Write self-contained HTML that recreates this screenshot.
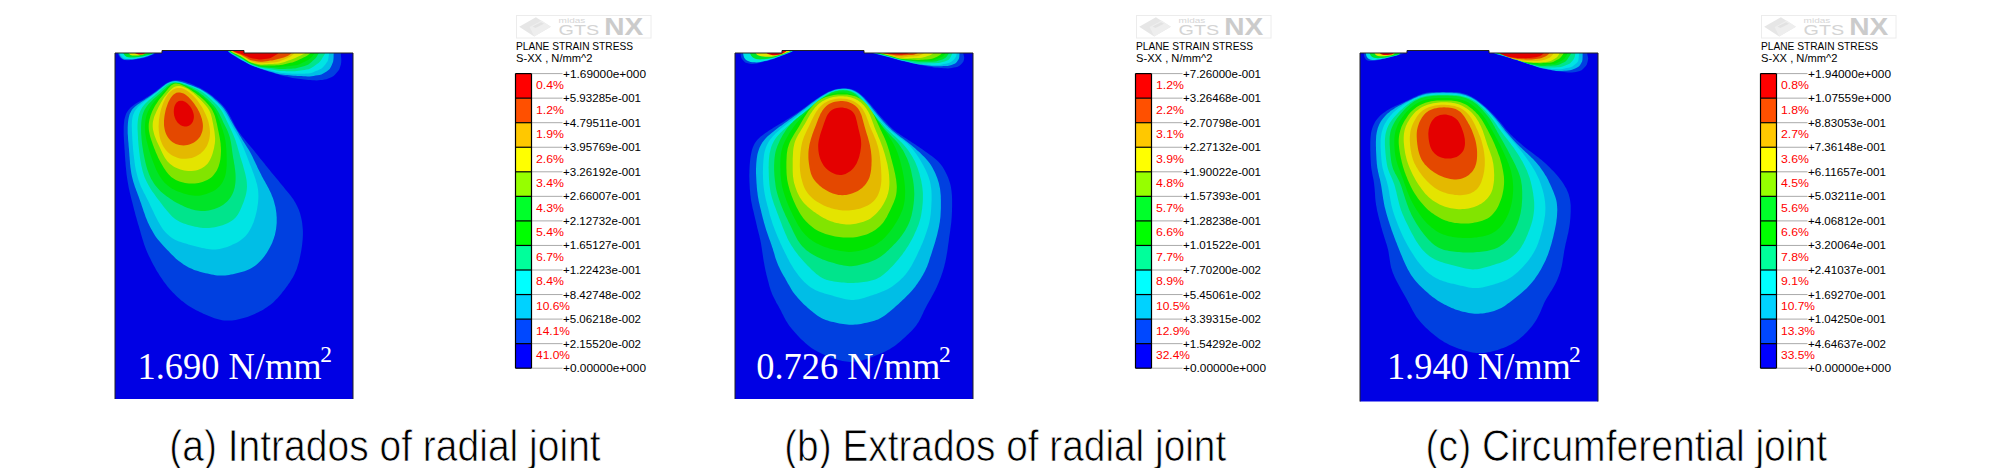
<!DOCTYPE html>
<html><head><meta charset="utf-8"><style>
html,body{margin:0;padding:0;background:#fff;width:2008px;height:468px;overflow:hidden;}
svg{display:block;}
</style></head><body>
<svg width="2008" height="468" viewBox="0 0 2008 468">
<clipPath id="clip0"><path d="M115,399 L115,53 L162,53 L162,50.5 L244,50.5 L244,53 L353,53 L353,399Z"/></clipPath>
<path d="M115,399 L115,53 L162,53 L162,50.5 L244,50.5 L244,53 L353,53 L353,399Z" fill="#0000e4"/>
<g clip-path="url(#clip0)"><g>
<path d="M175.1,80.3 L177.0,80.2 L178.9,80.4 L180.8,80.6 L182.7,81.1 L184.6,81.6 L186.4,82.2 L188.3,82.9 L190.2,83.6 L192.0,84.3 L193.8,85.1 L195.7,85.9 L197.5,86.7 L199.3,87.6 L201.1,88.5 L202.8,89.4 L204.5,90.4 L206.2,91.4 L207.9,92.5 L209.5,93.7 L211.1,94.9 L212.6,96.1 L214.2,97.4 L215.7,98.7 L217.2,100.0 L218.7,101.3 L220.1,102.7 L221.5,104.1 L222.8,105.6 L224.1,107.0 L225.4,108.6 L226.5,110.2 L227.6,111.8 L228.6,113.5 L229.6,115.2 L230.5,116.9 L231.4,118.7 L232.3,120.5 L233.2,122.3 L234.1,124.0 L235.0,125.8 L236.0,127.5 L237.0,129.2 L238.1,130.9 L239.2,132.5 L240.4,134.1 L241.6,135.7 L242.8,137.3 L244.1,138.8 L245.4,140.4 L246.7,141.9 L247.9,143.4 L249.2,145.0 L250.5,146.5 L251.8,148.1 L253.1,149.6 L254.3,151.1 L255.6,152.7 L256.9,154.2 L258.1,155.8 L259.4,157.4 L260.6,158.9 L261.9,160.5 L263.1,162.0 L264.4,163.6 L265.6,165.2 L266.9,166.7 L268.1,168.3 L269.4,169.8 L270.7,171.4 L271.9,172.9 L273.2,174.5 L274.5,176.0 L275.7,177.6 L277.0,179.1 L278.3,180.6 L279.6,182.2 L280.8,183.7 L282.1,185.3 L283.4,186.8 L284.7,188.4 L285.9,189.9 L287.2,191.4 L288.5,193.0 L289.7,194.5 L290.9,196.1 L292.1,197.7 L293.3,199.3 L294.3,201.0 L295.4,202.7 L296.3,204.4 L297.2,206.2 L298.0,208.0 L298.8,209.8 L299.5,211.7 L300.1,213.6 L300.6,215.5 L301.1,217.4 L301.5,219.3 L301.9,221.3 L302.2,223.2 L302.4,225.2 L302.6,227.2 L302.8,229.2 L302.9,231.2 L302.9,233.2 L302.9,235.1 L302.8,237.1 L302.7,239.1 L302.5,241.1 L302.3,243.1 L302.1,245.1 L301.8,247.0 L301.5,249.0 L301.2,251.0 L300.8,253.0 L300.4,254.9 L300.0,256.9 L299.6,258.8 L299.2,260.8 L298.7,262.7 L298.1,264.6 L297.5,266.5 L296.9,268.4 L296.2,270.3 L295.4,272.1 L294.6,273.9 L293.7,275.7 L292.8,277.4 L291.8,279.1 L290.7,280.8 L289.7,282.5 L288.5,284.1 L287.4,285.7 L286.2,287.3 L285.0,288.9 L283.8,290.5 L282.5,292.1 L281.3,293.7 L280.0,295.2 L278.7,296.7 L277.4,298.2 L276.0,299.6 L274.6,301.0 L273.2,302.4 L271.7,303.7 L270.1,304.9 L268.5,306.1 L266.9,307.2 L265.2,308.3 L263.5,309.4 L261.8,310.4 L260.1,311.3 L258.3,312.2 L256.5,313.1 L254.7,314.0 L252.9,314.8 L251.0,315.5 L249.2,316.2 L247.3,316.9 L245.4,317.5 L243.5,318.1 L241.6,318.6 L239.7,319.1 L237.7,319.6 L235.8,319.9 L233.8,320.2 L231.9,320.5 L229.9,320.6 L228.0,320.6 L226.0,320.6 L224.1,320.4 L222.1,320.2 L220.2,319.8 L218.3,319.3 L216.4,318.8 L214.5,318.2 L212.6,317.5 L210.8,316.8 L208.9,316.1 L207.1,315.3 L205.3,314.5 L203.4,313.7 L201.6,312.8 L199.8,312.0 L198.0,311.1 L196.2,310.2 L194.5,309.3 L192.7,308.3 L191.0,307.3 L189.3,306.3 L187.7,305.2 L186.0,304.0 L184.4,302.8 L182.9,301.6 L181.3,300.4 L179.8,299.1 L178.3,297.7 L176.9,296.4 L175.4,295.0 L174.0,293.6 L172.6,292.2 L171.3,290.7 L169.9,289.2 L168.6,287.7 L167.3,286.2 L166.1,284.6 L164.9,283.0 L163.7,281.4 L162.6,279.8 L161.4,278.1 L160.3,276.5 L159.2,274.8 L158.2,273.1 L157.1,271.4 L156.1,269.7 L155.2,267.9 L154.2,266.2 L153.2,264.4 L152.3,262.7 L151.4,260.9 L150.5,259.1 L149.6,257.3 L148.7,255.5 L147.9,253.7 L147.1,251.9 L146.3,250.0 L145.6,248.2 L144.9,246.3 L144.2,244.4 L143.6,242.5 L143.0,240.6 L142.4,238.7 L141.8,236.8 L141.3,234.9 L140.7,233.0 L140.2,231.1 L139.6,229.1 L139.1,227.2 L138.5,225.3 L137.9,223.4 L137.4,221.5 L136.8,219.5 L136.3,217.6 L135.7,215.7 L135.2,213.7 L134.7,211.8 L134.2,209.9 L133.7,207.9 L133.2,206.0 L132.7,204.1 L132.2,202.1 L131.7,200.2 L131.2,198.3 L130.7,196.3 L130.3,194.4 L129.8,192.4 L129.4,190.5 L128.9,188.5 L128.5,186.6 L128.2,184.6 L127.8,182.6 L127.5,180.7 L127.2,178.7 L126.9,176.7 L126.6,174.7 L126.4,172.7 L126.2,170.8 L126.0,168.8 L125.8,166.8 L125.6,164.8 L125.5,162.8 L125.3,160.8 L125.2,158.8 L125.0,156.8 L124.9,154.8 L124.8,152.8 L124.7,150.8 L124.5,148.8 L124.4,146.8 L124.3,144.8 L124.1,142.8 L124.0,140.8 L123.9,138.8 L123.8,136.8 L123.7,134.8 L123.7,132.9 L123.7,130.9 L123.7,128.9 L123.7,126.9 L123.8,124.9 L124.0,122.9 L124.2,121.0 L124.5,119.1 L125.0,117.2 L125.5,115.4 L126.2,113.6 L127.1,112.0 L128.1,110.4 L129.3,109.0 L130.6,107.6 L132.0,106.4 L133.6,105.2 L135.2,104.1 L136.8,103.1 L138.6,102.1 L140.3,101.1 L142.0,100.2 L143.7,99.2 L145.5,98.1 L147.2,97.1 L148.8,96.0 L150.5,94.9 L152.2,93.8 L153.8,92.7 L155.4,91.5 L157.0,90.3 L158.6,89.1 L160.1,87.8 L161.7,86.6 L163.2,85.4 L164.8,84.3 L166.4,83.2 L168.1,82.3 L169.8,81.5 L171.5,80.9 L173.3,80.5Z" fill="#0040e0"/>
<path d="M175.5,81.1 L177.4,81.3 L179.2,81.5 L181.1,82.0 L183.0,82.5 L184.9,83.1 L186.8,83.7 L188.6,84.4 L190.5,85.1 L192.4,85.8 L194.3,86.5 L196.1,87.2 L197.9,88.0 L199.7,88.8 L201.5,89.7 L203.2,90.7 L204.9,91.7 L206.6,92.7 L208.2,93.9 L209.8,95.1 L211.4,96.3 L212.9,97.6 L214.4,98.9 L215.9,100.2 L217.4,101.5 L218.8,102.9 L220.2,104.3 L221.6,105.8 L222.9,107.2 L224.1,108.8 L225.2,110.4 L226.3,112.0 L227.3,113.7 L228.3,115.4 L229.2,117.1 L230.1,118.9 L231.1,120.6 L232.0,122.3 L233.0,124.1 L234.0,125.8 L235.0,127.5 L236.1,129.2 L237.1,130.9 L238.1,132.6 L239.1,134.4 L240.1,136.1 L241.2,137.8 L242.2,139.5 L243.3,141.2 L244.3,142.8 L245.4,144.5 L246.5,146.2 L247.6,147.9 L248.6,149.6 L249.6,151.3 L250.6,153.0 L251.5,154.8 L252.4,156.6 L253.3,158.4 L254.1,160.2 L255.0,162.0 L255.8,163.8 L256.7,165.6 L257.5,167.4 L258.4,169.2 L259.3,171.0 L260.2,172.8 L261.1,174.6 L262.0,176.4 L262.9,178.1 L263.9,179.9 L264.9,181.6 L265.9,183.4 L266.8,185.1 L267.8,186.9 L268.7,188.6 L269.6,190.4 L270.5,192.2 L271.3,194.0 L272.0,195.9 L272.8,197.7 L273.4,199.6 L274.0,201.5 L274.5,203.4 L275.0,205.4 L275.5,207.3 L275.8,209.3 L276.1,211.2 L276.4,213.2 L276.5,215.2 L276.7,217.2 L276.7,219.1 L276.7,221.1 L276.7,223.1 L276.5,225.1 L276.3,227.1 L276.1,229.1 L275.7,231.0 L275.3,233.0 L274.9,234.9 L274.3,236.8 L273.7,238.7 L273.0,240.5 L272.3,242.4 L271.5,244.2 L270.6,246.0 L269.7,247.7 L268.7,249.5 L267.7,251.2 L266.7,252.9 L265.6,254.5 L264.4,256.2 L263.2,257.7 L262.0,259.3 L260.6,260.7 L259.3,262.1 L257.8,263.5 L256.4,264.8 L254.8,266.0 L253.2,267.1 L251.6,268.1 L249.8,269.0 L248.1,269.8 L246.3,270.6 L244.4,271.2 L242.5,271.8 L240.6,272.3 L238.7,272.8 L236.7,273.3 L234.8,273.7 L232.9,274.2 L230.9,274.6 L229.0,274.9 L227.0,275.2 L225.1,275.5 L223.1,275.6 L221.2,275.6 L219.2,275.6 L217.3,275.4 L215.3,275.2 L213.4,274.8 L211.4,274.5 L209.5,274.1 L207.5,273.6 L205.6,273.2 L203.6,272.7 L201.7,272.2 L199.8,271.7 L197.9,271.1 L196.0,270.5 L194.1,269.9 L192.3,269.1 L190.5,268.3 L188.7,267.4 L187.0,266.5 L185.3,265.5 L183.6,264.4 L182.0,263.3 L180.3,262.1 L178.8,260.9 L177.2,259.7 L175.7,258.4 L174.3,257.0 L172.8,255.6 L171.4,254.2 L170.0,252.8 L168.7,251.3 L167.3,249.9 L165.9,248.5 L164.5,247.0 L163.1,245.6 L161.8,244.1 L160.5,242.6 L159.2,241.1 L157.9,239.6 L156.7,238.0 L155.6,236.4 L154.5,234.7 L153.5,233.0 L152.5,231.3 L151.5,229.5 L150.5,227.8 L149.6,226.0 L148.8,224.2 L147.9,222.4 L147.1,220.6 L146.4,218.7 L145.6,216.9 L145.0,215.0 L144.3,213.1 L143.6,211.2 L143.0,209.3 L142.4,207.4 L141.7,205.5 L141.1,203.6 L140.4,201.7 L139.7,199.8 L139.1,198.0 L138.4,196.1 L137.7,194.2 L137.0,192.3 L136.3,190.5 L135.6,188.6 L134.9,186.7 L134.3,184.8 L133.7,182.9 L133.1,181.0 L132.6,179.1 L132.1,177.1 L131.7,175.2 L131.3,173.2 L131.0,171.3 L130.7,169.3 L130.4,167.3 L130.2,165.3 L130.0,163.3 L129.9,161.3 L129.7,159.3 L129.6,157.4 L129.4,155.4 L129.3,153.4 L129.1,151.4 L129.0,149.4 L128.8,147.4 L128.6,145.4 L128.5,143.4 L128.3,141.4 L128.1,139.4 L128.0,137.4 L127.9,135.4 L127.7,133.4 L127.7,131.4 L127.7,129.4 L127.7,127.4 L127.8,125.4 L127.9,123.5 L128.1,121.5 L128.4,119.6 L128.7,117.7 L129.2,115.8 L129.7,114.1 L130.5,112.4 L131.4,110.8 L132.4,109.3 L133.6,107.9 L134.9,106.7 L136.4,105.4 L138.0,104.3 L139.6,103.2 L141.2,102.1 L142.9,101.0 L144.6,99.9 L146.2,98.8 L147.9,97.7 L149.6,96.6 L151.2,95.5 L152.8,94.3 L154.4,93.1 L156.0,91.9 L157.6,90.7 L159.1,89.4 L160.7,88.2 L162.2,86.9 L163.8,85.7 L165.3,84.6 L166.9,83.6 L168.5,82.7 L170.2,82.0 L171.9,81.5 L173.7,81.2Z" fill="#00bee6"/>
<path d="M176.1,81.6 L177.9,81.8 L179.8,82.1 L181.6,82.6 L183.5,83.1 L185.4,83.7 L187.3,84.4 L189.2,85.0 L191.1,85.7 L192.9,86.4 L194.8,87.2 L196.6,87.9 L198.4,88.8 L200.2,89.6 L202.0,90.6 L203.6,91.6 L205.3,92.7 L206.9,93.8 L208.5,95.0 L210.0,96.3 L211.5,97.6 L213.0,98.9 L214.5,100.3 L215.9,101.7 L217.4,103.1 L218.7,104.5 L220.1,106.0 L221.3,107.5 L222.6,109.0 L223.7,110.6 L224.8,112.3 L225.8,114.0 L226.7,115.7 L227.7,117.5 L228.6,119.2 L229.5,121.0 L230.5,122.8 L231.4,124.5 L232.4,126.2 L233.4,128.0 L234.4,129.7 L235.4,131.5 L236.4,133.2 L237.3,135.0 L238.3,136.7 L239.2,138.5 L240.1,140.3 L241.0,142.1 L241.8,144.0 L242.6,145.8 L243.4,147.6 L244.2,149.5 L244.9,151.3 L245.7,153.2 L246.4,155.1 L247.2,156.9 L247.9,158.8 L248.6,160.7 L249.3,162.5 L250.0,164.4 L250.8,166.3 L251.5,168.2 L252.2,170.0 L252.9,171.9 L253.6,173.8 L254.3,175.7 L254.9,177.6 L255.6,179.5 L256.1,181.4 L256.7,183.3 L257.2,185.2 L257.6,187.2 L257.9,189.1 L258.2,191.1 L258.3,193.0 L258.4,195.0 L258.4,197.0 L258.3,199.0 L258.2,201.0 L258.0,203.0 L257.7,205.0 L257.4,206.9 L257.1,208.9 L256.7,210.9 L256.3,212.8 L255.8,214.8 L255.3,216.7 L254.7,218.6 L254.1,220.5 L253.5,222.4 L252.7,224.2 L251.9,226.1 L251.1,227.8 L250.1,229.6 L249.1,231.3 L248.0,232.9 L246.8,234.4 L245.6,235.9 L244.2,237.3 L242.8,238.6 L241.2,239.8 L239.6,240.9 L238.0,241.9 L236.3,242.9 L234.5,243.8 L232.7,244.6 L230.9,245.4 L229.0,246.2 L227.2,246.9 L225.3,247.5 L223.4,248.1 L221.5,248.6 L219.6,249.0 L217.6,249.3 L215.7,249.5 L213.8,249.6 L211.8,249.5 L209.9,249.3 L208.0,249.1 L206.0,248.7 L204.1,248.3 L202.1,247.9 L200.2,247.4 L198.2,246.9 L196.3,246.4 L194.3,245.9 L192.4,245.4 L190.5,244.9 L188.5,244.4 L186.6,243.8 L184.7,243.3 L182.8,242.7 L180.9,242.1 L179.0,241.4 L177.2,240.7 L175.4,239.9 L173.7,239.0 L172.0,238.0 L170.4,236.8 L168.9,235.6 L167.5,234.3 L166.1,232.9 L164.8,231.5 L163.5,229.9 L162.4,228.4 L161.3,226.7 L160.2,225.0 L159.2,223.3 L158.2,221.6 L157.3,219.8 L156.4,218.0 L155.5,216.2 L154.6,214.4 L153.7,212.6 L152.9,210.8 L152.0,209.0 L151.2,207.2 L150.3,205.4 L149.5,203.6 L148.6,201.8 L147.7,200.0 L146.8,198.2 L145.9,196.4 L145.0,194.6 L144.0,192.9 L143.1,191.1 L142.3,189.3 L141.4,187.5 L140.6,185.7 L139.9,183.8 L139.2,181.9 L138.5,180.1 L137.9,178.1 L137.4,176.2 L136.9,174.3 L136.4,172.3 L136.0,170.4 L135.6,168.4 L135.2,166.5 L134.9,164.5 L134.6,162.5 L134.4,160.5 L134.1,158.5 L133.9,156.5 L133.6,154.5 L133.4,152.5 L133.2,150.5 L133.0,148.5 L132.9,146.5 L132.7,144.5 L132.6,142.5 L132.4,140.5 L132.3,138.5 L132.2,136.5 L132.1,134.5 L132.0,132.5 L131.9,130.5 L131.9,128.5 L131.8,126.5 L131.8,124.5 L131.9,122.6 L132.0,120.6 L132.3,118.7 L132.6,116.8 L133.1,115.0 L133.8,113.2 L134.6,111.5 L135.5,109.9 L136.7,108.4 L137.9,106.9 L139.3,105.6 L140.8,104.3 L142.3,103.0 L143.8,101.8 L145.4,100.6 L147.1,99.4 L148.7,98.2 L150.3,97.0 L151.9,95.8 L153.5,94.6 L155.1,93.4 L156.7,92.2 L158.2,90.9 L159.8,89.7 L161.3,88.4 L162.8,87.1 L164.4,85.9 L165.9,84.8 L167.5,83.8 L169.1,82.9 L170.7,82.3 L172.5,81.8 L174.2,81.6Z" fill="#00e4e4"/>
<path d="M176.6,82.2 L178.4,82.4 L180.3,82.8 L182.2,83.3 L184.0,83.9 L185.9,84.5 L187.8,85.2 L189.7,85.9 L191.5,86.6 L193.4,87.4 L195.2,88.2 L197.0,89.0 L198.8,89.9 L200.5,90.9 L202.1,92.0 L203.7,93.1 L205.3,94.3 L206.9,95.6 L208.4,96.9 L209.9,98.2 L211.4,99.5 L212.8,100.9 L214.3,102.3 L215.7,103.7 L217.1,105.1 L218.4,106.6 L219.7,108.1 L220.8,109.6 L221.9,111.3 L222.9,112.9 L223.8,114.7 L224.7,116.4 L225.6,118.2 L226.4,120.0 L227.2,121.8 L228.1,123.6 L229.0,125.5 L229.8,127.3 L230.7,129.1 L231.6,130.9 L232.4,132.7 L233.2,134.5 L234.0,136.4 L234.7,138.2 L235.4,140.1 L236.0,142.0 L236.6,143.9 L237.2,145.8 L237.7,147.8 L238.3,149.7 L238.8,151.6 L239.4,153.5 L239.9,155.5 L240.5,157.4 L241.1,159.3 L241.7,161.2 L242.3,163.1 L242.9,165.1 L243.4,167.0 L244.0,168.9 L244.5,170.9 L245.0,172.8 L245.5,174.7 L245.9,176.7 L246.3,178.7 L246.6,180.6 L246.8,182.6 L246.9,184.6 L247.0,186.5 L246.9,188.5 L246.7,190.4 L246.4,192.3 L246.0,194.3 L245.5,196.2 L244.9,198.1 L244.3,200.0 L243.6,201.9 L242.9,203.7 L242.2,205.6 L241.4,207.4 L240.6,209.3 L239.8,211.0 L238.9,212.8 L237.9,214.4 L236.8,216.0 L235.6,217.5 L234.3,218.8 L232.9,220.0 L231.4,221.1 L229.7,222.1 L228.0,223.0 L226.3,223.8 L224.4,224.5 L222.6,225.2 L220.7,225.8 L218.7,226.3 L216.8,226.8 L214.9,227.2 L212.9,227.6 L211.0,227.8 L209.0,228.0 L207.0,228.0 L205.0,228.0 L203.1,227.9 L201.1,227.7 L199.1,227.4 L197.2,227.1 L195.2,226.7 L193.3,226.3 L191.3,225.8 L189.4,225.3 L187.5,224.7 L185.6,224.1 L183.7,223.4 L181.9,222.7 L180.1,221.9 L178.4,221.0 L176.7,220.0 L175.1,218.9 L173.6,217.7 L172.1,216.4 L170.7,215.1 L169.4,213.6 L168.1,212.1 L166.8,210.6 L165.6,209.0 L164.3,207.4 L163.1,205.9 L161.9,204.3 L160.7,202.7 L159.5,201.1 L158.2,199.5 L157.0,197.9 L155.8,196.3 L154.6,194.6 L153.5,193.0 L152.3,191.4 L151.2,189.7 L150.1,188.0 L149.1,186.3 L148.1,184.6 L147.2,182.8 L146.3,181.0 L145.5,179.2 L144.7,177.4 L144.0,175.5 L143.4,173.6 L142.8,171.7 L142.3,169.8 L141.9,167.8 L141.4,165.9 L141.0,163.9 L140.7,161.9 L140.3,159.9 L140.0,158.0 L139.7,156.0 L139.5,154.0 L139.2,152.0 L139.0,150.0 L138.8,148.0 L138.6,146.0 L138.4,144.0 L138.3,142.0 L138.1,140.0 L138.0,138.0 L137.9,136.0 L137.8,134.0 L137.7,132.0 L137.6,130.0 L137.5,128.0 L137.5,126.0 L137.6,124.1 L137.7,122.1 L137.9,120.2 L138.2,118.3 L138.5,116.4 L139.0,114.6 L139.6,112.8 L140.3,111.1 L141.1,109.4 L142.0,107.8 L143.1,106.2 L144.3,104.8 L145.6,103.3 L147.0,102.0 L148.5,100.6 L150.0,99.3 L151.5,98.0 L153.0,96.7 L154.5,95.4 L156.1,94.0 L157.6,92.7 L159.1,91.4 L160.6,90.1 L162.1,88.8 L163.6,87.5 L165.1,86.3 L166.6,85.1 L168.1,84.1 L169.7,83.3 L171.4,82.7 L173.1,82.3 L174.8,82.1Z" fill="#00e48c"/>
<path d="M177.2,82.9 L179.0,83.2 L180.8,83.6 L182.6,84.2 L184.4,84.9 L186.2,85.6 L188.1,86.4 L189.9,87.2 L191.7,88.1 L193.4,89.0 L195.1,89.9 L196.8,90.9 L198.5,92.0 L200.1,93.2 L201.7,94.4 L203.3,95.6 L204.8,96.9 L206.3,98.2 L207.8,99.5 L209.2,100.9 L210.7,102.3 L212.0,103.7 L213.4,105.1 L214.6,106.6 L215.8,108.1 L216.9,109.7 L218.0,111.4 L218.9,113.1 L219.8,114.8 L220.6,116.6 L221.5,118.3 L222.3,120.1 L223.1,121.9 L224.0,123.7 L224.9,125.4 L225.8,127.2 L226.7,129.0 L227.5,130.8 L228.2,132.6 L228.9,134.5 L229.5,136.3 L230.1,138.2 L230.5,140.2 L230.9,142.1 L231.2,144.1 L231.5,146.0 L231.8,148.0 L232.0,150.0 L232.3,151.9 L232.6,153.9 L232.9,155.9 L233.2,157.9 L233.6,159.8 L233.9,161.8 L234.2,163.8 L234.6,165.8 L234.8,167.7 L235.1,169.7 L235.3,171.7 L235.5,173.7 L235.6,175.7 L235.6,177.6 L235.6,179.6 L235.5,181.6 L235.3,183.6 L235.0,185.5 L234.7,187.4 L234.2,189.3 L233.6,191.2 L232.9,193.0 L232.1,194.7 L231.1,196.4 L230.1,198.0 L228.9,199.6 L227.7,201.0 L226.3,202.3 L224.8,203.6 L223.3,204.7 L221.6,205.8 L219.9,206.7 L218.2,207.6 L216.4,208.3 L214.5,209.0 L212.6,209.5 L210.7,210.0 L208.8,210.4 L206.9,210.7 L205.0,210.9 L203.0,211.0 L201.1,211.0 L199.2,210.8 L197.2,210.5 L195.3,210.2 L193.4,209.7 L191.5,209.2 L189.6,208.6 L187.7,208.0 L185.9,207.2 L184.1,206.5 L182.3,205.6 L180.5,204.8 L178.7,203.8 L177.0,202.9 L175.2,201.9 L173.5,200.9 L171.8,199.8 L170.2,198.7 L168.5,197.6 L166.9,196.4 L165.3,195.2 L163.7,194.0 L162.2,192.7 L160.7,191.4 L159.3,190.0 L158.0,188.6 L156.7,187.1 L155.4,185.6 L154.3,184.0 L153.2,182.3 L152.2,180.6 L151.2,178.9 L150.3,177.1 L149.5,175.3 L148.8,173.5 L148.1,171.6 L147.4,169.8 L146.9,167.9 L146.3,165.9 L145.8,164.0 L145.3,162.1 L144.9,160.1 L144.5,158.2 L144.1,156.2 L143.7,154.2 L143.3,152.3 L143.0,150.3 L142.7,148.3 L142.4,146.4 L142.1,144.4 L141.9,142.4 L141.7,140.4 L141.5,138.4 L141.4,136.4 L141.2,134.4 L141.1,132.4 L141.1,130.4 L141.1,128.4 L141.1,126.5 L141.2,124.5 L141.3,122.5 L141.5,120.5 L141.8,118.6 L142.1,116.7 L142.6,114.8 L143.2,113.0 L143.9,111.2 L144.7,109.5 L145.7,107.9 L146.8,106.3 L148.0,104.8 L149.3,103.3 L150.7,101.9 L152.1,100.5 L153.5,99.1 L155.0,97.8 L156.5,96.4 L158.0,95.1 L159.5,93.8 L161.0,92.5 L162.4,91.1 L163.8,89.8 L165.2,88.4 L166.6,87.1 L168.0,85.9 L169.4,84.9 L170.9,84.0 L172.4,83.3 L173.9,82.9 L175.6,82.8Z" fill="#00e428"/>
<path d="M177.6,83.3 L179.3,83.6 L181.1,84.2 L182.8,84.8 L184.6,85.6 L186.4,86.4 L188.2,87.3 L190.0,88.2 L191.7,89.2 L193.4,90.2 L195.1,91.3 L196.8,92.4 L198.4,93.5 L200.0,94.8 L201.5,96.0 L203.1,97.3 L204.6,98.6 L206.0,100.0 L207.5,101.3 L208.9,102.8 L210.2,104.2 L211.5,105.7 L212.7,107.2 L213.9,108.8 L214.9,110.5 L215.8,112.2 L216.7,114.0 L217.5,115.8 L218.2,117.6 L218.9,119.5 L219.6,121.3 L220.3,123.2 L221.0,125.1 L221.6,127.0 L222.3,128.9 L222.9,130.8 L223.5,132.7 L224.1,134.6 L224.6,136.6 L225.0,138.5 L225.4,140.5 L225.7,142.4 L225.9,144.4 L226.1,146.4 L226.3,148.4 L226.4,150.4 L226.5,152.4 L226.6,154.4 L226.6,156.4 L226.7,158.4 L226.7,160.4 L226.7,162.4 L226.7,164.4 L226.6,166.4 L226.4,168.4 L226.2,170.4 L226.0,172.3 L225.6,174.3 L225.1,176.2 L224.5,178.0 L223.7,179.8 L222.9,181.5 L221.9,183.2 L220.8,184.7 L219.6,186.2 L218.2,187.5 L216.8,188.8 L215.2,189.9 L213.6,190.9 L211.9,191.8 L210.1,192.6 L208.2,193.3 L206.4,193.9 L204.5,194.5 L202.6,195.0 L200.7,195.4 L198.8,195.7 L196.9,195.8 L195.0,195.7 L193.1,195.6 L191.2,195.3 L189.2,194.9 L187.3,194.5 L185.4,193.9 L183.5,193.4 L181.6,192.8 L179.7,192.1 L177.9,191.4 L176.0,190.7 L174.3,189.8 L172.5,188.9 L170.9,187.9 L169.3,186.7 L167.7,185.5 L166.3,184.2 L164.8,182.9 L163.5,181.4 L162.3,179.9 L161.1,178.3 L160.0,176.7 L159.0,175.0 L158.0,173.3 L157.1,171.5 L156.2,169.7 L155.4,167.8 L154.7,166.0 L153.9,164.1 L153.2,162.3 L152.5,160.4 L151.8,158.5 L151.1,156.6 L150.5,154.7 L149.9,152.8 L149.3,150.9 L148.7,148.9 L148.2,147.0 L147.7,145.1 L147.2,143.1 L146.7,141.2 L146.3,139.2 L145.9,137.2 L145.6,135.3 L145.3,133.3 L145.1,131.3 L145.0,129.3 L144.9,127.4 L145.0,125.4 L145.1,123.4 L145.3,121.4 L145.6,119.5 L146.0,117.6 L146.5,115.6 L147.1,113.8 L147.8,111.9 L148.6,110.2 L149.5,108.4 L150.5,106.7 L151.6,105.1 L152.8,103.5 L154.0,102.0 L155.3,100.5 L156.7,99.0 L158.1,97.5 L159.5,96.1 L160.9,94.7 L162.3,93.3 L163.6,91.8 L165.0,90.4 L166.3,89.0 L167.6,87.6 L168.9,86.4 L170.2,85.2 L171.5,84.3 L173.0,83.7 L174.4,83.3 L176.0,83.2Z" fill="#00e400"/>
<path d="M177.9,83.7 L179.5,84.1 L181.2,84.7 L182.9,85.5 L184.6,86.3 L186.3,87.3 L188.1,88.2 L189.8,89.2 L191.5,90.3 L193.1,91.4 L194.8,92.5 L196.4,93.7 L198.0,94.9 L199.5,96.1 L201.1,97.4 L202.6,98.7 L204.0,100.1 L205.5,101.5 L206.8,102.9 L208.2,104.4 L209.4,105.9 L210.6,107.4 L211.6,109.1 L212.6,110.8 L213.4,112.5 L214.2,114.3 L214.9,116.1 L215.4,118.0 L216.0,119.9 L216.4,121.9 L216.9,123.8 L217.3,125.8 L217.7,127.7 L218.1,129.7 L218.5,131.6 L218.9,133.6 L219.3,135.5 L219.7,137.5 L220.0,139.5 L220.3,141.5 L220.6,143.4 L220.7,145.4 L220.9,147.4 L221.0,149.4 L221.0,151.4 L220.9,153.4 L220.8,155.3 L220.6,157.3 L220.4,159.3 L220.0,161.2 L219.6,163.1 L219.0,165.0 L218.4,166.9 L217.6,168.7 L216.8,170.4 L215.8,172.1 L214.7,173.6 L213.6,175.1 L212.3,176.5 L210.9,177.7 L209.3,178.8 L207.7,179.8 L206.0,180.6 L204.2,181.3 L202.4,181.9 L200.5,182.5 L198.6,182.9 L196.7,183.2 L194.8,183.5 L192.8,183.6 L190.9,183.6 L189.0,183.5 L187.0,183.3 L185.1,183.0 L183.2,182.6 L181.3,182.1 L179.5,181.5 L177.6,180.8 L175.9,180.0 L174.3,179.1 L172.7,178.1 L171.2,176.9 L169.8,175.6 L168.5,174.2 L167.3,172.7 L166.1,171.2 L165.0,169.5 L163.9,167.9 L162.9,166.2 L161.9,164.5 L160.9,162.7 L159.9,161.0 L159.0,159.2 L158.1,157.4 L157.3,155.6 L156.5,153.8 L155.7,151.9 L155.0,150.1 L154.2,148.2 L153.5,146.3 L152.8,144.4 L152.2,142.6 L151.5,140.7 L150.9,138.8 L150.3,136.9 L149.8,135.0 L149.4,133.1 L149.0,131.1 L148.8,129.2 L148.7,127.3 L148.7,125.3 L148.8,123.4 L149.1,121.5 L149.5,119.6 L150.0,117.7 L150.5,115.8 L151.2,113.9 L151.9,112.1 L152.7,110.3 L153.6,108.5 L154.5,106.7 L155.5,105.0 L156.6,103.4 L157.7,101.7 L158.8,100.1 L160.0,98.5 L161.3,97.0 L162.6,95.5 L163.8,94.0 L165.1,92.5 L166.3,91.0 L167.5,89.5 L168.7,88.1 L169.9,86.8 L171.1,85.6 L172.3,84.7 L173.6,84.0 L174.9,83.6 L176.4,83.5Z" fill="#82e400"/>
<path d="M178.1,86.0 L179.9,86.1 L181.6,86.4 L183.4,87.0 L185.2,87.8 L186.9,88.6 L188.6,89.6 L190.3,90.7 L191.9,91.9 L193.5,93.1 L195.0,94.4 L196.4,95.8 L197.9,97.2 L199.3,98.6 L200.8,100.0 L202.2,101.4 L203.6,102.9 L204.9,104.4 L206.2,105.9 L207.4,107.4 L208.4,109.1 L209.4,110.7 L210.2,112.5 L210.9,114.3 L211.4,116.2 L211.9,118.1 L212.3,120.1 L212.7,122.1 L213.1,124.0 L213.5,126.0 L213.8,128.0 L214.2,130.0 L214.5,132.0 L214.7,133.9 L214.9,135.9 L215.1,137.9 L215.1,139.9 L215.0,141.8 L214.8,143.8 L214.4,145.8 L214.1,147.7 L213.6,149.7 L213.1,151.6 L212.6,153.5 L211.9,155.4 L211.2,157.3 L210.4,159.1 L209.5,160.8 L208.4,162.4 L207.3,163.9 L205.9,165.3 L204.5,166.5 L202.9,167.6 L201.3,168.5 L199.5,169.3 L197.7,169.9 L195.8,170.4 L193.9,170.8 L191.9,171.0 L190.0,171.0 L188.1,170.9 L186.1,170.7 L184.2,170.4 L182.3,169.9 L180.4,169.4 L178.5,168.8 L176.7,168.0 L174.9,167.2 L173.2,166.2 L171.6,165.1 L170.1,163.9 L168.6,162.6 L167.3,161.2 L166.1,159.6 L165.0,158.0 L164.0,156.3 L163.1,154.6 L162.2,152.8 L161.4,151.0 L160.6,149.2 L159.7,147.3 L158.8,145.5 L158.0,143.7 L157.1,141.9 L156.3,140.0 L155.6,138.2 L154.8,136.3 L154.2,134.4 L153.7,132.5 L153.2,130.6 L152.9,128.7 L152.7,126.7 L152.7,124.8 L152.8,122.8 L153.1,120.9 L153.6,119.0 L154.1,117.1 L154.8,115.3 L155.6,113.4 L156.4,111.6 L157.3,109.8 L158.1,108.0 L159.0,106.2 L160.0,104.4 L160.9,102.7 L162.0,100.9 L163.0,99.3 L164.1,97.6 L165.3,96.0 L166.6,94.4 L167.8,92.9 L169.1,91.4 L170.4,90.0 L171.8,88.7 L173.3,87.6 L174.8,86.8 L176.4,86.2Z" fill="#e4e400"/>
<path d="M207.4,118.7 L208.0,120.6 L208.6,122.6 L209.0,124.5 L209.4,126.5 L209.7,128.5 L209.9,130.5 L210.0,132.5 L209.9,134.5 L209.7,136.4 L209.4,138.4 L209.0,140.3 L208.4,142.2 L207.7,144.1 L206.9,145.9 L205.9,147.6 L204.7,149.2 L203.5,150.7 L202.1,152.1 L200.6,153.4 L199.0,154.6 L197.3,155.6 L195.5,156.5 L193.7,157.3 L191.8,157.9 L189.9,158.3 L187.9,158.6 L186.0,158.8 L184.0,158.8 L182.0,158.7 L180.0,158.4 L178.1,157.9 L176.2,157.3 L174.4,156.6 L172.7,155.7 L171.0,154.7 L169.4,153.5 L167.9,152.2 L166.5,150.8 L165.3,149.2 L164.1,147.6 L163.1,145.9 L162.2,144.2 L161.4,142.3 L160.7,140.5 L160.1,138.5 L159.6,136.6 L159.3,134.6 L159.0,132.6 L158.8,130.7 L158.7,128.6 L158.6,126.6 L158.7,124.6 L158.8,122.6 L158.9,120.6 L159.2,118.6 L159.5,116.6 L159.8,114.6 L160.2,112.7 L160.7,110.7 L161.2,108.8 L161.8,106.9 L162.5,105.0 L163.2,103.1 L164.0,101.2 L164.8,99.4 L165.8,97.6 L166.8,95.9 L167.9,94.3 L169.2,92.8 L170.5,91.4 L172.0,90.2 L173.6,89.2 L175.4,88.5 L177.2,88.1 L179.0,88.0 L180.9,88.1 L182.7,88.6 L184.5,89.3 L186.3,90.2 L187.9,91.3 L189.5,92.4 L191.0,93.7 L192.5,95.1 L193.9,96.5 L195.3,98.0 L196.6,99.6 L197.8,101.1 L199.0,102.8 L200.1,104.4 L201.2,106.1 L202.3,107.8 L203.3,109.6 L204.2,111.4 L205.1,113.2 L205.9,115.0 L206.7,116.9Z" fill="#e4b900"/>
<path d="M200.6,115.3 L201.3,117.2 L201.9,119.1 L202.3,121.1 L202.7,123.0 L202.9,125.0 L202.9,127.0 L202.7,129.0 L202.4,130.9 L201.8,132.8 L201.1,134.6 L200.2,136.4 L199.0,138.0 L197.7,139.5 L196.3,140.8 L194.7,142.0 L193.0,143.0 L191.2,143.8 L189.3,144.5 L187.4,145.0 L185.5,145.3 L183.5,145.4 L181.5,145.3 L179.5,145.0 L177.6,144.5 L175.8,143.9 L174.0,143.0 L172.3,141.9 L170.8,140.7 L169.4,139.3 L168.2,137.8 L167.1,136.1 L166.2,134.3 L165.5,132.5 L164.9,130.6 L164.5,128.6 L164.2,126.7 L164.0,124.7 L164.0,122.7 L164.0,120.7 L164.2,118.7 L164.4,116.7 L164.7,114.7 L165.1,112.7 L165.5,110.7 L166.0,108.8 L166.6,106.9 L167.3,105.0 L168.0,103.1 L168.8,101.3 L169.8,99.5 L170.8,97.8 L172.0,96.2 L173.3,94.8 L174.8,93.7 L176.4,92.8 L178.2,92.4 L180.0,92.4 L181.9,92.9 L183.6,93.6 L185.3,94.6 L186.9,95.8 L188.4,97.1 L189.8,98.5 L191.2,100.0 L192.5,101.5 L193.7,103.1 L194.9,104.7 L196.0,106.4 L197.1,108.1 L198.1,109.9 L199.0,111.6 L199.9,113.4Z" fill="#e44800"/>
<path d="M192.4,110.3 L193.1,112.2 L193.6,114.1 L193.9,116.1 L193.8,118.1 L193.4,120.1 L192.7,122.0 L191.6,123.6 L190.1,125.0 L188.4,126.0 L186.5,126.5 L184.5,126.5 L182.5,126.1 L180.7,125.3 L179.1,124.1 L177.7,122.7 L176.5,121.1 L175.5,119.3 L174.8,117.4 L174.2,115.4 L173.9,113.4 L173.8,111.4 L173.9,109.4 L174.2,107.4 L174.8,105.4 L175.7,103.7 L177.0,102.2 L178.7,101.1 L180.5,100.7 L182.5,100.8 L184.4,101.5 L186.1,102.5 L187.7,103.7 L189.1,105.2 L190.4,106.7 L191.5,108.4Z" fill="#e40000"/>
<path d="M226.7,46.5 L226.7,47.9 L227.3,49.8 L228.1,51.5 L229.5,52.9 L231.2,54.0 L232.8,55.1 L234.5,56.1 L236.2,57.2 L238.0,58.2 L239.7,59.2 L241.5,60.2 L243.2,61.2 L245.0,62.2 L246.7,63.2 L248.5,64.1 L250.3,65.0 L252.1,65.8 L254.0,66.5 L255.9,67.2 L257.8,67.9 L259.6,68.6 L261.5,69.3 L263.5,69.9 L265.4,70.5 L267.3,71.1 L269.2,71.7 L271.1,72.3 L273.1,72.8 L275.0,73.4 L276.9,74.0 L278.8,74.6 L280.8,75.2 L282.7,75.7 L284.6,76.2 L286.6,76.6 L288.5,77.1 L290.5,77.6 L292.5,78.0 L294.4,78.3 L296.4,78.5 L298.4,78.8 L300.4,79.0 L302.4,79.3 L304.4,79.5 L306.4,79.7 L308.4,79.9 L310.4,80.0 L312.4,80.2 L314.4,80.3 L316.4,80.4 L318.4,80.3 L320.4,80.1 L322.4,79.9 L324.4,79.6 L326.4,79.2 L328.2,78.5 L330.1,77.7 L331.9,76.9 L333.6,76.0 L335.1,74.6 L336.4,73.1 L337.7,71.6 L338.9,70.0 L339.7,68.2 L340.3,66.3 L340.9,64.4 L341.2,62.4 L341.3,60.5 L341.2,58.5 L341.0,56.5 L340.9,54.5 L341.0,52.5 L341.2,50.5 L341.5,48.5 L341.5,46.9 L340.3,46.2 L338.5,46.0 L336.5,46.0 L334.5,46.0 L332.5,46.0 L330.5,46.0 L328.5,46.0 L326.5,46.0 L324.4,46.0 L322.4,46.0 L320.4,46.0 L318.4,46.0 L316.4,46.0 L314.4,46.0 L312.4,46.0 L310.4,46.0 L308.4,46.0 L306.4,46.0 L304.4,46.0 L302.3,46.0 L300.3,46.0 L298.3,46.0 L296.3,46.0 L294.3,46.0 L292.3,46.0 L290.3,46.0 L288.3,46.0 L286.3,46.0 L284.3,46.0 L282.3,46.0 L280.2,46.0 L278.2,46.0 L276.2,46.0 L274.2,46.0 L272.2,46.0 L270.2,46.0 L268.2,46.0 L266.2,46.0 L264.2,46.0 L262.2,46.0 L260.2,46.0 L258.1,46.0 L256.1,46.0 L254.1,46.0 L252.1,46.0 L250.1,46.0 L248.1,46.0 L246.1,46.0 L244.1,46.0 L242.1,46.0 L240.1,46.0 L238.1,46.0 L236.0,46.0 L234.0,46.0 L232.0,46.0 L230.0,46.0 L228.0,46.0Z" fill="#0040e0"/>
<path d="M226.7,46.5 L226.8,47.9 L227.6,49.7 L228.5,51.4 L229.9,52.8 L231.5,53.9 L233.2,55.0 L234.9,56.1 L236.6,57.1 L238.4,58.2 L240.1,59.2 L241.9,60.2 L243.6,61.1 L245.4,62.1 L247.1,63.1 L248.9,64.1 L250.7,64.9 L252.6,65.7 L254.5,66.4 L256.4,67.1 L258.2,67.8 L260.1,68.5 L262.1,69.1 L264.0,69.7 L265.9,70.3 L267.9,70.9 L269.8,71.4 L271.7,72.0 L273.6,72.6 L275.6,73.2 L277.5,73.7 L279.4,74.3 L281.4,74.6 L283.4,74.8 L285.4,75.0 L287.4,75.1 L289.5,75.3 L291.5,75.5 L293.5,75.7 L295.5,75.8 L297.5,75.9 L299.5,76.0 L301.5,76.1 L303.5,76.2 L305.5,76.3 L307.6,76.4 L309.6,76.4 L311.6,76.2 L313.5,75.9 L315.5,75.6 L317.5,75.2 L319.5,74.9 L321.4,74.4 L323.2,73.6 L324.9,72.5 L326.6,71.4 L328.2,70.2 L329.7,68.9 L330.7,67.3 L331.6,65.4 L332.4,63.6 L333.1,61.7 L333.4,59.8 L333.6,57.8 L333.6,55.8 L333.7,53.8 L334.0,51.8 L334.3,49.8 L334.6,47.9 L334.3,46.4 L332.8,46.0 L330.8,46.0 L328.8,46.0 L326.8,46.0 L324.7,46.0 L322.7,46.0 L320.7,46.0 L318.7,46.0 L316.7,46.0 L314.7,46.0 L312.6,46.0 L310.6,46.0 L308.6,46.0 L306.6,46.0 L304.6,46.0 L302.6,46.0 L300.6,46.0 L298.5,46.0 L296.5,46.0 L294.5,46.0 L292.5,46.0 L290.5,46.0 L288.5,46.0 L286.5,46.0 L284.4,46.0 L282.4,46.0 L280.4,46.0 L278.4,46.0 L276.4,46.0 L274.4,46.0 L272.3,46.0 L270.3,46.0 L268.3,46.0 L266.3,46.0 L264.3,46.0 L262.3,46.0 L260.3,46.0 L258.2,46.0 L256.2,46.0 L254.2,46.0 L252.2,46.0 L250.2,46.0 L248.2,46.0 L246.2,46.0 L244.1,46.0 L242.1,46.0 L240.1,46.0 L238.1,46.0 L236.1,46.0 L234.1,46.0 L232.0,46.0 L230.0,46.0 L228.1,46.0Z" fill="#00bee6"/>
<path d="M226.7,46.4 L226.9,47.8 L227.8,49.6 L228.8,51.3 L230.2,52.6 L231.9,53.7 L233.6,54.8 L235.3,55.8 L237.0,56.8 L238.8,57.9 L240.5,58.9 L242.2,59.9 L244.0,60.9 L245.7,61.9 L247.5,62.9 L249.2,63.9 L251.0,64.7 L252.9,65.5 L254.8,66.2 L256.6,66.9 L258.5,67.6 L260.4,68.2 L262.4,68.7 L264.3,69.2 L266.3,69.7 L268.3,70.1 L270.2,70.6 L272.2,71.0 L274.1,71.5 L276.1,71.9 L278.1,72.3 L280.0,72.7 L282.0,72.9 L284.0,73.1 L286.0,73.2 L288.0,73.4 L290.1,73.5 L292.1,73.7 L294.1,73.8 L296.1,73.8 L298.1,73.8 L300.1,73.8 L302.1,73.7 L304.1,73.7 L306.1,73.6 L308.1,73.5 L310.1,73.3 L312.0,72.7 L313.8,71.9 L315.7,71.1 L317.6,70.4 L319.4,69.6 L321.2,68.7 L322.7,67.5 L324.0,66.0 L325.3,64.4 L326.5,62.8 L327.6,61.2 L328.2,59.3 L328.5,57.4 L328.8,55.4 L329.2,53.4 L329.6,51.4 L330.1,49.5 L330.4,47.7 L330.1,46.4 L328.5,46.0 L326.5,46.0 L324.5,46.0 L322.5,46.0 L320.5,46.0 L318.5,46.0 L316.5,46.0 L314.5,46.0 L312.5,46.0 L310.5,46.0 L308.4,46.0 L306.4,46.0 L304.4,46.0 L302.4,46.0 L300.4,46.0 L298.4,46.0 L296.4,46.0 L294.4,46.0 L292.4,46.0 L290.4,46.0 L288.3,46.0 L286.3,46.0 L284.3,46.0 L282.3,46.0 L280.3,46.0 L278.3,46.0 L276.3,46.0 L274.3,46.0 L272.3,46.0 L270.2,46.0 L268.2,46.0 L266.2,46.0 L264.2,46.0 L262.2,46.0 L260.2,46.0 L258.2,46.0 L256.2,46.0 L254.2,46.0 L252.1,46.0 L250.1,46.0 L248.1,46.0 L246.1,46.0 L244.1,46.0 L242.1,46.0 L240.1,46.0 L238.1,46.0 L236.1,46.0 L234.0,46.0 L232.0,46.0 L230.0,46.0 L228.1,46.0Z" fill="#00e4e4"/>
<path d="M226.7,46.4 L227.1,47.8 L228.0,49.5 L229.1,51.1 L230.5,52.4 L232.2,53.5 L233.9,54.5 L235.7,55.5 L237.4,56.5 L239.2,57.5 L240.9,58.5 L242.6,59.6 L244.3,60.6 L246.0,61.6 L247.8,62.7 L249.5,63.6 L251.3,64.4 L253.2,65.2 L255.1,65.8 L257.0,66.5 L258.9,67.2 L260.8,67.7 L262.8,68.1 L264.7,68.4 L266.7,68.7 L268.7,69.1 L270.7,69.4 L272.7,69.8 L274.6,70.1 L276.6,70.4 L278.6,70.7 L280.6,71.0 L282.6,71.1 L284.6,71.1 L286.6,71.2 L288.6,71.2 L290.6,71.3 L292.6,71.3 L294.6,71.3 L296.6,71.1 L298.6,70.8 L300.6,70.5 L302.5,70.2 L304.5,69.9 L306.5,69.6 L308.5,69.2 L310.3,68.6 L312.0,67.6 L313.7,66.4 L315.3,65.3 L317.0,64.1 L318.6,62.9 L320.0,61.6 L321.2,60.0 L322.2,58.3 L323.3,56.6 L324.3,54.9 L325.2,53.1 L325.8,51.2 L326.2,49.3 L326.5,47.5 L325.9,46.3 L324.3,46.0 L322.3,46.0 L320.3,46.0 L318.3,46.0 L316.3,46.0 L314.3,46.0 L312.3,46.0 L310.3,46.0 L308.3,46.0 L306.3,46.0 L304.2,46.0 L302.2,46.0 L300.2,46.0 L298.2,46.0 L296.2,46.0 L294.2,46.0 L292.2,46.0 L290.2,46.0 L288.2,46.0 L286.2,46.0 L284.2,46.0 L282.2,46.0 L280.2,46.0 L278.2,46.0 L276.2,46.0 L274.2,46.0 L272.1,46.0 L270.1,46.0 L268.1,46.0 L266.1,46.0 L264.1,46.0 L262.1,46.0 L260.1,46.0 L258.1,46.0 L256.1,46.0 L254.1,46.0 L252.1,46.0 L250.1,46.0 L248.1,46.0 L246.1,46.0 L244.1,46.0 L242.1,46.0 L240.0,46.0 L238.0,46.0 L236.0,46.0 L234.0,46.0 L232.0,46.0 L230.0,46.0 L228.1,46.0Z" fill="#00e48c"/>
<path d="M226.8,46.4 L227.2,47.7 L228.2,49.3 L229.4,50.9 L230.8,52.3 L232.5,53.3 L234.2,54.2 L236.0,55.2 L237.8,56.1 L239.5,57.1 L241.3,58.1 L243.0,59.1 L244.7,60.2 L246.4,61.3 L248.1,62.3 L249.8,63.3 L251.7,64.1 L253.5,64.7 L255.4,65.4 L257.3,66.1 L259.2,66.7 L261.2,67.1 L263.1,67.3 L265.1,67.5 L267.1,67.7 L269.1,67.9 L271.1,68.1 L273.1,68.3 L275.1,68.5 L277.1,68.7 L279.1,68.9 L281.1,68.9 L283.1,68.9 L285.1,68.9 L287.1,68.8 L289.1,68.8 L291.1,68.7 L293.1,68.6 L295.1,68.5 L297.0,68.0 L298.9,67.5 L300.9,67.0 L302.8,66.4 L304.7,65.9 L306.6,65.3 L308.4,64.5 L310.0,63.3 L311.5,62.0 L313.0,60.6 L314.5,59.3 L315.9,57.9 L317.0,56.3 L318.0,54.6 L318.9,52.8 L319.6,50.9 L320.1,49.0 L320.4,47.3 L319.7,46.3 L318.1,46.0 L316.1,46.0 L314.1,46.0 L312.1,46.0 L310.1,46.0 L308.1,46.0 L306.1,46.0 L304.1,46.0 L302.1,46.0 L300.1,46.0 L298.1,46.0 L296.1,46.0 L294.1,46.0 L292.1,46.0 L290.1,46.0 L288.1,46.0 L286.1,46.0 L284.1,46.0 L282.1,46.0 L280.1,46.0 L278.1,46.0 L276.1,46.0 L274.1,46.0 L272.0,46.0 L270.0,46.0 L268.0,46.0 L266.0,46.0 L264.0,46.0 L262.0,46.0 L260.0,46.0 L258.0,46.0 L256.0,46.0 L254.0,46.0 L252.0,46.0 L250.0,46.0 L248.0,46.0 L246.0,46.0 L244.0,46.0 L242.0,46.0 L240.0,46.0 L238.0,46.0 L236.0,46.0 L234.0,46.0 L232.0,46.0 L230.0,46.0 L228.1,46.0Z" fill="#00e428"/>
<path d="M226.8,46.4 L227.3,47.6 L228.4,49.2 L229.6,50.7 L231.1,52.1 L232.8,53.1 L234.5,54.0 L236.3,54.9 L238.1,55.8 L239.9,56.7 L241.6,57.7 L243.3,58.8 L245.0,59.9 L246.7,60.9 L248.4,62.0 L250.1,62.9 L252.0,63.6 L253.9,64.3 L255.8,64.9 L257.7,65.5 L259.6,66.1 L261.6,66.3 L263.6,66.4 L265.6,66.5 L267.6,66.6 L269.6,66.6 L271.6,66.7 L273.6,66.8 L275.6,66.8 L277.6,66.9 L279.6,66.9 L281.6,66.8 L283.5,66.6 L285.5,66.4 L287.5,66.2 L289.5,65.9 L291.5,65.7 L293.5,65.5 L295.5,65.3 L297.4,64.9 L299.3,64.3 L301.1,63.4 L302.9,62.6 L304.7,61.7 L306.5,60.8 L308.2,59.9 L309.9,58.8 L311.3,57.4 L312.6,55.9 L313.8,54.3 L314.9,52.7 L315.6,50.8 L316.1,48.9 L316.4,47.2 L315.7,46.3 L314.0,46.0 L312.0,46.0 L310.0,46.0 L308.0,46.0 L306.0,46.0 L304.0,46.0 L302.0,46.0 L300.0,46.0 L298.0,46.0 L296.0,46.0 L294.0,46.0 L292.0,46.0 L290.0,46.0 L288.0,46.0 L286.0,46.0 L284.0,46.0 L282.0,46.0 L280.0,46.0 L278.0,46.0 L276.0,46.0 L274.0,46.0 L272.0,46.0 L270.0,46.0 L268.0,46.0 L266.0,46.0 L264.0,46.0 L262.0,46.0 L260.0,46.0 L258.0,46.0 L256.0,46.0 L254.0,46.0 L252.0,46.0 L250.0,46.0 L248.0,46.0 L246.0,46.0 L244.0,46.0 L242.0,46.0 L240.0,46.0 L238.0,46.0 L236.0,46.0 L234.0,46.0 L232.0,46.0 L230.0,46.0 L228.1,46.0Z" fill="#00e400"/>
<path d="M226.8,46.4 L227.3,47.6 L228.6,49.1 L229.9,50.6 L231.4,52.0 L233.1,52.9 L234.9,53.8 L236.8,54.6 L238.6,55.5 L240.4,56.3 L242.2,57.4 L243.8,58.5 L245.5,59.6 L247.2,60.7 L249.0,61.7 L250.7,62.6 L252.6,63.3 L254.6,63.9 L256.5,64.5 L258.5,65.0 L260.4,65.4 L262.4,65.5 L264.4,65.5 L266.5,65.4 L268.5,65.4 L270.5,65.4 L272.5,65.4 L274.6,65.4 L276.6,65.3 L278.6,65.3 L280.6,65.1 L282.6,64.7 L284.5,64.2 L286.5,63.8 L288.5,63.3 L290.4,62.8 L292.4,62.4 L294.3,61.8 L296.2,61.0 L298.0,60.2 L299.9,59.3 L301.7,58.5 L303.5,57.6 L305.3,56.7 L307.1,55.7 L308.7,54.6 L310.2,53.3 L311.2,51.7 L311.9,49.8 L312.4,47.9 L312.3,46.5 L310.9,46.0 L308.9,46.0 L306.9,46.0 L304.8,46.0 L302.8,46.0 L300.8,46.0 L298.8,46.0 L296.7,46.0 L294.7,46.0 L292.7,46.0 L290.7,46.0 L288.7,46.0 L286.6,46.0 L284.6,46.0 L282.6,46.0 L280.6,46.0 L278.6,46.0 L276.5,46.0 L274.5,46.0 L272.5,46.0 L270.5,46.0 L268.4,46.0 L266.4,46.0 L264.4,46.0 L262.4,46.0 L260.4,46.0 L258.3,46.0 L256.3,46.0 L254.3,46.0 L252.3,46.0 L250.3,46.0 L248.2,46.0 L246.2,46.0 L244.2,46.0 L242.2,46.0 L240.1,46.0 L238.1,46.0 L236.1,46.0 L234.1,46.0 L232.1,46.0 L230.0,46.0 L228.1,46.0Z" fill="#82e400"/>
<path d="M226.9,46.4 L227.5,47.4 L228.8,48.8 L230.3,50.3 L231.8,51.6 L233.5,52.6 L235.3,53.4 L237.1,54.3 L238.9,55.1 L240.7,56.0 L242.5,57.0 L244.1,58.1 L245.8,59.2 L247.5,60.3 L249.2,61.4 L251.0,62.2 L252.9,62.7 L254.9,63.2 L256.8,63.7 L258.8,64.1 L260.7,64.4 L262.7,64.4 L264.7,64.3 L266.7,64.2 L268.8,64.1 L270.8,64.0 L272.8,63.9 L274.8,63.8 L276.8,63.7 L278.8,63.5 L280.7,63.1 L282.6,62.6 L284.5,61.9 L286.4,61.2 L288.3,60.5 L290.2,59.9 L292.1,59.2 L294.0,58.5 L295.8,57.7 L297.7,56.8 L299.5,56.0 L301.3,55.2 L303.1,54.3 L304.8,53.4 L306.0,52.0 L306.8,50.2 L307.3,48.3 L307.4,46.8 L306.2,46.1 L304.4,46.0 L302.4,46.0 L300.3,46.0 L298.3,46.0 L296.3,46.0 L294.3,46.0 L292.3,46.0 L290.3,46.0 L288.3,46.0 L286.3,46.0 L284.3,46.0 L282.3,46.0 L280.3,46.0 L278.2,46.0 L276.2,46.0 L274.2,46.0 L272.2,46.0 L270.2,46.0 L268.2,46.0 L266.2,46.0 L264.2,46.0 L262.2,46.0 L260.2,46.0 L258.2,46.0 L256.1,46.0 L254.1,46.0 L252.1,46.0 L250.1,46.0 L248.1,46.0 L246.1,46.0 L244.1,46.0 L242.1,46.0 L240.1,46.0 L238.1,46.0 L236.0,46.0 L234.0,46.0 L232.0,46.0 L230.0,46.0 L228.1,46.0Z" fill="#e4e400"/>
<path d="M226.9,46.3 L227.6,47.3 L229.0,48.6 L230.6,49.9 L232.1,51.2 L233.8,52.2 L235.6,53.1 L237.4,53.9 L239.3,54.7 L241.1,55.5 L242.9,56.5 L244.6,57.5 L246.3,58.6 L248.0,59.7 L249.7,60.7 L251.6,61.3 L253.5,61.9 L255.4,62.4 L257.4,62.8 L259.3,63.2 L261.3,63.3 L263.3,63.2 L265.3,63.1 L267.3,62.9 L269.3,62.7 L271.3,62.6 L273.3,62.4 L275.3,62.2 L277.3,62.0 L279.2,61.4 L281.1,60.7 L282.9,59.9 L284.8,59.2 L286.6,58.4 L288.5,57.6 L290.2,56.7 L291.9,55.5 L293.4,54.3 L294.7,52.8 L295.5,51.1 L296.1,49.2 L296.4,47.4 L295.8,46.3 L294.2,46.0 L292.2,46.0 L290.2,46.0 L288.2,46.0 L286.2,46.0 L284.2,46.0 L282.2,46.0 L280.2,46.0 L278.2,46.0 L276.2,46.0 L274.2,46.0 L272.2,46.0 L270.2,46.0 L268.2,46.0 L266.1,46.0 L264.1,46.0 L262.1,46.0 L260.1,46.0 L258.1,46.0 L256.1,46.0 L254.1,46.0 L252.1,46.0 L250.1,46.0 L248.1,46.0 L246.1,46.0 L244.1,46.0 L242.1,46.0 L240.1,46.0 L238.0,46.0 L236.0,46.0 L234.0,46.0 L232.0,46.0 L230.0,46.0 L228.1,46.0Z" fill="#e4b900"/>
<path d="M226.9,46.3 L227.7,47.2 L229.2,48.4 L230.8,49.6 L232.5,50.8 L234.1,51.9 L235.9,52.8 L237.8,53.5 L239.7,54.3 L241.5,55.1 L243.3,56.0 L245.1,57.0 L246.8,58.1 L248.5,59.1 L250.3,59.9 L252.3,60.4 L254.2,60.8 L256.2,61.2 L258.2,61.6 L260.2,61.8 L262.2,61.7 L264.2,61.4 L266.2,61.2 L268.1,60.9 L270.1,60.6 L272.1,60.4 L274.1,60.1 L276.1,59.6 L278.0,59.1 L280.0,58.5 L281.9,58.0 L283.8,57.4 L285.8,56.8 L287.6,56.0 L289.3,54.9 L290.8,53.7 L292.0,52.2 L292.7,50.4 L293.3,48.5 L293.4,46.9 L292.3,46.1 L290.5,46.0 L288.5,46.0 L286.5,46.0 L284.5,46.0 L282.4,46.0 L280.4,46.0 L278.4,46.0 L276.4,46.0 L274.4,46.0 L272.4,46.0 L270.3,46.0 L268.3,46.0 L266.3,46.0 L264.3,46.0 L262.3,46.0 L260.3,46.0 L258.3,46.0 L256.2,46.0 L254.2,46.0 L252.2,46.0 L250.2,46.0 L248.2,46.0 L246.2,46.0 L244.1,46.0 L242.1,46.0 L240.1,46.0 L238.1,46.0 L236.1,46.0 L234.1,46.0 L232.0,46.0 L230.0,46.0 L228.1,46.0Z" fill="#e44800"/>
<path d="M226.9,46.3 L227.7,47.1 L229.3,48.2 L231.0,49.3 L232.7,50.4 L234.4,51.5 L236.2,52.3 L238.0,52.9 L240.0,53.5 L241.8,54.2 L243.7,54.9 L245.5,55.8 L247.3,56.6 L249.1,57.5 L251.0,58.1 L252.9,58.5 L254.9,58.8 L256.9,59.1 L258.9,59.4 L260.9,59.4 L262.8,59.3 L264.8,59.1 L266.8,58.8 L268.8,58.5 L270.6,58.0 L272.4,57.0 L274.1,56.0 L275.8,54.9 L277.5,53.9 L278.8,52.6 L279.6,50.8 L280.2,48.9 L280.4,47.2 L279.7,46.3 L278.0,46.0 L276.0,46.0 L274.0,46.0 L272.0,46.0 L270.0,46.0 L268.0,46.0 L266.0,46.0 L264.0,46.0 L262.0,46.0 L260.0,46.0 L258.0,46.0 L256.0,46.0 L254.0,46.0 L252.0,46.0 L250.0,46.0 L248.0,46.0 L246.0,46.0 L244.0,46.0 L242.0,46.0 L240.0,46.0 L238.0,46.0 L236.0,46.0 L234.0,46.0 L232.0,46.0 L230.0,46.0 L228.1,46.0Z" fill="#e40000"/>
<path d="M116.6,46.5 L116.5,48.0 L116.8,49.9 L117.3,51.9 L117.9,53.8 L118.7,55.6 L119.8,57.2 L121.2,58.6 L122.9,59.6 L124.7,60.1 L126.7,60.2 L128.7,60.2 L130.7,60.1 L132.7,59.9 L134.6,59.6 L136.6,59.3 L138.6,59.0 L140.6,58.6 L142.5,58.2 L144.5,57.7 L146.4,57.2 L148.3,56.5 L150.2,55.8 L152.0,55.1 L153.9,54.3 L155.4,53.3 L156.4,51.8 L157.0,49.9 L157.4,48.0 L157.4,46.5 L156.0,46.0 L154.0,46.0 L152.0,46.0 L150.0,46.0 L148.0,46.0 L146.0,46.0 L144.0,46.0 L142.0,46.0 L140.0,46.0 L138.0,46.0 L136.0,46.0 L134.0,46.0 L132.0,46.0 L130.0,46.0 L128.0,46.0 L126.0,46.0 L124.0,46.0 L122.0,46.0 L120.0,46.0 L118.0,46.0Z" fill="#0040e0"/>
<path d="M117.6,46.5 L117.5,48.0 L117.8,49.9 L118.3,51.9 L118.9,53.8 L119.7,55.6 L120.8,57.2 L122.2,58.6 L124.0,59.4 L125.9,59.6 L127.9,59.6 L129.9,59.6 L131.9,59.4 L133.9,59.2 L135.9,58.9 L137.8,58.6 L139.8,58.2 L141.8,57.8 L143.7,57.4 L145.7,56.8 L147.6,56.2 L149.4,55.5 L151.3,54.7 L153.1,53.9 L154.4,52.8 L155.1,51.1 L155.4,49.1 L155.5,47.3 L154.8,46.3 L153.1,46.0 L151.1,46.0 L149.1,46.0 L147.1,46.0 L145.1,46.0 L143.1,46.0 L141.1,46.0 L139.1,46.0 L137.1,46.0 L135.1,46.0 L133.1,46.0 L131.0,46.0 L129.0,46.0 L127.0,46.0 L125.0,46.0 L123.0,46.0 L121.0,46.0 L119.0,46.0Z" fill="#00bee6"/>
<path d="M118.6,46.5 L118.5,48.0 L118.9,50.0 L119.3,52.0 L120.0,53.9 L121.0,55.6 L122.3,57.1 L124.0,58.2 L125.8,58.9 L127.8,59.1 L129.9,59.1 L131.9,58.9 L133.9,58.7 L136.0,58.4 L138.0,58.1 L140.0,57.7 L142.0,57.3 L144.0,56.8 L145.9,56.2 L147.8,55.5 L149.7,54.7 L151.5,53.9 L152.8,52.6 L153.3,50.8 L153.6,48.8 L153.5,47.1 L152.5,46.2 L150.7,46.0 L148.6,46.0 L146.6,46.0 L144.5,46.0 L142.5,46.0 L140.5,46.0 L138.4,46.0 L136.4,46.0 L134.3,46.0 L132.3,46.0 L130.3,46.0 L128.2,46.0 L126.2,46.0 L124.1,46.0 L122.1,46.0 L120.1,46.0Z" fill="#00e4e4"/>
<path d="M122.6,46.5 L122.3,48.0 L122.6,50.0 L123.0,52.0 L123.7,53.9 L124.8,55.5 L126.3,56.7 L128.2,57.3 L130.2,57.5 L132.2,57.6 L134.2,57.5 L136.2,57.3 L138.3,57.1 L140.3,56.8 L142.3,56.4 L144.3,56.0 L146.3,55.6 L148.3,55.1 L150.2,54.6 L151.9,53.8 L153.0,52.5 L153.4,50.6 L153.6,48.6 L153.5,46.9 L152.4,46.2 L150.5,46.0 L148.5,46.0 L146.4,46.0 L144.4,46.0 L142.4,46.0 L140.3,46.0 L138.3,46.0 L136.3,46.0 L134.2,46.0 L132.2,46.0 L130.1,46.0 L128.1,46.0 L126.1,46.0 L124.1,46.0Z" fill="#00e428"/>
<path d="M127.6,46.5 L127.3,48.0 L127.6,50.0 L128.0,52.0 L128.9,53.6 L130.4,54.9 L132.3,55.4 L134.3,55.6 L136.3,55.5 L138.3,55.4 L140.4,55.1 L142.3,54.7 L144.2,54.0 L145.8,53.0 L146.6,51.3 L147.1,49.3 L147.4,47.5 L146.9,46.3 L145.3,46.0 L143.3,46.0 L141.3,46.0 L139.2,46.0 L137.2,46.0 L135.2,46.0 L133.1,46.0 L131.1,46.0 L129.1,46.0Z" fill="#e4e400"/>
<path d="M133.6,46.5 L133.3,48.1 L133.6,50.1 L134.1,52.0 L135.3,53.3 L137.0,54.1 L139.0,54.4 L141.1,54.4 L143.1,54.3 L145.0,53.6 L146.2,52.4 L146.7,50.6 L146.8,48.5 L146.6,46.8 L145.3,46.1 L143.3,46.0 L141.3,46.0 L139.2,46.0 L137.1,46.0 L135.1,46.0Z" fill="#e40000"/>
</g></g>
<path d="M115,399 L115,53 L162,53 L162,50.5 L244,50.5 L244,53 L353,53 L353,399" fill="none" stroke="#222" stroke-width="1"/>
<text x="137.5" y="379.2" font-family="Liberation Serif, serif" font-size="38" fill="#fff" textLength="184" lengthAdjust="spacingAndGlyphs">1.690 N/mm</text><text x="320.2" y="362.4" font-family="Liberation Serif, serif" font-size="23.5" fill="#fff">2</text>
<rect x="516.5" y="15.5" width="134.5" height="22.5" fill="#fff" stroke="#ececec" stroke-width="1"/>
<path d="M519.2,26.8 L535.9,17.3 L550.9,26.8 L534.2,36.6Z" fill="#e6e6e6"/>
<path d="M529.6,27.1 L541.7,20.5 L550.9,26.8 L534.2,36.6Z" fill="#eeeeee"/>
<path d="M532.5,26.6 L541.1,22.2 L544.0,23.7 L535.3,28.1Z" fill="#e2e2e2"/>
<text x="558.6" y="22.6" font-family="Liberation Sans, sans-serif" font-size="7" fill="#d6d6d6" textLength="26.7" lengthAdjust="spacingAndGlyphs">midas</text>
<text x="558.6" y="35.1" font-family="Liberation Sans, sans-serif" font-size="15.4" fill="#d4d4d4" textLength="40.6" lengthAdjust="spacingAndGlyphs">GTS</text>
<text x="604.2" y="35.1" font-family="Liberation Sans, sans-serif" font-weight="bold" font-size="23" fill="#cbcbcb" textLength="39" lengthAdjust="spacingAndGlyphs">NX</text>
<text x="516" y="49.8" font-family="Liberation Sans, sans-serif" font-size="11" fill="#000" textLength="117" lengthAdjust="spacingAndGlyphs">PLANE STRAIN STRESS</text>
<text x="516" y="61.6" font-family="Liberation Sans, sans-serif" font-size="11" fill="#000" textLength="76.5" lengthAdjust="spacingAndGlyphs">S-XX , N/mm^2</text>
<rect x="515.5" y="73.60" width="16" height="24.55" fill="#ff0000"/>
<rect x="515.5" y="98.15" width="16" height="24.55" fill="#ff5000"/>
<rect x="515.5" y="122.70" width="16" height="24.55" fill="#ffc800"/>
<rect x="515.5" y="147.25" width="16" height="24.55" fill="#ffff00"/>
<rect x="515.5" y="171.80" width="16" height="24.55" fill="#96ff00"/>
<rect x="515.5" y="196.35" width="16" height="24.55" fill="#00ff2a"/>
<rect x="515.5" y="220.90" width="16" height="24.55" fill="#00ff00"/>
<rect x="515.5" y="245.45" width="16" height="24.55" fill="#00ff9b"/>
<rect x="515.5" y="270.00" width="16" height="24.55" fill="#00ffff"/>
<rect x="515.5" y="294.55" width="16" height="24.55" fill="#00d2ff"/>
<rect x="515.5" y="319.10" width="16" height="24.55" fill="#0048ff"/>
<rect x="515.5" y="343.65" width="16" height="24.55" fill="#0000ff"/>
<line x1="515.5" y1="73.60" x2="531.5" y2="73.60" stroke="#000" stroke-width="1.2"/>
<line x1="531.5" y1="73.60" x2="562.5" y2="73.60" stroke="#aaa" stroke-width="1"/>
<text x="563.0" y="77.60" font-family="Liberation Sans, sans-serif" font-size="11.3" fill="#000" textLength="83" lengthAdjust="spacingAndGlyphs">+1.69000e+000</text>
<line x1="515.5" y1="98.15" x2="531.5" y2="98.15" stroke="#000" stroke-width="1.2"/>
<line x1="531.5" y1="98.15" x2="562.5" y2="98.15" stroke="#aaa" stroke-width="1"/>
<text x="563.0" y="102.15" font-family="Liberation Sans, sans-serif" font-size="11.3" fill="#000" textLength="78" lengthAdjust="spacingAndGlyphs">+5.93285e-001</text>
<line x1="515.5" y1="122.70" x2="531.5" y2="122.70" stroke="#000" stroke-width="1.2"/>
<line x1="531.5" y1="122.70" x2="562.5" y2="122.70" stroke="#aaa" stroke-width="1"/>
<text x="563.0" y="126.70" font-family="Liberation Sans, sans-serif" font-size="11.3" fill="#000" textLength="78" lengthAdjust="spacingAndGlyphs">+4.79511e-001</text>
<line x1="515.5" y1="147.25" x2="531.5" y2="147.25" stroke="#000" stroke-width="1.2"/>
<line x1="531.5" y1="147.25" x2="562.5" y2="147.25" stroke="#aaa" stroke-width="1"/>
<text x="563.0" y="151.25" font-family="Liberation Sans, sans-serif" font-size="11.3" fill="#000" textLength="78" lengthAdjust="spacingAndGlyphs">+3.95769e-001</text>
<line x1="515.5" y1="171.80" x2="531.5" y2="171.80" stroke="#000" stroke-width="1.2"/>
<line x1="531.5" y1="171.80" x2="562.5" y2="171.80" stroke="#aaa" stroke-width="1"/>
<text x="563.0" y="175.80" font-family="Liberation Sans, sans-serif" font-size="11.3" fill="#000" textLength="78" lengthAdjust="spacingAndGlyphs">+3.26192e-001</text>
<line x1="515.5" y1="196.35" x2="531.5" y2="196.35" stroke="#000" stroke-width="1.2"/>
<line x1="531.5" y1="196.35" x2="562.5" y2="196.35" stroke="#aaa" stroke-width="1"/>
<text x="563.0" y="200.35" font-family="Liberation Sans, sans-serif" font-size="11.3" fill="#000" textLength="78" lengthAdjust="spacingAndGlyphs">+2.66007e-001</text>
<line x1="515.5" y1="220.90" x2="531.5" y2="220.90" stroke="#000" stroke-width="1.2"/>
<line x1="531.5" y1="220.90" x2="562.5" y2="220.90" stroke="#aaa" stroke-width="1"/>
<text x="563.0" y="224.90" font-family="Liberation Sans, sans-serif" font-size="11.3" fill="#000" textLength="78" lengthAdjust="spacingAndGlyphs">+2.12732e-001</text>
<line x1="515.5" y1="245.45" x2="531.5" y2="245.45" stroke="#000" stroke-width="1.2"/>
<line x1="531.5" y1="245.45" x2="562.5" y2="245.45" stroke="#aaa" stroke-width="1"/>
<text x="563.0" y="249.45" font-family="Liberation Sans, sans-serif" font-size="11.3" fill="#000" textLength="78" lengthAdjust="spacingAndGlyphs">+1.65127e-001</text>
<line x1="515.5" y1="270.00" x2="531.5" y2="270.00" stroke="#000" stroke-width="1.2"/>
<line x1="531.5" y1="270.00" x2="562.5" y2="270.00" stroke="#aaa" stroke-width="1"/>
<text x="563.0" y="274.00" font-family="Liberation Sans, sans-serif" font-size="11.3" fill="#000" textLength="78" lengthAdjust="spacingAndGlyphs">+1.22423e-001</text>
<line x1="515.5" y1="294.55" x2="531.5" y2="294.55" stroke="#000" stroke-width="1.2"/>
<line x1="531.5" y1="294.55" x2="562.5" y2="294.55" stroke="#aaa" stroke-width="1"/>
<text x="563.0" y="298.55" font-family="Liberation Sans, sans-serif" font-size="11.3" fill="#000" textLength="78" lengthAdjust="spacingAndGlyphs">+8.42748e-002</text>
<line x1="515.5" y1="319.10" x2="531.5" y2="319.10" stroke="#000" stroke-width="1.2"/>
<line x1="531.5" y1="319.10" x2="562.5" y2="319.10" stroke="#aaa" stroke-width="1"/>
<text x="563.0" y="323.10" font-family="Liberation Sans, sans-serif" font-size="11.3" fill="#000" textLength="78" lengthAdjust="spacingAndGlyphs">+5.06218e-002</text>
<line x1="515.5" y1="343.65" x2="531.5" y2="343.65" stroke="#000" stroke-width="1.2"/>
<line x1="531.5" y1="343.65" x2="562.5" y2="343.65" stroke="#aaa" stroke-width="1"/>
<text x="563.0" y="347.65" font-family="Liberation Sans, sans-serif" font-size="11.3" fill="#000" textLength="78" lengthAdjust="spacingAndGlyphs">+2.15520e-002</text>
<line x1="515.5" y1="368.20" x2="531.5" y2="368.20" stroke="#000" stroke-width="1.2"/>
<line x1="531.5" y1="368.20" x2="562.5" y2="368.20" stroke="#aaa" stroke-width="1"/>
<text x="563.0" y="372.20" font-family="Liberation Sans, sans-serif" font-size="11.3" fill="#000" textLength="83" lengthAdjust="spacingAndGlyphs">+0.00000e+000</text>
<line x1="515.5" y1="73.6" x2="515.5" y2="368.20" stroke="#000" stroke-width="1.2"/>
<line x1="531.5" y1="73.6" x2="531.5" y2="368.20" stroke="#000" stroke-width="1.2"/>
<text x="536.0" y="89.08" font-family="Liberation Sans, sans-serif" font-size="11.3" fill="#ff0000" textLength="28" lengthAdjust="spacingAndGlyphs">0.4%</text>
<text x="536.0" y="113.62" font-family="Liberation Sans, sans-serif" font-size="11.3" fill="#ff0000" textLength="28" lengthAdjust="spacingAndGlyphs">1.2%</text>
<text x="536.0" y="138.17" font-family="Liberation Sans, sans-serif" font-size="11.3" fill="#ff0000" textLength="28" lengthAdjust="spacingAndGlyphs">1.9%</text>
<text x="536.0" y="162.72" font-family="Liberation Sans, sans-serif" font-size="11.3" fill="#ff0000" textLength="28" lengthAdjust="spacingAndGlyphs">2.6%</text>
<text x="536.0" y="187.28" font-family="Liberation Sans, sans-serif" font-size="11.3" fill="#ff0000" textLength="28" lengthAdjust="spacingAndGlyphs">3.4%</text>
<text x="536.0" y="211.82" font-family="Liberation Sans, sans-serif" font-size="11.3" fill="#ff0000" textLength="28" lengthAdjust="spacingAndGlyphs">4.3%</text>
<text x="536.0" y="236.38" font-family="Liberation Sans, sans-serif" font-size="11.3" fill="#ff0000" textLength="28" lengthAdjust="spacingAndGlyphs">5.4%</text>
<text x="536.0" y="260.92" font-family="Liberation Sans, sans-serif" font-size="11.3" fill="#ff0000" textLength="28" lengthAdjust="spacingAndGlyphs">6.7%</text>
<text x="536.0" y="285.47" font-family="Liberation Sans, sans-serif" font-size="11.3" fill="#ff0000" textLength="28" lengthAdjust="spacingAndGlyphs">8.4%</text>
<text x="536.0" y="310.02" font-family="Liberation Sans, sans-serif" font-size="11.3" fill="#ff0000" textLength="34" lengthAdjust="spacingAndGlyphs">10.6%</text>
<text x="536.0" y="334.57" font-family="Liberation Sans, sans-serif" font-size="11.3" fill="#ff0000" textLength="34" lengthAdjust="spacingAndGlyphs">14.1%</text>
<text x="536.0" y="359.12" font-family="Liberation Sans, sans-serif" font-size="11.3" fill="#ff0000" textLength="34" lengthAdjust="spacingAndGlyphs">41.0%</text>
<clipPath id="clip620"><path d="M735,399 L735,53 L782,53 L782,50.5 L864,50.5 L864,53 L973,53 L973,399Z"/></clipPath>
<path d="M735,399 L735,53 L782,53 L782,50.5 L864,50.5 L864,53 L973,53 L973,399Z" fill="#0000e4"/>
<g clip-path="url(#clip620)"><g>
<path d="M845.9,88.2 L847.8,88.4 L849.7,88.7 L851.5,89.2 L853.3,89.8 L855.1,90.6 L856.8,91.5 L858.4,92.5 L860.0,93.7 L861.5,94.9 L862.9,96.2 L864.4,97.6 L865.7,99.0 L867.1,100.5 L868.4,102.0 L869.7,103.5 L871.0,105.0 L872.3,106.5 L873.5,108.1 L874.8,109.6 L876.1,111.1 L877.4,112.7 L878.7,114.2 L880.0,115.7 L881.3,117.2 L882.7,118.7 L884.0,120.2 L885.4,121.6 L886.7,123.1 L888.1,124.5 L889.5,126.0 L890.9,127.3 L892.4,128.7 L893.9,130.0 L895.5,131.2 L897.0,132.4 L898.7,133.6 L900.3,134.7 L901.9,135.8 L903.6,136.9 L905.3,138.0 L907.0,139.1 L908.6,140.2 L910.3,141.3 L912.0,142.4 L913.7,143.5 L915.3,144.6 L917.0,145.7 L918.6,146.8 L920.3,148.0 L921.9,149.1 L923.6,150.2 L925.2,151.4 L926.8,152.5 L928.5,153.7 L930.1,154.9 L931.7,156.1 L933.3,157.3 L934.8,158.5 L936.3,159.8 L937.7,161.1 L939.1,162.5 L940.4,164.0 L941.6,165.5 L942.7,167.1 L943.7,168.7 L944.7,170.5 L945.6,172.2 L946.5,174.0 L947.3,175.8 L948.1,177.6 L948.8,179.5 L949.4,181.3 L950.0,183.2 L950.5,185.1 L950.9,187.1 L951.2,189.0 L951.5,191.0 L951.7,193.0 L951.9,195.0 L952.0,196.9 L952.1,198.9 L952.1,200.9 L952.1,202.9 L952.1,204.9 L952.1,206.9 L952.0,208.9 L952.0,210.9 L951.9,212.9 L951.8,214.9 L951.7,216.9 L951.5,218.9 L951.4,220.9 L951.2,222.9 L950.9,224.9 L950.7,226.8 L950.4,228.8 L950.2,230.8 L949.9,232.8 L949.6,234.8 L949.3,236.7 L949.0,238.7 L948.8,240.7 L948.5,242.7 L948.2,244.7 L947.9,246.7 L947.7,248.6 L947.4,250.6 L947.1,252.6 L946.7,254.6 L946.4,256.5 L946.0,258.5 L945.6,260.4 L945.2,262.4 L944.7,264.3 L944.3,266.3 L943.7,268.2 L943.2,270.1 L942.6,272.0 L941.9,273.9 L941.3,275.8 L940.6,277.7 L939.9,279.5 L939.1,281.4 L938.4,283.2 L937.6,285.1 L936.8,286.9 L935.9,288.7 L935.1,290.5 L934.1,292.3 L933.2,294.0 L932.2,295.8 L931.3,297.5 L930.3,299.2 L929.3,301.0 L928.3,302.7 L927.3,304.5 L926.4,306.2 L925.5,308.0 L924.6,309.8 L923.7,311.6 L922.9,313.4 L922.0,315.2 L921.2,317.0 L920.3,318.7 L919.4,320.5 L918.4,322.2 L917.3,323.8 L916.2,325.4 L915.0,327.0 L913.7,328.5 L912.4,329.9 L911.0,331.4 L909.6,332.8 L908.1,334.2 L906.7,335.5 L905.2,336.9 L903.8,338.3 L902.3,339.6 L900.8,340.9 L899.3,342.2 L897.7,343.5 L896.2,344.7 L894.6,345.9 L893.0,347.0 L891.3,348.1 L889.6,349.2 L887.9,350.1 L886.1,351.0 L884.3,351.9 L882.5,352.8 L880.7,353.6 L878.8,354.3 L877.0,355.1 L875.1,355.8 L873.3,356.6 L871.4,357.3 L869.5,358.0 L867.7,358.6 L865.8,359.3 L863.9,359.8 L862.0,360.4 L860.0,360.8 L858.1,361.2 L856.2,361.5 L854.2,361.7 L852.3,361.9 L850.3,361.9 L848.3,361.8 L846.4,361.6 L844.4,361.3 L842.5,361.0 L840.6,360.5 L838.6,360.1 L836.7,359.5 L834.8,358.9 L833.0,358.3 L831.1,357.6 L829.2,356.9 L827.4,356.1 L825.5,355.3 L823.7,354.5 L821.9,353.7 L820.1,352.8 L818.3,351.9 L816.6,351.0 L814.8,350.0 L813.1,349.0 L811.5,347.9 L809.9,346.7 L808.3,345.5 L806.8,344.3 L805.3,343.0 L803.8,341.6 L802.4,340.3 L800.9,338.9 L799.5,337.5 L798.1,336.0 L796.8,334.6 L795.4,333.1 L794.1,331.6 L792.8,330.1 L791.5,328.6 L790.3,327.0 L789.1,325.4 L788.0,323.8 L786.9,322.1 L785.9,320.4 L785.0,318.7 L784.0,316.9 L783.1,315.1 L782.2,313.4 L781.3,311.6 L780.4,309.8 L779.4,308.1 L778.5,306.3 L777.5,304.6 L776.5,302.9 L775.6,301.1 L774.7,299.3 L773.8,297.6 L772.9,295.8 L772.1,293.9 L771.4,292.1 L770.7,290.2 L770.1,288.3 L769.5,286.4 L769.0,284.5 L768.5,282.6 L768.0,280.7 L767.5,278.7 L767.0,276.8 L766.5,274.9 L766.1,272.9 L765.6,271.0 L765.2,269.0 L764.8,267.1 L764.4,265.1 L764.1,263.1 L763.7,261.2 L763.4,259.2 L763.1,257.2 L762.8,255.2 L762.5,253.3 L762.2,251.3 L761.9,249.3 L761.6,247.3 L761.3,245.4 L761.0,243.4 L760.6,241.4 L760.2,239.5 L759.7,237.5 L759.3,235.6 L758.8,233.7 L758.3,231.7 L757.8,229.8 L757.3,227.9 L756.9,225.9 L756.4,224.0 L756.0,222.0 L755.5,220.1 L755.0,218.1 L754.6,216.2 L754.1,214.2 L753.7,212.3 L753.2,210.3 L752.7,208.4 L752.3,206.5 L751.9,204.5 L751.5,202.6 L751.1,200.6 L750.8,198.6 L750.6,196.6 L750.3,194.7 L750.2,192.7 L750.0,190.7 L749.8,188.7 L749.7,186.7 L749.6,184.7 L749.5,182.7 L749.4,180.7 L749.4,178.7 L749.3,176.7 L749.3,174.7 L749.4,172.7 L749.4,170.7 L749.5,168.7 L749.6,166.7 L749.7,164.7 L749.9,162.7 L750.1,160.8 L750.3,158.8 L750.6,156.8 L750.9,154.9 L751.3,152.9 L751.7,151.0 L752.3,149.1 L752.9,147.3 L753.7,145.5 L754.5,143.8 L755.5,142.2 L756.6,140.7 L757.9,139.2 L759.2,137.9 L760.7,136.6 L762.2,135.4 L763.8,134.2 L765.4,133.1 L767.1,131.9 L768.7,130.8 L770.4,129.8 L772.1,128.7 L773.8,127.6 L775.5,126.6 L777.2,125.5 L778.9,124.5 L780.6,123.4 L782.3,122.4 L784.0,121.4 L785.7,120.3 L787.4,119.2 L789.1,118.2 L790.8,117.1 L792.5,116.0 L794.1,114.9 L795.8,113.8 L797.5,112.7 L799.1,111.6 L800.8,110.4 L802.4,109.3 L804.0,108.1 L805.6,106.9 L807.2,105.7 L808.8,104.5 L810.4,103.3 L812.0,102.1 L813.7,101.0 L815.3,99.8 L816.9,98.7 L818.6,97.6 L820.2,96.5 L821.9,95.4 L823.6,94.4 L825.3,93.4 L827.1,92.5 L828.9,91.6 L830.7,90.9 L832.5,90.2 L834.4,89.6 L836.3,89.1 L838.2,88.7 L840.1,88.4 L842.1,88.2 L844.0,88.1Z" fill="#0040e0"/>
<path d="M845.9,88.7 L847.8,88.9 L849.7,89.3 L851.5,89.8 L853.3,90.4 L855.0,91.3 L856.7,92.2 L858.3,93.3 L859.8,94.5 L861.3,95.7 L862.7,97.1 L864.1,98.5 L865.4,100.0 L866.7,101.5 L868.0,103.0 L869.3,104.5 L870.6,106.1 L871.8,107.7 L873.1,109.2 L874.3,110.8 L875.6,112.3 L876.9,113.9 L878.2,115.4 L879.5,116.9 L880.8,118.4 L882.1,120.0 L883.4,121.4 L884.8,122.9 L886.1,124.4 L887.5,125.8 L888.9,127.2 L890.4,128.6 L891.8,130.0 L893.3,131.3 L894.9,132.5 L896.4,133.8 L898.0,135.0 L899.6,136.2 L901.2,137.4 L902.8,138.6 L904.4,139.8 L906.0,141.0 L907.6,142.2 L909.2,143.4 L910.8,144.7 L912.3,146.0 L913.8,147.3 L915.3,148.6 L916.8,149.9 L918.3,151.3 L919.8,152.6 L921.2,154.0 L922.7,155.4 L924.1,156.8 L925.5,158.2 L926.8,159.7 L928.1,161.2 L929.3,162.7 L930.4,164.3 L931.5,166.0 L932.5,167.7 L933.4,169.4 L934.3,171.2 L935.2,173.0 L935.9,174.8 L936.7,176.7 L937.4,178.6 L938.0,180.4 L938.6,182.3 L939.1,184.3 L939.5,186.2 L939.9,188.1 L940.2,190.1 L940.4,192.1 L940.6,194.1 L940.8,196.1 L940.8,198.0 L940.9,200.0 L940.9,202.0 L940.9,204.0 L940.9,206.0 L940.9,208.0 L940.8,210.0 L940.7,212.0 L940.6,214.0 L940.5,216.0 L940.3,218.0 L940.0,220.0 L939.8,222.0 L939.4,223.9 L939.1,225.9 L938.7,227.9 L938.3,229.8 L937.8,231.8 L937.4,233.7 L936.9,235.7 L936.4,237.6 L935.8,239.5 L935.3,241.5 L934.7,243.4 L934.1,245.3 L933.5,247.2 L932.9,249.1 L932.3,251.0 L931.7,252.9 L931.1,254.8 L930.4,256.7 L929.8,258.6 L929.2,260.5 L928.6,262.4 L927.9,264.3 L927.2,266.2 L926.4,268.0 L925.6,269.8 L924.8,271.6 L923.8,273.3 L922.9,275.1 L921.8,276.8 L920.8,278.5 L919.7,280.2 L918.6,281.8 L917.5,283.5 L916.3,285.1 L915.2,286.7 L913.9,288.3 L912.7,289.8 L911.4,291.3 L910.0,292.8 L908.6,294.2 L907.2,295.6 L905.8,297.0 L904.4,298.4 L902.9,299.8 L901.4,301.2 L900.0,302.5 L898.5,303.9 L897.0,305.2 L895.5,306.6 L894.0,307.9 L892.5,309.2 L891.0,310.5 L889.5,311.8 L887.9,313.1 L886.4,314.3 L884.8,315.5 L883.2,316.6 L881.5,317.6 L879.8,318.6 L878.1,319.4 L876.2,320.1 L874.4,320.8 L872.5,321.3 L870.6,321.8 L868.7,322.3 L866.7,322.7 L864.8,323.1 L862.8,323.5 L860.9,323.9 L858.9,324.2 L856.9,324.5 L855.0,324.6 L853.0,324.8 L851.0,324.8 L849.1,324.7 L847.1,324.6 L845.1,324.3 L843.2,324.0 L841.2,323.7 L839.3,323.4 L837.3,323.0 L835.3,322.6 L833.4,322.1 L831.5,321.7 L829.5,321.2 L827.7,320.6 L825.8,320.0 L824.0,319.3 L822.2,318.5 L820.5,317.6 L818.8,316.5 L817.2,315.5 L815.6,314.3 L814.0,313.1 L812.5,311.8 L810.9,310.6 L809.4,309.3 L807.9,308.0 L806.4,306.6 L804.9,305.3 L803.5,303.9 L802.1,302.5 L800.7,301.1 L799.3,299.6 L797.9,298.1 L796.7,296.6 L795.4,295.1 L794.2,293.5 L793.0,291.9 L791.9,290.2 L790.9,288.5 L789.9,286.8 L788.9,285.1 L787.9,283.4 L786.9,281.6 L786.0,279.9 L785.0,278.1 L784.0,276.4 L783.0,274.7 L782.0,272.9 L781.1,271.2 L780.2,269.4 L779.3,267.6 L778.4,265.8 L777.7,264.0 L776.9,262.1 L776.3,260.2 L775.6,258.4 L775.0,256.5 L774.5,254.6 L773.9,252.6 L773.3,250.7 L772.8,248.8 L772.1,246.9 L771.5,245.0 L770.8,243.1 L770.2,241.3 L769.5,239.4 L768.8,237.5 L768.1,235.6 L767.5,233.7 L766.8,231.8 L766.2,229.9 L765.6,228.0 L765.0,226.1 L764.5,224.2 L763.9,222.2 L763.4,220.3 L762.9,218.4 L762.4,216.4 L761.9,214.5 L761.4,212.5 L761.0,210.6 L760.5,208.7 L760.0,206.7 L759.6,204.8 L759.1,202.8 L758.7,200.9 L758.4,198.9 L758.0,196.9 L757.7,194.9 L757.5,193.0 L757.2,191.0 L757.0,189.0 L756.8,187.0 L756.7,185.0 L756.5,183.0 L756.4,181.0 L756.3,179.0 L756.2,177.0 L756.1,175.0 L756.0,173.0 L756.0,171.0 L756.0,169.0 L756.1,167.0 L756.2,165.0 L756.3,163.0 L756.5,161.0 L756.7,159.1 L757.0,157.1 L757.3,155.1 L757.7,153.2 L758.3,151.3 L758.9,149.5 L759.6,147.6 L760.4,145.9 L761.3,144.2 L762.3,142.5 L763.5,141.0 L764.7,139.4 L766.0,138.0 L767.4,136.6 L768.9,135.3 L770.4,134.0 L771.9,132.7 L773.5,131.4 L775.0,130.2 L776.6,129.0 L778.2,127.8 L779.8,126.6 L781.5,125.4 L783.1,124.2 L784.7,123.1 L786.3,121.9 L788.0,120.7 L789.6,119.6 L791.2,118.4 L792.9,117.2 L794.5,116.1 L796.1,114.9 L797.7,113.7 L799.3,112.5 L801.0,111.3 L802.6,110.1 L804.2,108.9 L805.7,107.7 L807.3,106.5 L808.9,105.3 L810.5,104.1 L812.1,102.8 L813.7,101.7 L815.3,100.5 L817.0,99.3 L818.6,98.2 L820.3,97.1 L821.9,96.0 L823.6,94.9 L825.4,93.9 L827.1,93.0 L828.9,92.1 L830.7,91.4 L832.5,90.7 L834.4,90.1 L836.2,89.6 L838.2,89.2 L840.1,88.9 L842.0,88.7 L844.0,88.7Z" fill="#00bee6"/>
<path d="M846.4,89.3 L848.3,89.6 L850.1,90.0 L851.9,90.5 L853.7,91.2 L855.3,92.1 L856.9,93.1 L858.5,94.3 L860.0,95.5 L861.4,96.9 L862.8,98.3 L864.1,99.7 L865.4,101.2 L866.7,102.8 L867.9,104.4 L869.1,105.9 L870.3,107.5 L871.5,109.1 L872.7,110.7 L874.0,112.3 L875.2,113.9 L876.5,115.4 L877.7,117.0 L879.0,118.5 L880.3,120.1 L881.6,121.6 L882.9,123.1 L884.3,124.5 L885.7,126.0 L887.1,127.4 L888.5,128.7 L890.0,130.1 L891.5,131.3 L893.1,132.6 L894.6,133.8 L896.2,135.0 L897.8,136.2 L899.4,137.4 L901.1,138.6 L902.7,139.8 L904.2,141.0 L905.8,142.3 L907.3,143.6 L908.7,144.9 L910.1,146.3 L911.4,147.8 L912.7,149.3 L913.9,150.8 L915.1,152.4 L916.3,154.0 L917.4,155.7 L918.5,157.3 L919.6,159.0 L920.6,160.7 L921.6,162.4 L922.6,164.2 L923.6,165.9 L924.5,167.7 L925.4,169.5 L926.2,171.3 L927.0,173.1 L927.8,175.0 L928.5,176.8 L929.1,178.7 L929.7,180.6 L930.2,182.5 L930.6,184.4 L930.9,186.4 L931.2,188.4 L931.4,190.3 L931.5,192.3 L931.6,194.3 L931.6,196.3 L931.6,198.3 L931.6,200.3 L931.5,202.3 L931.4,204.3 L931.3,206.3 L931.2,208.3 L931.0,210.3 L930.9,212.3 L930.7,214.2 L930.4,216.2 L930.1,218.2 L929.8,220.1 L929.4,222.1 L928.9,224.0 L928.4,225.9 L927.8,227.9 L927.2,229.8 L926.6,231.7 L926.0,233.6 L925.3,235.5 L924.7,237.3 L924.0,239.2 L923.2,241.1 L922.5,242.9 L921.7,244.8 L920.9,246.6 L920.1,248.4 L919.2,250.2 L918.4,252.1 L917.5,253.9 L916.7,255.7 L915.8,257.5 L914.9,259.3 L914.0,261.1 L913.1,262.8 L912.2,264.6 L911.2,266.3 L910.1,268.0 L909.0,269.7 L907.9,271.3 L906.7,272.9 L905.5,274.4 L904.2,275.9 L902.8,277.4 L901.4,278.8 L900.0,280.2 L898.5,281.5 L897.0,282.8 L895.4,284.0 L893.8,285.2 L892.2,286.4 L890.6,287.4 L888.9,288.4 L887.1,289.4 L885.4,290.3 L883.6,291.1 L881.7,291.8 L879.9,292.6 L878.0,293.2 L876.1,293.9 L874.2,294.5 L872.3,295.2 L870.4,295.8 L868.5,296.4 L866.6,297.1 L864.7,297.7 L862.8,298.2 L860.9,298.7 L859.0,299.2 L857.1,299.6 L855.2,299.8 L853.3,300.0 L851.4,299.9 L849.5,299.8 L847.5,299.6 L845.6,299.2 L843.7,298.8 L841.8,298.3 L839.9,297.8 L837.9,297.3 L836.0,296.7 L834.1,296.2 L832.2,295.6 L830.2,295.1 L828.3,294.5 L826.4,294.0 L824.5,293.4 L822.6,292.8 L820.7,292.2 L818.8,291.5 L817.0,290.8 L815.2,290.0 L813.5,289.1 L811.8,288.1 L810.2,287.0 L808.6,285.8 L807.1,284.5 L805.7,283.2 L804.2,281.9 L802.9,280.4 L801.5,279.0 L800.2,277.5 L798.9,275.9 L797.7,274.3 L796.5,272.8 L795.3,271.1 L794.2,269.5 L793.1,267.8 L792.1,266.1 L791.1,264.4 L790.1,262.7 L789.1,260.9 L788.2,259.1 L787.3,257.4 L786.4,255.6 L785.5,253.8 L784.6,252.0 L783.8,250.2 L782.9,248.4 L782.0,246.6 L781.2,244.7 L780.3,242.9 L779.5,241.1 L778.7,239.3 L777.9,237.4 L777.1,235.6 L776.4,233.7 L775.7,231.9 L774.9,230.0 L774.2,228.1 L773.5,226.3 L772.8,224.4 L772.2,222.5 L771.6,220.6 L771.0,218.7 L770.4,216.8 L769.8,214.9 L769.3,212.9 L768.8,211.0 L768.3,209.1 L767.8,207.1 L767.3,205.2 L766.8,203.2 L766.3,201.3 L765.8,199.4 L765.4,197.4 L765.0,195.4 L764.6,193.5 L764.3,191.5 L764.0,189.6 L763.7,187.6 L763.5,185.6 L763.3,183.6 L763.2,181.6 L763.1,179.6 L763.0,177.6 L763.0,175.6 L762.9,173.6 L762.9,171.6 L763.0,169.6 L763.0,167.6 L763.1,165.6 L763.2,163.6 L763.3,161.6 L763.5,159.6 L763.7,157.7 L763.9,155.7 L764.2,153.7 L764.6,151.8 L765.1,149.9 L765.7,148.1 L766.4,146.2 L767.2,144.5 L768.1,142.8 L769.1,141.1 L770.2,139.5 L771.5,138.0 L772.7,136.5 L774.1,135.0 L775.5,133.6 L776.9,132.3 L778.4,130.9 L779.9,129.6 L781.4,128.3 L783.0,127.1 L784.6,125.8 L786.1,124.6 L787.7,123.3 L789.3,122.1 L790.9,120.9 L792.5,119.7 L794.0,118.4 L795.6,117.2 L797.2,116.0 L798.8,114.8 L800.4,113.5 L801.9,112.3 L803.5,111.0 L805.1,109.8 L806.6,108.5 L808.2,107.3 L809.8,106.0 L811.3,104.8 L812.9,103.5 L814.5,102.3 L816.1,101.1 L817.7,99.9 L819.3,98.7 L820.9,97.6 L822.6,96.5 L824.2,95.4 L825.9,94.4 L827.6,93.4 L829.4,92.5 L831.2,91.7 L833.0,91.0 L834.8,90.4 L836.7,90.0 L838.6,89.6 L840.6,89.4 L842.5,89.2 L844.5,89.2Z" fill="#00e4e4"/>
<path d="M846.8,89.9 L848.7,90.3 L850.5,90.7 L852.3,91.4 L853.9,92.2 L855.5,93.1 L857.1,94.2 L858.6,95.5 L860.0,96.8 L861.3,98.2 L862.7,99.7 L863.9,101.2 L865.2,102.8 L866.4,104.3 L867.6,105.9 L868.8,107.5 L870.1,109.1 L871.3,110.7 L872.5,112.3 L873.7,113.9 L875.0,115.5 L876.2,117.0 L877.5,118.6 L878.8,120.1 L880.1,121.6 L881.5,123.1 L882.8,124.6 L884.2,126.1 L885.5,127.5 L887.0,128.9 L888.4,130.3 L889.8,131.7 L891.3,133.1 L892.8,134.4 L894.3,135.8 L895.8,137.1 L897.3,138.4 L898.7,139.8 L900.2,141.2 L901.6,142.5 L903.0,144.0 L904.3,145.5 L905.6,147.0 L906.8,148.5 L908.0,150.1 L909.2,151.8 L910.3,153.4 L911.3,155.1 L912.4,156.8 L913.3,158.6 L914.3,160.3 L915.2,162.1 L916.0,163.9 L916.7,165.7 L917.4,167.6 L918.1,169.5 L918.7,171.4 L919.3,173.3 L919.8,175.2 L920.3,177.2 L920.8,179.1 L921.3,181.1 L921.6,183.0 L922.0,185.0 L922.3,187.0 L922.5,188.9 L922.7,190.9 L922.9,192.9 L922.9,194.9 L922.9,196.9 L922.9,198.9 L922.8,200.9 L922.7,202.9 L922.5,204.9 L922.3,206.9 L922.1,208.9 L921.8,210.8 L921.5,212.8 L921.2,214.8 L920.8,216.7 L920.3,218.7 L919.8,220.6 L919.2,222.5 L918.6,224.4 L917.9,226.2 L917.1,228.1 L916.4,229.9 L915.5,231.7 L914.7,233.6 L913.9,235.4 L913.0,237.2 L912.1,239.0 L911.1,240.7 L910.1,242.5 L909.1,244.2 L908.1,245.9 L907.0,247.6 L905.9,249.3 L904.8,250.9 L903.6,252.6 L902.5,254.2 L901.3,255.8 L900.0,257.3 L898.7,258.9 L897.4,260.4 L896.1,261.9 L894.8,263.4 L893.5,264.9 L892.1,266.4 L890.7,267.8 L889.3,269.2 L887.9,270.7 L886.4,272.0 L885.0,273.3 L883.5,274.6 L881.9,275.8 L880.3,276.9 L878.6,277.8 L876.9,278.7 L875.1,279.4 L873.3,280.0 L871.4,280.5 L869.5,281.0 L867.6,281.4 L865.6,281.7 L863.6,282.0 L861.7,282.2 L859.7,282.5 L857.7,282.7 L855.7,282.8 L853.7,282.9 L851.7,283.0 L849.7,283.0 L847.7,282.9 L845.8,282.8 L843.8,282.6 L841.8,282.4 L839.8,282.2 L837.8,281.9 L835.8,281.7 L833.8,281.4 L831.9,281.0 L830.0,280.7 L828.1,280.2 L826.2,279.7 L824.4,279.0 L822.7,278.2 L821.0,277.3 L819.4,276.3 L817.9,275.1 L816.3,273.9 L814.8,272.6 L813.4,271.2 L811.9,269.9 L810.5,268.5 L809.1,267.1 L807.7,265.7 L806.3,264.2 L804.9,262.8 L803.5,261.3 L802.2,259.8 L800.9,258.3 L799.6,256.8 L798.3,255.2 L797.1,253.6 L795.9,252.0 L794.7,250.4 L793.6,248.8 L792.5,247.1 L791.4,245.4 L790.4,243.7 L789.4,242.0 L788.4,240.2 L787.5,238.4 L786.7,236.6 L785.9,234.8 L785.1,233.0 L784.3,231.1 L783.6,229.2 L782.8,227.4 L782.1,225.5 L781.4,223.6 L780.7,221.8 L780.0,219.9 L779.2,218.0 L778.5,216.1 L777.8,214.3 L777.1,212.4 L776.4,210.5 L775.7,208.6 L775.0,206.8 L774.3,204.9 L773.6,203.0 L773.0,201.1 L772.4,199.2 L771.8,197.3 L771.3,195.3 L770.8,193.4 L770.4,191.4 L770.1,189.5 L769.8,187.5 L769.5,185.5 L769.3,183.5 L769.2,181.6 L769.0,179.6 L768.9,177.6 L768.8,175.6 L768.8,173.5 L768.7,171.5 L768.7,169.5 L768.6,167.5 L768.7,165.5 L768.7,163.5 L768.8,161.5 L768.9,159.5 L769.1,157.6 L769.3,155.6 L769.6,153.6 L770.0,151.7 L770.5,149.7 L771.0,147.8 L771.6,146.0 L772.3,144.2 L773.2,142.4 L774.1,140.7 L775.2,139.1 L776.3,137.5 L777.5,136.0 L778.9,134.5 L780.2,133.1 L781.6,131.7 L783.1,130.3 L784.6,128.9 L786.1,127.6 L787.6,126.3 L789.1,125.0 L790.6,123.7 L792.2,122.4 L793.7,121.1 L795.2,119.8 L796.8,118.5 L798.3,117.2 L799.9,115.9 L801.4,114.7 L802.9,113.4 L804.5,112.1 L806.0,110.8 L807.5,109.5 L809.1,108.2 L810.6,106.9 L812.1,105.6 L813.7,104.3 L815.2,103.0 L816.8,101.8 L818.3,100.5 L819.9,99.3 L821.5,98.1 L823.2,97.0 L824.8,95.9 L826.5,94.8 L828.2,93.8 L829.9,92.9 L831.7,92.1 L833.5,91.4 L835.3,90.8 L837.2,90.4 L839.1,90.0 L841.0,89.8 L843.0,89.8 L844.9,89.8Z" fill="#00e48c"/>
<path d="M846.7,90.6 L848.6,90.9 L850.4,91.5 L852.1,92.2 L853.7,93.0 L855.2,94.1 L856.7,95.2 L858.2,96.5 L859.5,97.9 L860.9,99.4 L862.1,100.9 L863.4,102.4 L864.6,104.0 L865.9,105.6 L867.1,107.1 L868.3,108.7 L869.5,110.3 L870.8,111.9 L872.0,113.5 L873.3,115.0 L874.5,116.6 L875.8,118.2 L877.0,119.7 L878.3,121.3 L879.6,122.8 L880.8,124.4 L882.1,125.9 L883.4,127.4 L884.7,129.0 L886.0,130.5 L887.4,131.9 L888.8,133.4 L890.1,134.8 L891.5,136.3 L892.9,137.7 L894.3,139.1 L895.7,140.6 L897.0,142.1 L898.3,143.6 L899.5,145.2 L900.6,146.8 L901.7,148.4 L902.8,150.1 L903.8,151.8 L904.7,153.6 L905.6,155.4 L906.5,157.2 L907.3,159.0 L908.0,160.8 L908.7,162.7 L909.4,164.6 L909.9,166.5 L910.5,168.4 L911.0,170.3 L911.4,172.3 L911.8,174.2 L912.2,176.2 L912.6,178.1 L913.0,180.1 L913.3,182.1 L913.6,184.1 L913.8,186.0 L914.0,188.0 L914.1,190.0 L914.2,192.0 L914.3,194.0 L914.2,196.0 L914.1,198.0 L914.0,200.0 L913.8,202.0 L913.6,204.0 L913.3,205.9 L913.0,207.9 L912.7,209.9 L912.3,211.8 L911.9,213.8 L911.5,215.7 L910.9,217.6 L910.3,219.5 L909.6,221.4 L908.9,223.2 L908.1,225.0 L907.2,226.8 L906.2,228.5 L905.3,230.2 L904.2,231.9 L903.1,233.6 L902.0,235.2 L900.8,236.8 L899.5,238.4 L898.2,239.9 L896.9,241.4 L895.6,242.9 L894.2,244.3 L892.8,245.8 L891.4,247.2 L890.0,248.6 L888.6,250.0 L887.1,251.3 L885.6,252.7 L884.1,254.0 L882.5,255.2 L880.9,256.4 L879.3,257.5 L877.6,258.5 L875.9,259.4 L874.2,260.3 L872.3,261.0 L870.5,261.7 L868.6,262.4 L866.7,263.0 L864.8,263.5 L862.9,264.1 L861.0,264.6 L859.0,265.1 L857.1,265.5 L855.2,265.8 L853.3,266.1 L851.3,266.2 L849.4,266.2 L847.5,266.1 L845.5,265.8 L843.6,265.5 L841.7,265.1 L839.7,264.7 L837.8,264.2 L835.9,263.7 L833.9,263.1 L832.0,262.6 L830.1,262.0 L828.2,261.4 L826.3,260.8 L824.4,260.1 L822.6,259.4 L820.7,258.6 L818.9,257.8 L817.2,256.9 L815.4,256.0 L813.6,255.0 L811.9,254.0 L810.2,253.0 L808.6,251.8 L807.0,250.7 L805.5,249.4 L804.1,248.1 L802.7,246.7 L801.4,245.3 L800.2,243.7 L799.0,242.1 L797.9,240.5 L796.9,238.8 L796.0,237.1 L795.1,235.3 L794.2,233.5 L793.3,231.7 L792.5,229.9 L791.6,228.1 L790.8,226.3 L789.9,224.5 L789.0,222.7 L788.1,220.9 L787.3,219.1 L786.4,217.3 L785.5,215.5 L784.7,213.6 L783.9,211.8 L783.1,210.0 L782.3,208.1 L781.6,206.3 L780.9,204.4 L780.2,202.5 L779.5,200.6 L778.9,198.7 L778.3,196.9 L777.7,195.0 L777.1,193.0 L776.6,191.1 L776.2,189.2 L775.8,187.2 L775.5,185.3 L775.3,183.3 L775.0,181.3 L774.8,179.3 L774.6,177.4 L774.4,175.4 L774.3,173.4 L774.2,171.4 L774.1,169.4 L774.1,167.4 L774.1,165.4 L774.2,163.4 L774.3,161.4 L774.4,159.4 L774.6,157.5 L774.9,155.5 L775.2,153.5 L775.6,151.6 L776.1,149.7 L776.7,147.9 L777.4,146.0 L778.2,144.2 L779.0,142.4 L779.8,140.6 L780.7,138.8 L781.7,137.0 L782.6,135.3 L783.7,133.6 L784.7,131.9 L785.8,130.2 L787.0,128.6 L788.2,127.1 L789.5,125.6 L790.8,124.1 L792.2,122.7 L793.6,121.3 L795.1,119.9 L796.6,118.6 L798.1,117.4 L799.7,116.1 L801.3,114.9 L802.9,113.7 L804.5,112.5 L806.1,111.2 L807.7,110.0 L809.2,108.8 L810.8,107.6 L812.4,106.3 L813.9,105.1 L815.5,103.8 L817.1,102.6 L818.6,101.3 L820.2,100.1 L821.8,98.9 L823.4,97.7 L825.1,96.6 L826.7,95.5 L828.4,94.4 L830.1,93.5 L831.8,92.6 L833.6,91.9 L835.4,91.3 L837.3,90.9 L839.1,90.5 L841.0,90.4 L843.0,90.3 L844.9,90.4Z" fill="#00e428"/>
<path d="M844.2,92.6 L846.1,92.8 L848.0,93.2 L849.8,93.7 L851.7,94.3 L853.4,95.1 L855.2,96.0 L856.8,97.0 L858.4,98.1 L860.0,99.3 L861.5,100.6 L863.0,101.9 L864.4,103.3 L865.8,104.7 L867.1,106.2 L868.4,107.7 L869.7,109.2 L870.9,110.8 L872.1,112.4 L873.3,114.0 L874.5,115.6 L875.7,117.2 L876.8,118.9 L877.9,120.5 L879.0,122.2 L880.2,123.8 L881.3,125.5 L882.4,127.1 L883.5,128.8 L884.7,130.4 L885.8,132.1 L887.0,133.7 L888.1,135.3 L889.2,137.0 L890.3,138.6 L891.4,140.3 L892.4,142.0 L893.4,143.8 L894.3,145.5 L895.2,147.3 L896.0,149.1 L896.8,151.0 L897.5,152.8 L898.2,154.7 L898.8,156.6 L899.4,158.5 L900.0,160.4 L900.5,162.3 L901.0,164.3 L901.5,166.2 L902.0,168.2 L902.4,170.1 L902.8,172.1 L903.2,174.0 L903.6,176.0 L903.9,178.0 L904.2,179.9 L904.5,181.9 L904.7,183.9 L904.9,185.9 L905.0,187.9 L905.1,189.9 L905.2,191.8 L905.1,193.8 L905.0,195.8 L904.9,197.8 L904.7,199.8 L904.4,201.7 L904.1,203.7 L903.7,205.6 L903.2,207.5 L902.6,209.4 L901.9,211.2 L901.1,213.1 L900.3,214.9 L899.4,216.7 L898.5,218.4 L897.5,220.2 L896.5,221.9 L895.5,223.6 L894.4,225.3 L893.3,226.9 L892.2,228.6 L891.0,230.2 L889.8,231.8 L888.6,233.3 L887.3,234.8 L886.0,236.3 L884.6,237.7 L883.2,239.1 L881.7,240.4 L880.1,241.6 L878.5,242.8 L876.9,243.9 L875.2,244.9 L873.5,245.9 L871.7,246.7 L869.9,247.5 L868.1,248.2 L866.2,248.9 L864.3,249.5 L862.4,250.0 L860.5,250.5 L858.5,250.9 L856.6,251.3 L854.6,251.5 L852.7,251.7 L850.7,251.9 L848.8,251.9 L846.8,251.8 L844.9,251.6 L842.9,251.3 L840.9,251.0 L839.0,250.7 L837.0,250.3 L835.1,249.9 L833.1,249.4 L831.2,248.9 L829.3,248.4 L827.4,247.8 L825.5,247.2 L823.6,246.5 L821.8,245.7 L820.0,244.9 L818.2,244.1 L816.4,243.2 L814.7,242.2 L813.0,241.2 L811.4,240.1 L809.8,238.9 L808.3,237.7 L806.8,236.3 L805.4,235.0 L804.1,233.5 L802.8,232.0 L801.6,230.4 L800.4,228.8 L799.4,227.1 L798.3,225.4 L797.3,223.7 L796.4,222.0 L795.5,220.2 L794.5,218.4 L793.6,216.6 L792.7,214.9 L791.9,213.1 L791.0,211.3 L790.2,209.4 L789.3,207.6 L788.5,205.8 L787.8,203.9 L787.0,202.1 L786.3,200.2 L785.7,198.3 L785.0,196.5 L784.4,194.6 L783.8,192.7 L783.2,190.8 L782.7,188.8 L782.2,186.9 L781.8,185.0 L781.5,183.0 L781.2,181.1 L781.0,179.1 L780.8,177.1 L780.6,175.1 L780.5,173.1 L780.4,171.1 L780.4,169.1 L780.3,167.1 L780.3,165.1 L780.3,163.1 L780.4,161.1 L780.4,159.2 L780.6,157.2 L780.8,155.2 L781.1,153.2 L781.4,151.3 L781.9,149.4 L782.4,147.5 L783.0,145.6 L783.8,143.8 L784.5,142.0 L785.4,140.2 L786.3,138.4 L787.3,136.7 L788.3,135.0 L789.3,133.3 L790.4,131.6 L791.5,129.9 L792.7,128.3 L793.8,126.7 L795.0,125.1 L796.2,123.5 L797.5,121.9 L798.8,120.4 L800.0,118.8 L801.4,117.3 L802.7,115.9 L804.1,114.4 L805.4,112.9 L806.8,111.5 L808.2,110.1 L809.7,108.7 L811.1,107.3 L812.6,105.9 L814.0,104.6 L815.5,103.3 L817.1,102.1 L818.6,100.8 L820.3,99.7 L821.9,98.6 L823.6,97.6 L825.3,96.6 L827.1,95.8 L828.9,95.0 L830.7,94.3 L832.6,93.7 L834.5,93.2 L836.4,92.9 L838.3,92.6 L840.3,92.5 L842.2,92.5Z" fill="#00e400"/>
<path d="M841.5,94.4 L843.5,94.4 L845.5,94.5 L847.4,94.6 L849.4,94.9 L851.3,95.3 L853.2,95.7 L855.1,96.3 L856.9,97.0 L858.6,97.9 L860.3,98.8 L861.8,99.9 L863.4,101.1 L864.8,102.4 L866.1,103.8 L867.4,105.3 L868.7,106.8 L869.8,108.4 L870.9,110.1 L872.0,111.8 L873.0,113.5 L873.9,115.3 L874.8,117.0 L875.6,118.9 L876.5,120.7 L877.3,122.5 L878.1,124.3 L878.9,126.1 L879.8,128.0 L880.6,129.8 L881.5,131.6 L882.4,133.4 L883.3,135.2 L884.1,137.0 L884.9,138.8 L885.7,140.7 L886.4,142.5 L887.1,144.4 L887.7,146.3 L888.3,148.2 L888.9,150.1 L889.5,152.1 L890.0,154.0 L890.6,155.9 L891.1,157.9 L891.6,159.8 L892.1,161.8 L892.6,163.7 L893.1,165.6 L893.6,167.6 L894.1,169.5 L894.5,171.5 L895.0,173.5 L895.4,175.4 L895.7,177.4 L896.1,179.3 L896.3,181.3 L896.5,183.3 L896.7,185.3 L896.8,187.3 L896.7,189.2 L896.6,191.2 L896.4,193.1 L896.1,195.0 L895.6,196.9 L895.1,198.8 L894.4,200.6 L893.7,202.5 L892.9,204.3 L892.1,206.1 L891.2,207.9 L890.4,209.8 L889.5,211.6 L888.6,213.3 L887.7,215.1 L886.8,216.9 L885.8,218.6 L884.7,220.3 L883.6,221.9 L882.4,223.4 L881.2,224.8 L879.8,226.2 L878.3,227.5 L876.8,228.7 L875.2,229.9 L873.5,230.9 L871.8,231.9 L870.1,232.8 L868.3,233.7 L866.5,234.4 L864.6,235.1 L862.7,235.6 L860.8,236.1 L858.9,236.6 L856.9,236.9 L855.0,237.2 L853.0,237.4 L851.0,237.6 L849.1,237.6 L847.1,237.6 L845.1,237.6 L843.1,237.4 L841.1,237.2 L839.1,237.0 L837.1,236.7 L835.2,236.4 L833.2,236.0 L831.3,235.6 L829.3,235.1 L827.4,234.6 L825.5,233.9 L823.7,233.3 L821.8,232.5 L820.0,231.7 L818.3,230.9 L816.5,229.9 L814.8,228.9 L813.2,227.8 L811.7,226.6 L810.1,225.3 L808.7,224.0 L807.2,222.6 L805.9,221.2 L804.6,219.7 L803.3,218.2 L802.1,216.6 L801.0,214.9 L799.9,213.3 L798.9,211.6 L798.0,209.8 L797.0,208.0 L796.1,206.3 L795.3,204.4 L794.4,202.6 L793.6,200.8 L792.9,198.9 L792.1,197.1 L791.4,195.2 L790.8,193.3 L790.1,191.4 L789.5,189.5 L789.0,187.6 L788.5,185.7 L788.0,183.7 L787.6,181.8 L787.2,179.8 L787.0,177.9 L786.8,175.9 L786.6,173.9 L786.5,171.9 L786.5,169.9 L786.4,167.9 L786.4,165.9 L786.4,163.9 L786.4,161.9 L786.5,159.9 L786.6,157.9 L786.7,155.9 L786.8,153.9 L787.1,152.0 L787.4,150.0 L787.8,148.1 L788.4,146.2 L789.0,144.3 L789.7,142.5 L790.5,140.7 L791.4,138.9 L792.4,137.2 L793.4,135.5 L794.4,133.8 L795.5,132.1 L796.5,130.4 L797.6,128.7 L798.7,127.0 L799.7,125.2 L800.7,123.5 L801.7,121.8 L802.7,120.1 L803.7,118.3 L804.8,116.6 L805.8,114.9 L806.9,113.2 L808.0,111.6 L809.2,110.0 L810.4,108.4 L811.7,106.9 L813.0,105.4 L814.4,104.0 L815.8,102.7 L817.3,101.5 L818.9,100.4 L820.6,99.4 L822.3,98.5 L824.1,97.7 L825.9,97.0 L827.8,96.4 L829.7,95.9 L831.6,95.5 L833.6,95.1 L835.6,94.8 L837.5,94.6 L839.5,94.5Z" fill="#82e400"/>
<path d="M841.0,96.2 L843.0,96.2 L844.9,96.4 L846.9,96.6 L848.8,96.9 L850.7,97.3 L852.5,97.9 L854.3,98.6 L856.1,99.4 L857.7,100.3 L859.3,101.4 L860.9,102.6 L862.3,103.9 L863.7,105.2 L864.9,106.7 L866.1,108.3 L867.2,109.9 L868.2,111.6 L869.1,113.3 L870.0,115.0 L870.7,116.9 L871.4,118.7 L872.1,120.6 L872.8,122.4 L873.5,124.3 L874.1,126.2 L874.8,128.1 L875.6,129.9 L876.3,131.8 L877.1,133.6 L877.9,135.4 L878.6,137.3 L879.4,139.1 L880.2,141.0 L880.9,142.8 L881.6,144.7 L882.3,146.6 L883.0,148.5 L883.6,150.4 L884.2,152.3 L884.8,154.2 L885.3,156.1 L885.8,158.0 L886.3,160.0 L886.8,161.9 L887.3,163.8 L887.7,165.8 L888.0,167.7 L888.4,169.7 L888.7,171.7 L888.9,173.7 L889.1,175.6 L889.2,177.6 L889.3,179.6 L889.4,181.6 L889.4,183.6 L889.3,185.5 L889.1,187.5 L888.9,189.4 L888.5,191.3 L888.1,193.2 L887.5,195.1 L886.9,197.0 L886.1,198.8 L885.3,200.6 L884.4,202.3 L883.5,204.0 L882.4,205.7 L881.3,207.4 L880.2,208.9 L878.9,210.5 L877.7,212.0 L876.3,213.4 L875.0,214.8 L873.5,216.1 L872.0,217.3 L870.5,218.4 L868.8,219.4 L867.1,220.3 L865.3,221.0 L863.5,221.7 L861.6,222.3 L859.7,222.8 L857.8,223.3 L855.9,223.7 L854.0,224.0 L852.0,224.3 L850.1,224.4 L848.1,224.4 L846.2,224.4 L844.2,224.2 L842.2,224.0 L840.3,223.7 L838.4,223.3 L836.4,222.9 L834.5,222.4 L832.6,221.8 L830.8,221.2 L828.9,220.5 L827.1,219.7 L825.4,218.8 L823.6,217.9 L821.9,216.9 L820.2,215.9 L818.5,214.8 L816.8,213.7 L815.2,212.6 L813.5,211.5 L812.0,210.3 L810.4,209.0 L808.9,207.8 L807.4,206.5 L806.0,205.1 L804.6,203.7 L803.3,202.2 L802.1,200.7 L801.0,199.1 L799.9,197.5 L799.0,195.8 L798.1,194.0 L797.3,192.2 L796.6,190.4 L795.9,188.5 L795.2,186.6 L794.7,184.8 L794.1,182.9 L793.7,180.9 L793.4,179.0 L793.1,177.0 L792.9,175.1 L792.8,173.1 L792.7,171.1 L792.7,169.1 L792.7,167.1 L792.7,165.1 L792.7,163.1 L792.7,161.1 L792.7,159.1 L792.8,157.1 L792.9,155.2 L793.0,153.2 L793.1,151.2 L793.3,149.2 L793.6,147.3 L794.0,145.4 L794.4,143.5 L795.0,141.6 L795.7,139.8 L796.5,138.0 L797.4,136.3 L798.3,134.6 L799.3,132.9 L800.4,131.2 L801.4,129.5 L802.5,127.8 L803.5,126.1 L804.5,124.4 L805.5,122.7 L806.5,120.9 L807.4,119.2 L808.4,117.5 L809.4,115.7 L810.4,114.0 L811.5,112.4 L812.6,110.7 L813.8,109.2 L815.0,107.6 L816.4,106.2 L817.7,104.8 L819.2,103.6 L820.7,102.4 L822.3,101.3 L824.0,100.4 L825.8,99.5 L827.6,98.8 L829.4,98.1 L831.3,97.6 L833.2,97.1 L835.1,96.8 L837.1,96.5 L839.0,96.3Z" fill="#e4e400"/>
<path d="M841.0,98.6 L843.0,98.7 L844.9,98.8 L846.8,99.1 L848.7,99.5 L850.6,100.1 L852.4,100.7 L854.1,101.6 L855.8,102.5 L857.3,103.6 L858.8,104.8 L860.2,106.1 L861.4,107.6 L862.6,109.1 L863.6,110.8 L864.6,112.5 L865.4,114.2 L866.2,116.0 L866.9,117.9 L867.6,119.7 L868.3,121.6 L868.9,123.5 L869.6,125.4 L870.3,127.2 L871.1,129.1 L871.9,130.9 L872.7,132.8 L873.5,134.6 L874.3,136.4 L875.0,138.3 L875.8,140.1 L876.5,142.0 L877.1,143.9 L877.7,145.8 L878.2,147.7 L878.7,149.7 L879.1,151.6 L879.4,153.6 L879.7,155.5 L880.0,157.5 L880.2,159.5 L880.4,161.5 L880.6,163.5 L880.8,165.5 L881.0,167.5 L881.1,169.5 L881.2,171.5 L881.3,173.5 L881.4,175.5 L881.4,177.5 L881.4,179.5 L881.3,181.5 L881.1,183.4 L880.8,185.4 L880.5,187.3 L880.0,189.2 L879.5,191.1 L878.8,192.9 L878.1,194.7 L877.2,196.4 L876.2,198.0 L875.1,199.5 L873.8,200.9 L872.4,202.2 L870.9,203.4 L869.3,204.5 L867.7,205.4 L865.9,206.3 L864.2,207.1 L862.3,207.8 L860.4,208.4 L858.5,208.9 L856.6,209.3 L854.7,209.7 L852.7,210.0 L850.7,210.2 L848.8,210.4 L846.8,210.5 L844.8,210.4 L842.9,210.4 L840.9,210.2 L838.9,209.9 L837.0,209.6 L835.0,209.2 L833.1,208.7 L831.2,208.2 L829.3,207.6 L827.4,206.9 L825.6,206.2 L823.8,205.4 L822.0,204.5 L820.2,203.6 L818.5,202.6 L816.8,201.6 L815.2,200.4 L813.6,199.2 L812.1,198.0 L810.7,196.6 L809.4,195.2 L808.1,193.7 L807.0,192.2 L805.9,190.6 L805.0,188.9 L804.1,187.1 L803.4,185.3 L802.8,183.5 L802.2,181.6 L801.7,179.6 L801.2,177.7 L800.8,175.8 L800.5,173.8 L800.2,171.8 L800.0,169.9 L799.9,167.9 L799.8,165.9 L799.8,163.9 L799.9,161.9 L799.9,159.9 L800.0,157.9 L800.2,155.9 L800.3,153.9 L800.5,151.9 L800.8,150.0 L801.0,148.0 L801.4,146.0 L801.8,144.1 L802.2,142.2 L802.8,140.3 L803.4,138.4 L804.1,136.6 L804.9,134.7 L805.7,132.9 L806.6,131.1 L807.4,129.3 L808.3,127.5 L809.2,125.7 L810.0,123.9 L810.9,122.1 L811.7,120.3 L812.6,118.5 L813.5,116.7 L814.4,114.9 L815.4,113.2 L816.4,111.5 L817.6,109.9 L818.7,108.3 L820.0,106.9 L821.4,105.5 L822.8,104.3 L824.4,103.1 L826.0,102.2 L827.7,101.3 L829.5,100.5 L831.3,99.9 L833.2,99.4 L835.1,99.1 L837.1,98.8 L839.0,98.6Z" fill="#e4b900"/>
<path d="M840.6,101.1 L842.6,101.1 L844.5,101.3 L846.4,101.6 L848.3,102.1 L850.1,102.7 L851.8,103.4 L853.5,104.4 L855.0,105.4 L856.4,106.7 L857.6,108.1 L858.7,109.6 L859.7,111.2 L860.5,113.0 L861.3,114.8 L861.9,116.6 L862.4,118.5 L863.0,120.4 L863.5,122.4 L864.0,124.3 L864.5,126.2 L865.1,128.2 L865.6,130.1 L866.2,132.0 L866.8,133.9 L867.4,135.8 L868.0,137.7 L868.5,139.7 L869.0,141.6 L869.5,143.5 L870.0,145.5 L870.3,147.5 L870.7,149.4 L871.0,151.4 L871.2,153.4 L871.4,155.3 L871.5,157.3 L871.6,159.3 L871.6,161.3 L871.5,163.3 L871.5,165.3 L871.3,167.3 L871.2,169.3 L870.9,171.2 L870.6,173.1 L870.1,175.0 L869.6,176.9 L868.9,178.7 L868.0,180.4 L867.1,182.1 L866.0,183.7 L864.8,185.2 L863.5,186.6 L862.1,187.9 L860.6,189.1 L859.0,190.2 L857.3,191.2 L855.6,192.0 L853.8,192.8 L851.9,193.5 L850.1,194.1 L848.2,194.5 L846.2,194.9 L844.3,195.1 L842.4,195.2 L840.4,195.1 L838.5,194.9 L836.6,194.6 L834.7,194.1 L832.9,193.5 L831.1,192.8 L829.3,192.0 L827.5,191.1 L825.8,190.1 L824.1,189.1 L822.5,187.9 L821.0,186.7 L819.4,185.5 L818.0,184.1 L816.6,182.8 L815.3,181.3 L814.1,179.8 L813.1,178.2 L812.2,176.6 L811.4,174.8 L810.8,173.0 L810.3,171.1 L809.9,169.2 L809.5,167.3 L809.2,165.3 L808.9,163.3 L808.7,161.4 L808.5,159.4 L808.4,157.4 L808.4,155.4 L808.4,153.4 L808.5,151.5 L808.7,149.5 L809.0,147.5 L809.3,145.6 L809.7,143.6 L810.2,141.7 L810.7,139.7 L811.3,137.8 L811.9,135.9 L812.5,134.1 L813.2,132.2 L813.9,130.3 L814.6,128.4 L815.4,126.6 L816.1,124.7 L816.8,122.8 L817.5,120.9 L818.2,119.1 L819.0,117.2 L819.8,115.4 L820.6,113.6 L821.6,111.9 L822.6,110.3 L823.8,108.7 L825.1,107.3 L826.4,106.0 L827.9,104.8 L829.5,103.8 L831.2,103.0 L833.0,102.3 L834.9,101.8 L836.7,101.4 L838.7,101.2Z" fill="#e44800"/>
<path d="M840.6,107.6 L842.6,107.6 L844.5,107.9 L846.4,108.3 L848.2,109.0 L850.0,109.8 L851.5,110.8 L852.9,112.0 L854.0,113.4 L854.9,115.1 L855.6,116.8 L856.1,118.7 L856.6,120.6 L857.1,122.6 L857.5,124.5 L858.0,126.5 L858.4,128.5 L858.9,130.4 L859.4,132.4 L859.8,134.3 L860.3,136.3 L860.7,138.2 L861.0,140.2 L861.1,142.2 L861.2,144.1 L861.1,146.1 L860.9,148.1 L860.6,150.1 L860.3,152.1 L859.8,154.0 L859.4,156.0 L858.8,157.9 L858.1,159.8 L857.4,161.6 L856.6,163.4 L855.6,165.1 L854.5,166.7 L853.3,168.3 L851.9,169.7 L850.5,171.0 L848.9,172.1 L847.2,173.1 L845.5,173.9 L843.7,174.5 L841.8,174.9 L839.9,175.0 L838.1,174.8 L836.2,174.4 L834.3,173.8 L832.6,173.0 L830.8,172.1 L829.2,171.0 L827.6,169.8 L826.2,168.4 L824.8,167.0 L823.6,165.5 L822.6,163.8 L821.6,162.1 L820.8,160.3 L820.1,158.4 L819.5,156.6 L819.0,154.6 L818.7,152.7 L818.4,150.7 L818.3,148.7 L818.2,146.7 L818.2,144.7 L818.4,142.8 L818.7,140.8 L819.1,138.9 L819.6,136.9 L820.1,135.0 L820.7,133.1 L821.3,131.2 L822.0,129.3 L822.6,127.4 L823.3,125.5 L823.9,123.6 L824.6,121.7 L825.3,119.8 L826.0,117.9 L826.8,116.1 L827.7,114.4 L828.8,112.9 L830.0,111.5 L831.5,110.3 L833.1,109.3 L834.9,108.6 L836.8,108.0 L838.7,107.7Z" fill="#e40000"/>
<path d="M869.5,46.5 L869.0,48.0 L869.0,50.0 L869.5,51.7 L871.0,52.6 L872.9,53.2 L874.8,53.8 L876.8,54.2 L878.8,54.7 L880.7,55.2 L882.7,55.7 L884.6,56.2 L886.6,56.8 L888.5,57.3 L890.5,57.8 L892.4,58.4 L894.4,58.9 L896.3,59.4 L898.2,60.0 L900.2,60.5 L902.1,61.0 L904.1,61.4 L906.1,61.9 L908.0,62.3 L910.0,62.8 L912.0,63.2 L913.9,63.7 L915.9,64.1 L917.9,64.6 L919.9,64.9 L921.8,65.3 L923.8,65.7 L925.8,66.0 L927.8,66.4 L929.8,66.7 L931.8,67.0 L933.8,67.4 L935.8,67.7 L937.8,67.8 L939.8,68.0 L941.8,68.1 L943.8,68.2 L945.8,68.3 L947.8,68.4 L949.8,68.2 L951.8,67.9 L953.8,67.6 L955.8,67.2 L957.7,66.7 L959.4,65.8 L960.9,64.5 L962.3,63.0 L963.4,61.5 L964.0,59.6 L964.2,57.7 L963.9,55.8 L963.4,53.9 L963.1,52.0 L963.2,50.0 L963.5,48.0 L963.2,46.5 L961.8,46.0 L959.8,46.0 L957.8,46.0 L955.8,46.0 L953.7,46.0 L951.7,46.0 L949.7,46.0 L947.7,46.0 L945.7,46.0 L943.6,46.0 L941.6,46.0 L939.6,46.0 L937.6,46.0 L935.6,46.0 L933.6,46.0 L931.5,46.0 L929.5,46.0 L927.5,46.0 L925.5,46.0 L923.5,46.0 L921.5,46.0 L919.4,46.0 L917.4,46.0 L915.4,46.0 L913.4,46.0 L911.4,46.0 L909.3,46.0 L907.3,46.0 L905.3,46.0 L903.3,46.0 L901.3,46.0 L899.3,46.0 L897.2,46.0 L895.2,46.0 L893.2,46.0 L891.2,46.0 L889.2,46.0 L887.2,46.0 L885.1,46.0 L883.1,46.0 L881.1,46.0 L879.1,46.0 L877.1,46.0 L875.1,46.0 L873.0,46.0 L871.0,46.0Z" fill="#0040e0"/>
<path d="M869.9,46.5 L869.3,48.0 L869.2,49.9 L869.7,51.5 L871.2,52.4 L873.1,53.0 L875.0,53.5 L877.0,54.0 L878.9,54.5 L880.9,55.0 L882.8,55.5 L884.8,56.0 L886.7,56.5 L888.6,57.0 L890.6,57.5 L892.5,58.1 L894.4,58.6 L896.3,59.1 L898.3,59.7 L900.2,60.2 L902.2,60.7 L904.1,61.1 L906.1,61.6 L908.0,62.0 L910.0,62.5 L911.9,62.9 L913.9,63.4 L915.8,63.8 L917.8,64.2 L919.8,64.5 L921.8,64.8 L923.7,65.0 L925.7,65.3 L927.7,65.5 L929.7,65.7 L931.7,66.0 L933.7,66.2 L935.7,66.3 L937.7,66.3 L939.7,66.3 L941.7,66.2 L943.7,66.1 L945.7,66.1 L947.7,65.9 L949.6,65.5 L951.5,64.9 L953.4,64.3 L955.2,63.5 L956.6,62.2 L957.8,60.6 L958.8,58.9 L959.3,57.1 L959.4,55.1 L959.5,53.1 L959.7,51.1 L959.9,49.2 L960.0,47.4 L959.2,46.3 L957.5,46.0 L955.6,46.0 L953.6,46.0 L951.6,46.0 L949.6,46.0 L947.5,46.0 L945.5,46.0 L943.5,46.0 L941.5,46.0 L939.5,46.0 L937.5,46.0 L935.5,46.0 L933.5,46.0 L931.5,46.0 L929.5,46.0 L927.5,46.0 L925.5,46.0 L923.5,46.0 L921.5,46.0 L919.5,46.0 L917.5,46.0 L915.5,46.0 L913.5,46.0 L911.5,46.0 L909.5,46.0 L907.5,46.0 L905.5,46.0 L903.5,46.0 L901.5,46.0 L899.5,46.0 L897.5,46.0 L895.4,46.0 L893.4,46.0 L891.4,46.0 L889.4,46.0 L887.4,46.0 L885.4,46.0 L883.4,46.0 L881.4,46.0 L879.4,46.0 L877.4,46.0 L875.4,46.0 L873.4,46.0 L871.4,46.0Z" fill="#00bee6"/>
<path d="M870.2,46.5 L869.5,48.0 L869.4,49.9 L869.9,51.3 L871.4,52.2 L873.3,52.8 L875.3,53.3 L877.2,53.8 L879.1,54.2 L881.1,54.7 L883.0,55.2 L885.0,55.7 L886.9,56.2 L888.8,56.8 L890.8,57.3 L892.7,57.8 L894.6,58.4 L896.5,58.9 L898.5,59.4 L900.4,59.9 L902.3,60.4 L904.3,60.9 L906.2,61.3 L908.2,61.8 L910.1,62.2 L912.1,62.7 L914.0,63.1 L916.0,63.5 L918.0,63.9 L919.9,64.2 L921.9,64.3 L923.9,64.5 L925.9,64.6 L927.9,64.7 L929.9,64.8 L931.9,64.9 L933.9,64.9 L935.9,65.0 L937.9,65.0 L939.9,64.9 L941.9,64.6 L943.8,64.1 L945.8,63.7 L947.7,63.2 L949.6,62.7 L951.3,61.8 L952.8,60.6 L954.2,59.2 L955.5,57.6 L956.2,55.9 L956.6,53.9 L956.9,52.0 L957.2,50.0 L957.5,48.0 L957.2,46.5 L955.8,46.0 L953.8,46.0 L951.8,46.0 L949.8,46.0 L947.8,46.0 L945.8,46.0 L943.8,46.0 L941.8,46.0 L939.8,46.0 L937.8,46.0 L935.8,46.0 L933.8,46.0 L931.8,46.0 L929.8,46.0 L927.8,46.0 L925.8,46.0 L923.8,46.0 L921.8,46.0 L919.8,46.0 L917.8,46.0 L915.8,46.0 L913.8,46.0 L911.8,46.0 L909.8,46.0 L907.8,46.0 L905.8,46.0 L903.8,46.0 L901.8,46.0 L899.8,46.0 L897.8,46.0 L895.8,46.0 L893.8,46.0 L891.8,46.0 L889.8,46.0 L887.8,46.0 L885.8,46.0 L883.8,46.0 L881.8,46.0 L879.8,46.0 L877.8,46.0 L875.8,46.0 L873.8,46.0 L871.8,46.0Z" fill="#00e4e4"/>
<path d="M870.6,46.5 L869.8,48.0 L869.5,49.8 L870.1,51.2 L871.7,52.0 L873.6,52.5 L875.6,53.0 L877.5,53.5 L879.5,54.0 L881.5,54.5 L883.4,55.0 L885.4,55.5 L887.3,56.1 L889.3,56.6 L891.2,57.1 L893.2,57.7 L895.1,58.2 L897.1,58.7 L899.0,59.3 L901.0,59.8 L902.9,60.3 L904.9,60.7 L906.9,61.2 L908.8,61.6 L910.8,62.1 L912.8,62.5 L914.7,63.0 L916.7,63.4 L918.7,63.7 L920.7,63.7 L922.7,63.6 L924.7,63.5 L926.7,63.4 L928.8,63.3 L930.8,63.3 L932.8,63.2 L934.8,63.2 L936.8,63.1 L938.8,62.9 L940.8,62.6 L942.7,62.0 L944.7,61.4 L946.6,60.8 L948.3,60.0 L949.6,58.7 L950.6,57.0 L951.5,55.2 L952.3,53.3 L952.8,51.4 L953.1,49.4 L953.2,47.6 L952.6,46.4 L950.9,46.0 L948.9,46.0 L946.9,46.0 L944.9,46.0 L942.9,46.0 L940.9,46.0 L938.8,46.0 L936.8,46.0 L934.8,46.0 L932.8,46.0 L930.8,46.0 L928.8,46.0 L926.7,46.0 L924.7,46.0 L922.7,46.0 L920.7,46.0 L918.7,46.0 L916.6,46.0 L914.6,46.0 L912.6,46.0 L910.6,46.0 L908.6,46.0 L906.5,46.0 L904.5,46.0 L902.5,46.0 L900.5,46.0 L898.5,46.0 L896.4,46.0 L894.4,46.0 L892.4,46.0 L890.4,46.0 L888.4,46.0 L886.4,46.0 L884.3,46.0 L882.3,46.0 L880.3,46.0 L878.3,46.0 L876.3,46.0 L874.2,46.0 L872.2,46.0Z" fill="#00e48c"/>
<path d="M870.9,46.5 L870.0,47.9 L869.7,49.6 L870.3,50.9 L871.8,51.7 L873.7,52.3 L875.7,52.8 L877.6,53.3 L879.6,53.7 L881.5,54.2 L883.5,54.7 L885.4,55.2 L887.3,55.8 L889.3,56.3 L891.2,56.8 L893.1,57.4 L895.1,57.9 L897.0,58.4 L898.9,58.9 L900.9,59.4 L902.9,59.8 L904.8,60.0 L906.8,60.3 L908.8,60.5 L910.8,60.8 L912.8,61.0 L914.8,61.3 L916.8,61.5 L918.8,61.7 L920.8,61.7 L922.8,61.7 L924.8,61.7 L926.8,61.7 L928.8,61.7 L930.8,61.7 L932.8,61.7 L934.8,61.6 L936.8,61.2 L938.7,60.6 L940.6,60.0 L942.5,59.4 L944.3,58.6 L945.9,57.6 L947.1,56.1 L948.2,54.4 L949.0,52.6 L949.4,50.7 L949.7,48.7 L949.6,47.0 L948.6,46.2 L946.8,46.0 L944.8,46.0 L942.8,46.0 L940.8,46.0 L938.8,46.0 L936.8,46.0 L934.8,46.0 L932.8,46.0 L930.8,46.0 L928.8,46.0 L926.8,46.0 L924.8,46.0 L922.8,46.0 L920.7,46.0 L918.7,46.0 L916.7,46.0 L914.7,46.0 L912.7,46.0 L910.7,46.0 L908.7,46.0 L906.7,46.0 L904.7,46.0 L902.7,46.0 L900.7,46.0 L898.7,46.0 L896.7,46.0 L894.7,46.0 L892.7,46.0 L890.7,46.0 L888.7,46.0 L886.6,46.0 L884.6,46.0 L882.6,46.0 L880.6,46.0 L878.6,46.0 L876.6,46.0 L874.6,46.0 L872.6,46.0Z" fill="#00e428"/>
<path d="M871.3,46.5 L870.2,47.9 L869.8,49.5 L870.4,50.7 L872.0,51.5 L874.0,52.0 L875.9,52.5 L877.9,53.0 L879.8,53.5 L881.8,54.0 L883.8,54.5 L885.7,55.0 L887.7,55.6 L889.6,56.1 L891.6,56.6 L893.5,57.2 L895.5,57.7 L897.4,58.2 L899.4,58.8 L901.3,59.2 L903.3,59.5 L905.3,59.7 L907.4,59.8 L909.4,60.0 L911.4,60.2 L913.4,60.4 L915.4,60.5 L917.4,60.7 L919.4,60.7 L921.5,60.7 L923.5,60.7 L925.5,60.6 L927.5,60.5 L929.6,60.5 L931.6,60.4 L933.5,60.1 L935.4,59.5 L937.3,58.8 L939.2,58.0 L941.1,57.3 L942.8,56.4 L944.2,54.9 L945.2,53.2 L945.7,51.3 L946.0,49.3 L946.1,47.5 L945.4,46.3 L943.8,46.0 L941.8,46.0 L939.8,46.0 L937.7,46.0 L935.7,46.0 L933.7,46.0 L931.7,46.0 L929.6,46.0 L927.6,46.0 L925.6,46.0 L923.6,46.0 L921.6,46.0 L919.5,46.0 L917.5,46.0 L915.5,46.0 L913.5,46.0 L911.4,46.0 L909.4,46.0 L907.4,46.0 L905.4,46.0 L903.4,46.0 L901.3,46.0 L899.3,46.0 L897.3,46.0 L895.3,46.0 L893.2,46.0 L891.2,46.0 L889.2,46.0 L887.2,46.0 L885.2,46.0 L883.1,46.0 L881.1,46.0 L879.1,46.0 L877.1,46.0 L875.0,46.0 L873.0,46.0Z" fill="#00e400"/>
<path d="M871.7,46.4 L870.4,47.8 L869.9,49.3 L870.4,50.5 L872.0,51.2 L873.9,51.7 L875.9,52.2 L877.8,52.7 L879.8,53.2 L881.7,53.7 L883.6,54.2 L885.6,54.7 L887.5,55.2 L889.4,55.7 L891.4,56.3 L893.3,56.8 L895.2,57.3 L897.2,57.9 L899.1,58.4 L901.0,58.8 L903.0,59.1 L905.0,59.2 L907.0,59.3 L909.0,59.5 L911.0,59.6 L913.0,59.7 L915.0,59.8 L917.0,59.9 L919.0,59.9 L921.0,59.8 L923.0,59.7 L925.0,59.5 L927.0,59.4 L929.0,59.2 L931.0,59.0 L932.9,58.4 L934.7,57.7 L936.6,56.9 L938.4,56.1 L940.1,55.1 L941.4,53.7 L942.3,52.1 L942.7,50.1 L943.0,48.2 L942.8,46.6 L941.4,46.1 L939.5,46.0 L937.5,46.0 L935.5,46.0 L933.5,46.0 L931.5,46.0 L929.5,46.0 L927.5,46.0 L925.5,46.0 L923.5,46.0 L921.5,46.0 L919.5,46.0 L917.5,46.0 L915.5,46.0 L913.4,46.0 L911.4,46.0 L909.4,46.0 L907.4,46.0 L905.4,46.0 L903.4,46.0 L901.4,46.0 L899.4,46.0 L897.4,46.0 L895.4,46.0 L893.4,46.0 L891.4,46.0 L889.4,46.0 L887.4,46.0 L885.4,46.0 L883.4,46.0 L881.4,46.0 L879.4,46.0 L877.4,46.0 L875.4,46.0 L873.4,46.0Z" fill="#82e400"/>
<path d="M872.0,46.4 L870.7,47.7 L869.9,49.1 L870.5,50.2 L872.2,50.9 L874.1,51.5 L876.1,52.0 L878.0,52.5 L880.0,53.0 L882.0,53.4 L883.9,53.9 L885.9,54.5 L887.9,55.0 L889.8,55.5 L891.8,56.1 L893.7,56.6 L895.7,57.2 L897.6,57.7 L899.6,58.2 L901.6,58.6 L903.6,58.6 L905.6,58.5 L907.6,58.4 L909.7,58.3 L911.7,58.2 L913.7,58.1 L915.7,58.1 L917.8,58.0 L919.8,57.9 L921.8,57.7 L923.8,57.3 L925.7,56.7 L927.6,56.1 L929.5,55.4 L931.4,54.6 L932.9,53.4 L933.8,51.8 L934.2,49.9 L934.5,47.9 L934.1,46.5 L932.6,46.0 L930.6,46.0 L928.6,46.0 L926.6,46.0 L924.5,46.0 L922.5,46.0 L920.5,46.0 L918.5,46.0 L916.4,46.0 L914.4,46.0 L912.4,46.0 L910.3,46.0 L908.3,46.0 L906.3,46.0 L904.3,46.0 L902.2,46.0 L900.2,46.0 L898.2,46.0 L896.1,46.0 L894.1,46.0 L892.1,46.0 L890.1,46.0 L888.0,46.0 L886.0,46.0 L884.0,46.0 L881.9,46.0 L879.9,46.0 L877.9,46.0 L875.9,46.0 L873.8,46.0Z" fill="#e4e400"/>
<path d="M872.4,46.4 L870.9,47.5 L870.0,48.9 L870.5,49.9 L872.1,50.6 L874.0,51.1 L875.9,51.6 L877.9,52.1 L879.8,52.6 L881.7,53.1 L883.7,53.6 L885.6,54.1 L887.6,54.6 L889.5,55.2 L891.4,55.7 L893.4,56.2 L895.3,56.7 L897.2,57.3 L899.2,57.8 L901.1,58.1 L903.0,57.8 L904.9,57.3 L906.9,57.0 L908.9,56.8 L910.9,56.6 L912.9,56.5 L914.9,56.3 L916.8,56.2 L918.8,55.8 L920.7,55.1 L922.5,54.3 L924.1,53.3 L925.1,51.9 L925.6,50.1 L925.9,48.1 L925.6,46.6 L924.2,46.1 L922.3,46.0 L920.3,46.0 L918.3,46.0 L916.3,46.0 L914.3,46.0 L912.3,46.0 L910.3,46.0 L908.3,46.0 L906.3,46.0 L904.3,46.0 L902.3,46.0 L900.3,46.0 L898.3,46.0 L896.3,46.0 L894.2,46.0 L892.2,46.0 L890.2,46.0 L888.2,46.0 L886.2,46.0 L884.2,46.0 L882.2,46.0 L880.2,46.0 L878.2,46.0 L876.2,46.0 L874.2,46.0Z" fill="#e4b900"/>
<path d="M872.7,46.3 L871.1,47.4 L870.1,48.6 L870.5,49.6 L872.1,50.3 L874.0,50.8 L876.0,51.3 L877.9,51.8 L879.9,52.3 L881.9,52.8 L883.8,53.3 L885.8,53.7 L887.8,54.0 L889.8,54.4 L891.8,54.8 L893.8,55.1 L895.8,55.4 L897.8,55.6 L899.8,55.5 L901.8,55.4 L903.9,55.3 L905.9,55.2 L907.9,55.1 L909.9,55.0 L911.9,54.9 L913.9,54.7 L915.8,54.1 L917.5,53.2 L918.4,51.7 L918.9,49.8 L919.1,47.9 L918.7,46.4 L917.1,46.0 L915.1,46.0 L913.1,46.0 L911.1,46.0 L909.1,46.0 L907.0,46.0 L905.0,46.0 L903.0,46.0 L901.0,46.0 L898.9,46.0 L896.9,46.0 L894.9,46.0 L892.9,46.0 L890.8,46.0 L888.8,46.0 L886.8,46.0 L884.8,46.0 L882.7,46.0 L880.7,46.0 L878.7,46.0 L876.7,46.0 L874.6,46.0Z" fill="#e44800"/>
<path d="M873.1,46.3 L871.4,47.2 L870.2,48.4 L870.5,49.3 L872.0,50.0 L873.9,50.5 L875.9,51.0 L877.9,51.5 L879.9,52.0 L881.8,52.5 L883.8,53.0 L885.8,53.3 L887.8,53.5 L889.9,53.8 L891.9,54.0 L893.9,54.2 L895.9,54.3 L898.0,54.5 L900.0,54.6 L902.0,54.6 L904.0,54.3 L906.0,53.9 L907.9,53.4 L909.4,52.5 L910.1,50.9 L910.4,48.9 L910.3,47.2 L909.4,46.2 L907.6,46.0 L905.6,46.0 L903.5,46.0 L901.5,46.0 L899.5,46.0 L897.4,46.0 L895.4,46.0 L893.4,46.0 L891.3,46.0 L889.3,46.0 L887.2,46.0 L885.2,46.0 L883.2,46.0 L881.1,46.0 L879.1,46.0 L877.1,46.0 L875.0,46.0Z" fill="#e40000"/>
<path d="M740.5,46.5 L740.2,48.0 L740.3,50.0 L740.4,52.0 L740.6,54.0 L740.9,56.0 L741.4,57.9 L742.4,59.6 L743.7,61.1 L745.2,62.4 L747.0,63.1 L748.9,63.6 L750.9,64.0 L752.9,63.9 L754.9,63.7 L756.9,63.4 L758.9,63.1 L760.8,62.6 L762.8,62.1 L764.7,61.6 L766.7,61.0 L768.6,60.5 L770.5,59.9 L772.5,59.4 L774.4,58.8 L776.3,58.1 L778.2,57.3 L780.0,56.6 L781.9,55.8 L783.8,55.1 L785.6,54.3 L787.5,53.5 L789.4,52.7 L791.2,52.0 L793.0,51.2 L794.5,50.1 L795.3,48.4 L795.4,46.8 L794.3,46.1 L792.4,46.0 L790.4,46.0 L788.4,46.0 L786.4,46.0 L784.4,46.0 L782.3,46.0 L780.3,46.0 L778.3,46.0 L776.3,46.0 L774.3,46.0 L772.3,46.0 L770.2,46.0 L768.2,46.0 L766.2,46.0 L764.2,46.0 L762.2,46.0 L760.2,46.0 L758.1,46.0 L756.1,46.0 L754.1,46.0 L752.1,46.0 L750.1,46.0 L748.1,46.0 L746.0,46.0 L744.0,46.0 L742.0,46.0Z" fill="#0040e0"/>
<path d="M743.0,46.5 L742.7,48.0 L742.8,50.0 L743.0,52.0 L743.2,54.0 L743.6,56.0 L744.2,57.8 L745.3,59.3 L746.9,60.4 L748.7,61.3 L750.5,62.0 L752.5,62.2 L754.5,62.3 L756.5,62.4 L758.5,62.3 L760.5,61.9 L762.5,61.5 L764.4,61.1 L766.4,60.7 L768.3,60.2 L770.3,59.6 L772.2,59.0 L774.1,58.4 L776.0,57.8 L777.9,57.1 L779.8,56.4 L781.7,55.6 L783.5,54.9 L785.4,54.2 L787.3,53.4 L789.2,52.7 L791.0,52.0 L792.7,51.0 L793.8,49.6 L794.4,47.8 L794.2,46.4 L792.8,46.0 L790.8,46.0 L788.8,46.0 L786.8,46.0 L784.8,46.0 L782.8,46.0 L780.7,46.0 L778.7,46.0 L776.7,46.0 L774.7,46.0 L772.7,46.0 L770.7,46.0 L768.7,46.0 L766.7,46.0 L764.6,46.0 L762.6,46.0 L760.6,46.0 L758.6,46.0 L756.6,46.0 L754.6,46.0 L752.6,46.0 L750.6,46.0 L748.5,46.0 L746.5,46.0 L744.5,46.0Z" fill="#00e4e4"/>
<path d="M750.0,46.5 L749.7,48.1 L749.8,50.1 L749.9,52.1 L750.3,54.0 L751.2,55.8 L752.5,57.3 L754.2,58.3 L756.1,58.9 L758.0,59.3 L760.0,59.4 L762.1,59.3 L764.1,59.2 L766.1,59.0 L768.2,58.7 L770.2,58.3 L772.2,57.9 L774.1,57.5 L776.1,56.9 L778.0,56.2 L780.0,55.6 L781.9,54.9 L783.8,54.2 L785.7,53.5 L787.6,52.8 L789.5,52.1 L791.3,51.3 L792.7,50.1 L793.4,48.3 L793.4,46.7 L792.2,46.1 L790.3,46.0 L788.2,46.0 L786.2,46.0 L784.2,46.0 L782.1,46.0 L780.1,46.0 L778.0,46.0 L776.0,46.0 L774.0,46.0 L771.9,46.0 L769.9,46.0 L767.9,46.0 L765.8,46.0 L763.8,46.0 L761.7,46.0 L759.7,46.0 L757.7,46.0 L755.6,46.0 L753.6,46.0 L751.6,46.0Z" fill="#00e428"/>
<path d="M755.5,46.5 L755.2,48.0 L755.3,50.0 L755.4,52.0 L756.0,53.8 L757.4,54.9 L759.2,55.7 L761.2,56.2 L763.2,56.5 L765.2,56.7 L767.2,56.8 L769.2,56.8 L771.2,56.7 L773.2,56.4 L775.2,56.1 L777.2,55.6 L779.1,55.1 L781.1,54.6 L783.0,54.0 L785.0,53.3 L786.8,52.6 L788.7,51.9 L790.3,50.9 L791.2,49.4 L791.5,47.6 L791.0,46.4 L789.4,46.0 L787.4,46.0 L785.4,46.0 L783.3,46.0 L781.3,46.0 L779.3,46.0 L777.3,46.0 L775.2,46.0 L773.2,46.0 L771.2,46.0 L769.2,46.0 L767.1,46.0 L765.1,46.0 L763.1,46.0 L761.1,46.0 L759.0,46.0 L757.1,46.0Z" fill="#e4e400"/>
<path d="M766.0,46.5 L765.7,48.1 L765.9,50.1 L766.2,52.0 L767.1,53.5 L768.7,54.3 L770.7,54.8 L772.7,55.2 L774.7,55.2 L776.8,55.1 L778.8,54.8 L780.7,54.2 L782.6,53.4 L784.4,52.4 L786.1,51.3 L787.3,49.9 L787.8,48.1 L787.5,46.5 L786.0,46.0 L784.0,46.0 L781.9,46.0 L779.9,46.0 L777.8,46.0 L775.8,46.0 L773.7,46.0 L771.7,46.0 L769.6,46.0 L767.6,46.0Z" fill="#e40000"/>
</g></g>
<path d="M735,399 L735,53 L782,53 L782,50.5 L864,50.5 L864,53 L973,53 L973,399" fill="none" stroke="#222" stroke-width="1"/>
<text x="756.3" y="379.2" font-family="Liberation Serif, serif" font-size="38" fill="#fff" textLength="184" lengthAdjust="spacingAndGlyphs">0.726 N/mm</text><text x="939" y="362.4" font-family="Liberation Serif, serif" font-size="23.5" fill="#fff">2</text>
<rect x="1136.5" y="15.5" width="134.5" height="22.5" fill="#fff" stroke="#ececec" stroke-width="1"/>
<path d="M1139.2,26.8 L1155.9,17.3 L1170.9,26.8 L1154.2,36.6Z" fill="#e6e6e6"/>
<path d="M1149.6,27.1 L1161.7,20.5 L1170.9,26.8 L1154.2,36.6Z" fill="#eeeeee"/>
<path d="M1152.5,26.6 L1161.1,22.2 L1164.0,23.7 L1155.3,28.1Z" fill="#e2e2e2"/>
<text x="1178.6" y="22.6" font-family="Liberation Sans, sans-serif" font-size="7" fill="#d6d6d6" textLength="26.7" lengthAdjust="spacingAndGlyphs">midas</text>
<text x="1178.6" y="35.1" font-family="Liberation Sans, sans-serif" font-size="15.4" fill="#d4d4d4" textLength="40.6" lengthAdjust="spacingAndGlyphs">GTS</text>
<text x="1224.2" y="35.1" font-family="Liberation Sans, sans-serif" font-weight="bold" font-size="23" fill="#cbcbcb" textLength="39" lengthAdjust="spacingAndGlyphs">NX</text>
<text x="1136" y="49.8" font-family="Liberation Sans, sans-serif" font-size="11" fill="#000" textLength="117" lengthAdjust="spacingAndGlyphs">PLANE STRAIN STRESS</text>
<text x="1136" y="61.6" font-family="Liberation Sans, sans-serif" font-size="11" fill="#000" textLength="76.5" lengthAdjust="spacingAndGlyphs">S-XX , N/mm^2</text>
<rect x="1135.5" y="73.60" width="16" height="24.55" fill="#ff0000"/>
<rect x="1135.5" y="98.15" width="16" height="24.55" fill="#ff5000"/>
<rect x="1135.5" y="122.70" width="16" height="24.55" fill="#ffc800"/>
<rect x="1135.5" y="147.25" width="16" height="24.55" fill="#ffff00"/>
<rect x="1135.5" y="171.80" width="16" height="24.55" fill="#96ff00"/>
<rect x="1135.5" y="196.35" width="16" height="24.55" fill="#00ff2a"/>
<rect x="1135.5" y="220.90" width="16" height="24.55" fill="#00ff00"/>
<rect x="1135.5" y="245.45" width="16" height="24.55" fill="#00ff9b"/>
<rect x="1135.5" y="270.00" width="16" height="24.55" fill="#00ffff"/>
<rect x="1135.5" y="294.55" width="16" height="24.55" fill="#00d2ff"/>
<rect x="1135.5" y="319.10" width="16" height="24.55" fill="#0048ff"/>
<rect x="1135.5" y="343.65" width="16" height="24.55" fill="#0000ff"/>
<line x1="1135.5" y1="73.60" x2="1151.5" y2="73.60" stroke="#000" stroke-width="1.2"/>
<line x1="1151.5" y1="73.60" x2="1182.5" y2="73.60" stroke="#aaa" stroke-width="1"/>
<text x="1183.0" y="77.60" font-family="Liberation Sans, sans-serif" font-size="11.3" fill="#000" textLength="78" lengthAdjust="spacingAndGlyphs">+7.26000e-001</text>
<line x1="1135.5" y1="98.15" x2="1151.5" y2="98.15" stroke="#000" stroke-width="1.2"/>
<line x1="1151.5" y1="98.15" x2="1182.5" y2="98.15" stroke="#aaa" stroke-width="1"/>
<text x="1183.0" y="102.15" font-family="Liberation Sans, sans-serif" font-size="11.3" fill="#000" textLength="78" lengthAdjust="spacingAndGlyphs">+3.26468e-001</text>
<line x1="1135.5" y1="122.70" x2="1151.5" y2="122.70" stroke="#000" stroke-width="1.2"/>
<line x1="1151.5" y1="122.70" x2="1182.5" y2="122.70" stroke="#aaa" stroke-width="1"/>
<text x="1183.0" y="126.70" font-family="Liberation Sans, sans-serif" font-size="11.3" fill="#000" textLength="78" lengthAdjust="spacingAndGlyphs">+2.70798e-001</text>
<line x1="1135.5" y1="147.25" x2="1151.5" y2="147.25" stroke="#000" stroke-width="1.2"/>
<line x1="1151.5" y1="147.25" x2="1182.5" y2="147.25" stroke="#aaa" stroke-width="1"/>
<text x="1183.0" y="151.25" font-family="Liberation Sans, sans-serif" font-size="11.3" fill="#000" textLength="78" lengthAdjust="spacingAndGlyphs">+2.27132e-001</text>
<line x1="1135.5" y1="171.80" x2="1151.5" y2="171.80" stroke="#000" stroke-width="1.2"/>
<line x1="1151.5" y1="171.80" x2="1182.5" y2="171.80" stroke="#aaa" stroke-width="1"/>
<text x="1183.0" y="175.80" font-family="Liberation Sans, sans-serif" font-size="11.3" fill="#000" textLength="78" lengthAdjust="spacingAndGlyphs">+1.90022e-001</text>
<line x1="1135.5" y1="196.35" x2="1151.5" y2="196.35" stroke="#000" stroke-width="1.2"/>
<line x1="1151.5" y1="196.35" x2="1182.5" y2="196.35" stroke="#aaa" stroke-width="1"/>
<text x="1183.0" y="200.35" font-family="Liberation Sans, sans-serif" font-size="11.3" fill="#000" textLength="78" lengthAdjust="spacingAndGlyphs">+1.57393e-001</text>
<line x1="1135.5" y1="220.90" x2="1151.5" y2="220.90" stroke="#000" stroke-width="1.2"/>
<line x1="1151.5" y1="220.90" x2="1182.5" y2="220.90" stroke="#aaa" stroke-width="1"/>
<text x="1183.0" y="224.90" font-family="Liberation Sans, sans-serif" font-size="11.3" fill="#000" textLength="78" lengthAdjust="spacingAndGlyphs">+1.28238e-001</text>
<line x1="1135.5" y1="245.45" x2="1151.5" y2="245.45" stroke="#000" stroke-width="1.2"/>
<line x1="1151.5" y1="245.45" x2="1182.5" y2="245.45" stroke="#aaa" stroke-width="1"/>
<text x="1183.0" y="249.45" font-family="Liberation Sans, sans-serif" font-size="11.3" fill="#000" textLength="78" lengthAdjust="spacingAndGlyphs">+1.01522e-001</text>
<line x1="1135.5" y1="270.00" x2="1151.5" y2="270.00" stroke="#000" stroke-width="1.2"/>
<line x1="1151.5" y1="270.00" x2="1182.5" y2="270.00" stroke="#aaa" stroke-width="1"/>
<text x="1183.0" y="274.00" font-family="Liberation Sans, sans-serif" font-size="11.3" fill="#000" textLength="78" lengthAdjust="spacingAndGlyphs">+7.70200e-002</text>
<line x1="1135.5" y1="294.55" x2="1151.5" y2="294.55" stroke="#000" stroke-width="1.2"/>
<line x1="1151.5" y1="294.55" x2="1182.5" y2="294.55" stroke="#aaa" stroke-width="1"/>
<text x="1183.0" y="298.55" font-family="Liberation Sans, sans-serif" font-size="11.3" fill="#000" textLength="78" lengthAdjust="spacingAndGlyphs">+5.45061e-002</text>
<line x1="1135.5" y1="319.10" x2="1151.5" y2="319.10" stroke="#000" stroke-width="1.2"/>
<line x1="1151.5" y1="319.10" x2="1182.5" y2="319.10" stroke="#aaa" stroke-width="1"/>
<text x="1183.0" y="323.10" font-family="Liberation Sans, sans-serif" font-size="11.3" fill="#000" textLength="78" lengthAdjust="spacingAndGlyphs">+3.39315e-002</text>
<line x1="1135.5" y1="343.65" x2="1151.5" y2="343.65" stroke="#000" stroke-width="1.2"/>
<line x1="1151.5" y1="343.65" x2="1182.5" y2="343.65" stroke="#aaa" stroke-width="1"/>
<text x="1183.0" y="347.65" font-family="Liberation Sans, sans-serif" font-size="11.3" fill="#000" textLength="78" lengthAdjust="spacingAndGlyphs">+1.54292e-002</text>
<line x1="1135.5" y1="368.20" x2="1151.5" y2="368.20" stroke="#000" stroke-width="1.2"/>
<line x1="1151.5" y1="368.20" x2="1182.5" y2="368.20" stroke="#aaa" stroke-width="1"/>
<text x="1183.0" y="372.20" font-family="Liberation Sans, sans-serif" font-size="11.3" fill="#000" textLength="83" lengthAdjust="spacingAndGlyphs">+0.00000e+000</text>
<line x1="1135.5" y1="73.6" x2="1135.5" y2="368.20" stroke="#000" stroke-width="1.2"/>
<line x1="1151.5" y1="73.6" x2="1151.5" y2="368.20" stroke="#000" stroke-width="1.2"/>
<text x="1156.0" y="89.08" font-family="Liberation Sans, sans-serif" font-size="11.3" fill="#ff0000" textLength="28" lengthAdjust="spacingAndGlyphs">1.2%</text>
<text x="1156.0" y="113.62" font-family="Liberation Sans, sans-serif" font-size="11.3" fill="#ff0000" textLength="28" lengthAdjust="spacingAndGlyphs">2.2%</text>
<text x="1156.0" y="138.17" font-family="Liberation Sans, sans-serif" font-size="11.3" fill="#ff0000" textLength="28" lengthAdjust="spacingAndGlyphs">3.1%</text>
<text x="1156.0" y="162.72" font-family="Liberation Sans, sans-serif" font-size="11.3" fill="#ff0000" textLength="28" lengthAdjust="spacingAndGlyphs">3.9%</text>
<text x="1156.0" y="187.28" font-family="Liberation Sans, sans-serif" font-size="11.3" fill="#ff0000" textLength="28" lengthAdjust="spacingAndGlyphs">4.8%</text>
<text x="1156.0" y="211.82" font-family="Liberation Sans, sans-serif" font-size="11.3" fill="#ff0000" textLength="28" lengthAdjust="spacingAndGlyphs">5.7%</text>
<text x="1156.0" y="236.38" font-family="Liberation Sans, sans-serif" font-size="11.3" fill="#ff0000" textLength="28" lengthAdjust="spacingAndGlyphs">6.6%</text>
<text x="1156.0" y="260.92" font-family="Liberation Sans, sans-serif" font-size="11.3" fill="#ff0000" textLength="28" lengthAdjust="spacingAndGlyphs">7.7%</text>
<text x="1156.0" y="285.47" font-family="Liberation Sans, sans-serif" font-size="11.3" fill="#ff0000" textLength="28" lengthAdjust="spacingAndGlyphs">8.9%</text>
<text x="1156.0" y="310.02" font-family="Liberation Sans, sans-serif" font-size="11.3" fill="#ff0000" textLength="34" lengthAdjust="spacingAndGlyphs">10.5%</text>
<text x="1156.0" y="334.57" font-family="Liberation Sans, sans-serif" font-size="11.3" fill="#ff0000" textLength="34" lengthAdjust="spacingAndGlyphs">12.9%</text>
<text x="1156.0" y="359.12" font-family="Liberation Sans, sans-serif" font-size="11.3" fill="#ff0000" textLength="34" lengthAdjust="spacingAndGlyphs">32.4%</text>
<clipPath id="clip1245"><path d="M1360,401.5 L1360,53 L1407,53 L1407,50.5 L1489,50.5 L1489,53 L1598,53 L1598,401.5Z"/></clipPath>
<path d="M1360,401.5 L1360,53 L1407,53 L1407,50.5 L1489,50.5 L1489,53 L1598,53 L1598,401.5Z" fill="#0000e4"/>
<g clip-path="url(#clip1245)"><g>
<path d="M1442.0,91.9 L1444.0,91.9 L1446.0,91.9 L1448.0,91.9 L1450.0,91.9 L1452.0,92.0 L1454.0,92.0 L1456.0,92.1 L1457.9,92.3 L1459.9,92.6 L1461.8,92.9 L1463.7,93.4 L1465.5,93.9 L1467.3,94.6 L1469.1,95.4 L1470.9,96.3 L1472.6,97.2 L1474.3,98.2 L1475.9,99.3 L1477.6,100.4 L1479.2,101.6 L1480.7,102.9 L1482.3,104.1 L1483.8,105.4 L1485.3,106.7 L1486.8,108.1 L1488.2,109.5 L1489.7,110.8 L1491.1,112.2 L1492.5,113.6 L1493.9,115.1 L1495.3,116.5 L1496.6,118.0 L1497.9,119.5 L1499.2,121.0 L1500.5,122.5 L1501.8,124.1 L1503.0,125.6 L1504.3,127.2 L1505.5,128.7 L1506.8,130.2 L1508.2,131.7 L1509.5,133.2 L1510.9,134.7 L1512.3,136.1 L1513.7,137.5 L1515.2,138.8 L1516.6,140.2 L1518.1,141.5 L1519.6,142.8 L1521.1,144.1 L1522.7,145.4 L1524.2,146.7 L1525.8,147.9 L1527.4,149.2 L1529.0,150.4 L1530.5,151.6 L1532.2,152.8 L1533.8,154.0 L1535.4,155.2 L1537.0,156.4 L1538.5,157.6 L1540.1,158.9 L1541.6,160.1 L1543.2,161.4 L1544.7,162.7 L1546.1,164.1 L1547.6,165.4 L1549.0,166.8 L1550.4,168.3 L1551.8,169.7 L1553.2,171.1 L1554.6,172.6 L1555.9,174.1 L1557.2,175.6 L1558.5,177.1 L1559.8,178.7 L1561.0,180.2 L1562.1,181.8 L1563.3,183.5 L1564.3,185.2 L1565.3,186.9 L1566.3,188.6 L1567.1,190.4 L1567.9,192.2 L1568.6,194.0 L1569.1,195.9 L1569.6,197.8 L1570.0,199.7 L1570.3,201.7 L1570.5,203.7 L1570.7,205.6 L1570.7,207.6 L1570.7,209.6 L1570.7,211.6 L1570.6,213.6 L1570.5,215.6 L1570.4,217.6 L1570.2,219.6 L1570.0,221.5 L1569.8,223.5 L1569.5,225.5 L1569.2,227.5 L1568.8,229.5 L1568.5,231.4 L1568.1,233.4 L1567.6,235.3 L1567.2,237.3 L1566.7,239.2 L1566.3,241.2 L1565.8,243.1 L1565.4,245.1 L1565.0,247.0 L1564.6,249.0 L1564.2,250.9 L1563.9,252.9 L1563.6,254.9 L1563.3,256.9 L1563.0,258.8 L1562.7,260.8 L1562.4,262.8 L1562.0,264.7 L1561.6,266.7 L1561.1,268.6 L1560.6,270.5 L1560.1,272.4 L1559.4,274.3 L1558.7,276.2 L1558.0,278.1 L1557.2,279.9 L1556.4,281.7 L1555.5,283.5 L1554.6,285.2 L1553.6,287.0 L1552.6,288.7 L1551.6,290.4 L1550.5,292.1 L1549.5,293.8 L1548.4,295.4 L1547.4,297.1 L1546.4,298.8 L1545.4,300.6 L1544.5,302.3 L1543.7,304.1 L1542.9,305.9 L1542.1,307.8 L1541.4,309.6 L1540.6,311.4 L1539.8,313.3 L1538.9,315.0 L1538.0,316.8 L1537.1,318.6 L1536.1,320.3 L1535.0,322.0 L1533.9,323.6 L1532.7,325.2 L1531.5,326.8 L1530.2,328.3 L1528.9,329.8 L1527.6,331.3 L1526.2,332.7 L1524.8,334.1 L1523.4,335.5 L1521.9,336.8 L1520.4,338.1 L1518.8,339.4 L1517.2,340.6 L1515.6,341.7 L1513.9,342.8 L1512.2,343.8 L1510.5,344.7 L1508.7,345.6 L1506.9,346.4 L1505.1,347.2 L1503.2,347.9 L1501.3,348.6 L1499.5,349.3 L1497.6,349.9 L1495.6,350.4 L1493.7,351.0 L1491.8,351.5 L1489.9,351.9 L1487.9,352.3 L1486.0,352.6 L1484.0,352.9 L1482.1,353.0 L1480.1,353.1 L1478.2,353.1 L1476.2,352.9 L1474.3,352.7 L1472.3,352.4 L1470.4,352.0 L1468.4,351.5 L1466.5,351.0 L1464.6,350.5 L1462.7,349.9 L1460.8,349.3 L1458.9,348.7 L1457.0,348.0 L1455.1,347.3 L1453.3,346.6 L1451.5,345.8 L1449.6,345.0 L1447.9,344.1 L1446.1,343.1 L1444.4,342.2 L1442.7,341.1 L1441.0,340.0 L1439.4,338.9 L1437.8,337.7 L1436.2,336.5 L1434.6,335.3 L1433.1,334.0 L1431.5,332.7 L1430.0,331.4 L1428.5,330.1 L1427.1,328.8 L1425.6,327.4 L1424.2,326.0 L1422.8,324.6 L1421.4,323.1 L1420.1,321.6 L1418.9,320.1 L1417.7,318.5 L1416.5,316.9 L1415.4,315.3 L1414.4,313.6 L1413.4,311.8 L1412.4,310.1 L1411.5,308.3 L1410.6,306.6 L1409.7,304.8 L1408.7,303.0 L1407.8,301.2 L1406.9,299.5 L1405.9,297.7 L1404.9,296.0 L1403.9,294.3 L1402.9,292.5 L1401.9,290.8 L1400.9,289.1 L1400.0,287.3 L1399.0,285.6 L1398.1,283.8 L1397.1,282.0 L1396.2,280.3 L1395.3,278.5 L1394.5,276.7 L1393.7,274.8 L1392.9,273.0 L1392.3,271.2 L1391.7,269.3 L1391.1,267.4 L1390.7,265.5 L1390.3,263.5 L1390.0,261.6 L1389.7,259.6 L1389.4,257.6 L1389.1,255.7 L1388.8,253.7 L1388.5,251.8 L1388.1,249.8 L1387.6,247.9 L1387.1,246.0 L1386.5,244.1 L1385.9,242.2 L1385.3,240.3 L1384.7,238.4 L1384.1,236.5 L1383.5,234.6 L1382.9,232.7 L1382.3,230.8 L1381.8,228.8 L1381.2,226.9 L1380.7,225.0 L1380.2,223.0 L1379.7,221.1 L1379.2,219.2 L1378.7,217.2 L1378.2,215.3 L1377.8,213.3 L1377.3,211.4 L1376.9,209.4 L1376.6,207.5 L1376.2,205.5 L1375.9,203.5 L1375.6,201.6 L1375.4,199.6 L1375.2,197.6 L1375.1,195.6 L1375.0,193.6 L1374.8,191.6 L1374.7,189.6 L1374.5,187.6 L1374.3,185.7 L1374.1,183.7 L1373.8,181.7 L1373.5,179.8 L1373.1,177.8 L1372.7,175.9 L1372.3,173.9 L1372.0,172.0 L1371.6,170.0 L1371.3,168.1 L1371.1,166.1 L1370.9,164.1 L1370.8,162.1 L1370.7,160.2 L1370.6,158.2 L1370.5,156.2 L1370.4,154.2 L1370.4,152.2 L1370.3,150.2 L1370.3,148.2 L1370.3,146.2 L1370.3,144.2 L1370.3,142.2 L1370.4,140.2 L1370.5,138.2 L1370.7,136.2 L1370.9,134.3 L1371.2,132.3 L1371.6,130.4 L1372.2,128.5 L1372.8,126.7 L1373.5,124.9 L1374.4,123.2 L1375.3,121.5 L1376.4,119.9 L1377.6,118.4 L1378.9,117.0 L1380.3,115.6 L1381.8,114.3 L1383.3,113.1 L1384.9,111.9 L1386.5,110.8 L1388.2,109.7 L1389.9,108.8 L1391.7,107.8 L1393.4,106.9 L1395.2,106.1 L1397.1,105.2 L1398.9,104.4 L1400.7,103.6 L1402.5,102.7 L1404.3,101.9 L1406.1,101.1 L1407.9,100.2 L1409.8,99.3 L1411.5,98.5 L1413.3,97.6 L1415.1,96.7 L1416.9,95.9 L1418.8,95.1 L1420.6,94.4 L1422.4,93.8 L1424.3,93.3 L1426.2,92.8 L1428.1,92.5 L1430.1,92.3 L1432.0,92.1 L1434.0,92.0 L1436.0,91.9 L1438.0,91.9 L1440.0,91.9Z" fill="#0040e0"/>
<path d="M1442.0,92.6 L1444.0,92.6 L1446.0,92.7 L1448.0,92.7 L1450.0,92.7 L1452.0,92.8 L1454.0,92.9 L1456.0,93.1 L1457.9,93.3 L1459.9,93.6 L1461.8,94.0 L1463.7,94.5 L1465.6,95.0 L1467.4,95.7 L1469.2,96.5 L1471.0,97.3 L1472.7,98.3 L1474.4,99.3 L1476.1,100.3 L1477.7,101.5 L1479.3,102.7 L1480.9,103.9 L1482.4,105.2 L1483.9,106.5 L1485.4,107.8 L1486.9,109.2 L1488.3,110.6 L1489.7,112.0 L1491.1,113.5 L1492.5,114.9 L1493.8,116.4 L1495.2,117.9 L1496.5,119.4 L1497.7,120.9 L1499.0,122.5 L1500.2,124.1 L1501.5,125.7 L1502.7,127.3 L1503.9,128.8 L1505.1,130.4 L1506.4,132.0 L1507.7,133.5 L1509.0,135.1 L1510.3,136.6 L1511.6,138.1 L1512.9,139.6 L1514.3,141.0 L1515.7,142.5 L1517.1,143.9 L1518.5,145.3 L1520.0,146.7 L1521.4,148.1 L1522.9,149.5 L1524.3,150.8 L1525.8,152.2 L1527.3,153.5 L1528.8,154.9 L1530.2,156.3 L1531.6,157.7 L1533.1,159.1 L1534.4,160.5 L1535.8,162.0 L1537.1,163.5 L1538.3,165.1 L1539.6,166.6 L1540.8,168.2 L1542.0,169.9 L1543.1,171.5 L1544.2,173.2 L1545.2,174.9 L1546.3,176.6 L1547.2,178.3 L1548.2,180.1 L1549.0,181.9 L1549.9,183.7 L1550.7,185.5 L1551.5,187.3 L1552.3,189.2 L1553.1,191.0 L1553.8,192.8 L1554.5,194.7 L1555.2,196.5 L1555.8,198.4 L1556.3,200.3 L1556.7,202.2 L1556.9,204.1 L1557.1,206.1 L1557.2,208.1 L1557.3,210.1 L1557.2,212.0 L1557.1,214.0 L1557.0,216.0 L1556.8,218.0 L1556.5,220.0 L1556.3,222.0 L1556.0,224.0 L1555.6,225.9 L1555.2,227.9 L1554.8,229.9 L1554.4,231.8 L1553.9,233.8 L1553.5,235.7 L1553.0,237.7 L1552.5,239.6 L1552.0,241.5 L1551.5,243.5 L1550.9,245.4 L1550.3,247.3 L1549.8,249.2 L1549.1,251.1 L1548.5,253.0 L1547.8,254.9 L1547.0,256.8 L1546.3,258.6 L1545.5,260.4 L1544.6,262.3 L1543.7,264.1 L1542.8,265.8 L1541.9,267.6 L1540.9,269.4 L1539.9,271.1 L1538.9,272.8 L1537.8,274.5 L1536.7,276.1 L1535.5,277.8 L1534.4,279.4 L1533.1,281.0 L1531.9,282.5 L1530.6,284.0 L1529.2,285.5 L1527.9,287.0 L1526.5,288.4 L1525.0,289.8 L1523.6,291.1 L1522.0,292.4 L1520.5,293.7 L1519.0,295.0 L1517.4,296.3 L1515.9,297.5 L1514.3,298.8 L1512.7,300.0 L1511.1,301.2 L1509.5,302.4 L1507.9,303.6 L1506.3,304.8 L1504.7,305.9 L1503.0,306.9 L1501.3,307.9 L1499.5,308.8 L1497.8,309.6 L1495.9,310.3 L1494.1,310.9 L1492.2,311.5 L1490.2,312.0 L1488.3,312.4 L1486.4,312.8 L1484.4,313.2 L1482.4,313.4 L1480.5,313.6 L1478.5,313.8 L1476.6,313.8 L1474.6,313.7 L1472.7,313.5 L1470.7,313.3 L1468.7,312.9 L1466.8,312.6 L1464.9,312.1 L1462.9,311.7 L1461.0,311.2 L1459.1,310.6 L1457.2,310.0 L1455.3,309.4 L1453.4,308.6 L1451.6,307.9 L1449.8,307.1 L1448.0,306.2 L1446.2,305.3 L1444.4,304.4 L1442.7,303.4 L1440.9,302.4 L1439.2,301.4 L1437.5,300.4 L1435.9,299.3 L1434.2,298.1 L1432.6,296.9 L1431.1,295.7 L1429.5,294.4 L1428.0,293.1 L1426.5,291.8 L1425.0,290.5 L1423.5,289.1 L1422.1,287.7 L1420.6,286.3 L1419.2,284.9 L1417.9,283.5 L1416.5,282.0 L1415.2,280.5 L1414.0,278.9 L1412.8,277.3 L1411.6,275.7 L1410.5,274.0 L1409.5,272.3 L1408.5,270.6 L1407.6,268.9 L1406.7,267.1 L1405.8,265.3 L1405.0,263.5 L1404.1,261.6 L1403.3,259.8 L1402.6,257.9 L1401.8,256.1 L1401.0,254.2 L1400.3,252.4 L1399.5,250.5 L1398.8,248.7 L1398.0,246.8 L1397.3,244.9 L1396.6,243.1 L1395.8,241.2 L1395.1,239.3 L1394.4,237.4 L1393.7,235.6 L1393.0,233.7 L1392.3,231.8 L1391.6,229.9 L1391.0,228.0 L1390.3,226.1 L1389.7,224.2 L1389.1,222.3 L1388.5,220.4 L1387.9,218.5 L1387.3,216.6 L1386.7,214.6 L1386.2,212.7 L1385.7,210.8 L1385.2,208.8 L1384.7,206.9 L1384.3,204.9 L1383.9,203.0 L1383.6,201.0 L1383.2,199.0 L1382.9,197.0 L1382.6,195.1 L1382.3,193.1 L1382.0,191.1 L1381.7,189.1 L1381.4,187.1 L1381.1,185.2 L1380.7,183.2 L1380.3,181.2 L1379.9,179.3 L1379.4,177.4 L1378.9,175.4 L1378.5,173.5 L1378.0,171.6 L1377.7,169.6 L1377.3,167.7 L1377.1,165.7 L1376.8,163.7 L1376.7,161.7 L1376.5,159.7 L1376.4,157.7 L1376.3,155.7 L1376.2,153.7 L1376.1,151.7 L1376.0,149.7 L1376.0,147.7 L1375.9,145.7 L1375.9,143.7 L1375.9,141.7 L1376.0,139.7 L1376.1,137.7 L1376.2,135.8 L1376.5,133.8 L1376.8,131.9 L1377.3,130.0 L1377.8,128.1 L1378.5,126.2 L1379.2,124.5 L1380.1,122.7 L1381.1,121.1 L1382.2,119.4 L1383.4,117.9 L1384.7,116.4 L1386.0,115.0 L1387.5,113.6 L1389.0,112.4 L1390.5,111.1 L1392.1,110.0 L1393.8,108.9 L1395.4,107.8 L1397.2,106.8 L1398.9,105.8 L1400.7,104.9 L1402.4,103.9 L1404.2,103.0 L1406.0,102.1 L1407.8,101.2 L1409.6,100.3 L1411.4,99.4 L1413.2,98.5 L1415.0,97.7 L1416.8,96.9 L1418.7,96.1 L1420.5,95.4 L1422.4,94.8 L1424.3,94.3 L1426.2,93.8 L1428.1,93.5 L1430.1,93.2 L1432.0,93.0 L1434.0,92.9 L1436.0,92.8 L1438.0,92.7 L1440.0,92.7Z" fill="#00bee6"/>
<path d="M1442.0,93.5 L1444.0,93.5 L1446.0,93.5 L1448.0,93.6 L1450.0,93.6 L1452.0,93.7 L1454.0,93.9 L1456.0,94.0 L1457.9,94.3 L1459.9,94.6 L1461.8,94.9 L1463.7,95.4 L1465.6,96.0 L1467.4,96.7 L1469.3,97.4 L1471.0,98.2 L1472.8,99.2 L1474.5,100.2 L1476.1,101.2 L1477.7,102.4 L1479.3,103.6 L1480.8,104.9 L1482.3,106.2 L1483.8,107.6 L1485.2,108.9 L1486.6,110.4 L1488.0,111.8 L1489.4,113.2 L1490.8,114.7 L1492.1,116.2 L1493.4,117.7 L1494.7,119.2 L1496.0,120.7 L1497.2,122.3 L1498.4,123.9 L1499.6,125.5 L1500.8,127.1 L1502.1,128.7 L1503.3,130.2 L1504.6,131.8 L1505.9,133.3 L1507.2,134.8 L1508.5,136.3 L1509.8,137.8 L1511.2,139.3 L1512.5,140.8 L1513.8,142.3 L1515.1,143.8 L1516.4,145.3 L1517.7,146.9 L1519.0,148.4 L1520.3,149.9 L1521.5,151.5 L1522.8,153.1 L1524.0,154.7 L1525.2,156.3 L1526.4,157.9 L1527.5,159.5 L1528.7,161.2 L1529.8,162.8 L1530.9,164.5 L1532.0,166.2 L1533.0,167.9 L1534.0,169.6 L1535.0,171.3 L1536.0,173.1 L1536.9,174.9 L1537.8,176.7 L1538.6,178.5 L1539.4,180.3 L1540.1,182.2 L1540.8,184.1 L1541.4,185.9 L1542.0,187.8 L1542.6,189.8 L1543.1,191.7 L1543.6,193.6 L1544.0,195.6 L1544.4,197.5 L1544.7,199.5 L1545.0,201.5 L1545.2,203.5 L1545.3,205.4 L1545.4,207.4 L1545.4,209.4 L1545.3,211.4 L1545.2,213.4 L1545.0,215.4 L1544.7,217.3 L1544.4,219.3 L1544.1,221.3 L1543.7,223.2 L1543.3,225.2 L1542.8,227.1 L1542.4,229.1 L1541.9,231.0 L1541.3,233.0 L1540.8,234.9 L1540.2,236.8 L1539.7,238.7 L1539.0,240.6 L1538.4,242.5 L1537.6,244.4 L1536.9,246.2 L1536.1,248.0 L1535.2,249.8 L1534.3,251.6 L1533.3,253.3 L1532.2,255.0 L1531.1,256.7 L1530.0,258.3 L1528.8,259.9 L1527.6,261.5 L1526.3,263.0 L1525.0,264.5 L1523.7,266.0 L1522.3,267.5 L1520.9,268.9 L1519.5,270.3 L1518.1,271.7 L1516.6,273.0 L1515.1,274.3 L1513.5,275.5 L1511.9,276.7 L1510.3,277.8 L1508.6,278.8 L1506.9,279.7 L1505.1,280.5 L1503.3,281.3 L1501.4,282.0 L1499.6,282.6 L1497.7,283.2 L1495.8,283.8 L1493.8,284.4 L1491.9,285.0 L1490.0,285.5 L1488.1,286.1 L1486.2,286.6 L1484.2,287.1 L1482.3,287.5 L1480.4,287.8 L1478.4,288.0 L1476.5,288.1 L1474.6,288.0 L1472.6,287.9 L1470.7,287.7 L1468.7,287.4 L1466.8,287.0 L1464.8,286.6 L1462.9,286.1 L1460.9,285.7 L1459.0,285.2 L1457.0,284.8 L1455.1,284.3 L1453.2,283.8 L1451.2,283.4 L1449.3,282.9 L1447.3,282.4 L1445.4,281.8 L1443.5,281.3 L1441.7,280.6 L1439.8,279.9 L1438.0,279.1 L1436.3,278.3 L1434.6,277.3 L1432.9,276.2 L1431.3,275.1 L1429.7,273.9 L1428.2,272.7 L1426.7,271.4 L1425.2,270.0 L1423.8,268.6 L1422.5,267.1 L1421.2,265.6 L1419.9,264.1 L1418.7,262.5 L1417.5,260.9 L1416.3,259.3 L1415.2,257.7 L1414.1,256.0 L1413.0,254.3 L1411.9,252.6 L1410.9,250.9 L1409.8,249.2 L1408.8,247.5 L1407.8,245.8 L1406.8,244.0 L1405.9,242.2 L1405.0,240.5 L1404.1,238.7 L1403.2,236.9 L1402.3,235.1 L1401.5,233.2 L1400.7,231.4 L1399.9,229.6 L1399.1,227.7 L1398.4,225.9 L1397.6,224.0 L1396.9,222.1 L1396.2,220.3 L1395.5,218.4 L1394.8,216.5 L1394.1,214.6 L1393.5,212.7 L1392.9,210.8 L1392.4,208.9 L1391.9,207.0 L1391.4,205.0 L1391.0,203.1 L1390.6,201.1 L1390.3,199.1 L1390.0,197.2 L1389.6,195.2 L1389.3,193.2 L1389.0,191.2 L1388.6,189.3 L1388.2,187.3 L1387.8,185.4 L1387.3,183.4 L1386.8,181.5 L1386.2,179.6 L1385.6,177.8 L1385.0,175.9 L1384.3,174.0 L1383.7,172.1 L1383.2,170.3 L1382.7,168.3 L1382.3,166.4 L1382.0,164.5 L1381.7,162.5 L1381.5,160.5 L1381.3,158.5 L1381.2,156.6 L1381.0,154.6 L1380.9,152.6 L1380.8,150.6 L1380.7,148.6 L1380.6,146.6 L1380.6,144.6 L1380.6,142.6 L1380.6,140.6 L1380.8,138.6 L1381.0,136.6 L1381.3,134.7 L1381.6,132.8 L1382.1,130.9 L1382.7,129.0 L1383.4,127.1 L1384.1,125.3 L1385.0,123.6 L1386.0,121.9 L1387.0,120.2 L1388.2,118.6 L1389.4,117.0 L1390.6,115.5 L1392.0,114.0 L1393.3,112.6 L1394.8,111.3 L1396.3,110.0 L1397.8,108.8 L1399.4,107.6 L1401.1,106.4 L1402.7,105.3 L1404.4,104.3 L1406.1,103.2 L1407.8,102.2 L1409.6,101.2 L1411.4,100.3 L1413.1,99.4 L1414.9,98.6 L1416.8,97.8 L1418.6,97.0 L1420.5,96.4 L1422.3,95.8 L1424.2,95.2 L1426.2,94.8 L1428.1,94.4 L1430.1,94.1 L1432.0,93.9 L1434.0,93.8 L1436.0,93.7 L1438.0,93.6 L1440.0,93.5Z" fill="#00e4e4"/>
<path d="M1442.0,94.7 L1444.0,94.7 L1446.0,94.7 L1448.0,94.7 L1450.0,94.8 L1452.0,94.8 L1454.0,94.9 L1456.0,95.1 L1457.9,95.3 L1459.9,95.6 L1461.8,95.9 L1463.7,96.4 L1465.6,96.9 L1467.5,97.6 L1469.3,98.3 L1471.1,99.1 L1472.8,100.0 L1474.5,101.0 L1476.1,102.1 L1477.6,103.3 L1479.1,104.6 L1480.6,105.9 L1482.1,107.3 L1483.5,108.7 L1484.9,110.1 L1486.2,111.6 L1487.6,113.0 L1488.9,114.5 L1490.2,116.1 L1491.4,117.6 L1492.6,119.2 L1493.8,120.8 L1495.0,122.4 L1496.1,124.1 L1497.2,125.7 L1498.3,127.4 L1499.4,129.0 L1500.6,130.6 L1501.8,132.2 L1503.0,133.8 L1504.2,135.4 L1505.4,137.0 L1506.6,138.6 L1507.9,140.1 L1509.1,141.7 L1510.3,143.3 L1511.5,144.9 L1512.7,146.5 L1513.9,148.1 L1515.0,149.8 L1516.1,151.4 L1517.2,153.1 L1518.3,154.8 L1519.4,156.5 L1520.4,158.2 L1521.4,159.9 L1522.4,161.6 L1523.4,163.4 L1524.3,165.2 L1525.2,167.0 L1526.0,168.8 L1526.9,170.6 L1527.6,172.4 L1528.3,174.3 L1529.0,176.2 L1529.7,178.0 L1530.2,179.9 L1530.8,181.9 L1531.2,183.8 L1531.7,185.7 L1532.1,187.7 L1532.5,189.7 L1532.8,191.6 L1533.2,193.6 L1533.4,195.6 L1533.7,197.5 L1533.9,199.5 L1534.1,201.5 L1534.2,203.5 L1534.2,205.5 L1534.2,207.5 L1534.1,209.5 L1533.9,211.4 L1533.7,213.4 L1533.4,215.4 L1533.1,217.3 L1532.7,219.3 L1532.2,221.2 L1531.7,223.1 L1531.1,225.0 L1530.4,226.9 L1529.8,228.8 L1529.1,230.6 L1528.3,232.5 L1527.6,234.4 L1526.8,236.2 L1526.0,238.0 L1525.2,239.9 L1524.3,241.6 L1523.4,243.4 L1522.4,245.1 L1521.4,246.8 L1520.3,248.4 L1519.1,250.0 L1517.9,251.5 L1516.5,252.9 L1515.1,254.3 L1513.7,255.6 L1512.1,256.8 L1510.5,257.9 L1508.9,258.9 L1507.2,259.9 L1505.4,260.7 L1503.6,261.5 L1501.7,262.2 L1499.9,262.9 L1498.0,263.5 L1496.1,264.1 L1494.2,264.7 L1492.3,265.3 L1490.4,265.9 L1488.4,266.5 L1486.5,267.0 L1484.6,267.6 L1482.7,268.1 L1480.8,268.5 L1478.9,268.9 L1477.0,269.2 L1475.0,269.3 L1473.1,269.4 L1471.2,269.3 L1469.2,269.1 L1467.3,268.8 L1465.4,268.4 L1463.5,268.0 L1461.5,267.5 L1459.6,267.0 L1457.6,266.5 L1455.7,266.0 L1453.8,265.5 L1451.8,265.0 L1449.9,264.5 L1448.0,263.9 L1446.0,263.4 L1444.1,262.9 L1442.2,262.3 L1440.3,261.7 L1438.5,261.0 L1436.7,260.3 L1434.9,259.5 L1433.2,258.6 L1431.5,257.6 L1429.9,256.5 L1428.3,255.3 L1426.8,254.1 L1425.4,252.7 L1424.0,251.3 L1422.7,249.9 L1421.4,248.4 L1420.2,246.8 L1419.0,245.2 L1417.9,243.6 L1416.8,241.9 L1415.7,240.2 L1414.7,238.5 L1413.8,236.7 L1412.8,235.0 L1411.8,233.2 L1410.9,231.5 L1410.0,229.7 L1409.1,227.9 L1408.2,226.1 L1407.3,224.3 L1406.4,222.5 L1405.5,220.7 L1404.7,218.9 L1403.9,217.1 L1403.1,215.3 L1402.3,213.4 L1401.6,211.5 L1400.9,209.7 L1400.3,207.8 L1399.7,205.9 L1399.2,204.0 L1398.7,202.0 L1398.2,200.1 L1397.7,198.1 L1397.3,196.2 L1396.8,194.2 L1396.4,192.3 L1395.9,190.4 L1395.4,188.4 L1394.9,186.5 L1394.3,184.6 L1393.6,182.7 L1392.9,180.9 L1392.2,179.1 L1391.4,177.3 L1390.6,175.5 L1389.8,173.7 L1389.1,171.9 L1388.4,170.0 L1387.8,168.2 L1387.3,166.3 L1386.9,164.4 L1386.6,162.4 L1386.3,160.5 L1386.0,158.5 L1385.8,156.5 L1385.6,154.5 L1385.4,152.5 L1385.3,150.5 L1385.1,148.5 L1385.0,146.6 L1384.9,144.6 L1384.9,142.6 L1384.9,140.6 L1385.0,138.6 L1385.2,136.7 L1385.4,134.7 L1385.8,132.8 L1386.3,130.9 L1386.9,129.1 L1387.6,127.2 L1388.4,125.5 L1389.3,123.7 L1390.4,122.1 L1391.5,120.4 L1392.6,118.9 L1393.9,117.4 L1395.2,115.9 L1396.6,114.4 L1398.0,113.0 L1399.4,111.6 L1400.8,110.2 L1402.3,108.9 L1403.8,107.5 L1405.3,106.2 L1406.8,105.0 L1408.4,103.7 L1410.0,102.6 L1411.6,101.5 L1413.3,100.5 L1415.0,99.6 L1416.8,98.7 L1418.6,98.0 L1420.4,97.3 L1422.3,96.7 L1424.2,96.2 L1426.2,95.8 L1428.1,95.5 L1430.1,95.2 L1432.0,95.0 L1434.0,94.9 L1436.0,94.8 L1438.0,94.7 L1440.0,94.7Z" fill="#00e48c"/>
<path d="M1442.0,95.5 L1444.0,95.5 L1446.0,95.6 L1448.0,95.6 L1450.0,95.7 L1452.0,95.8 L1454.0,95.9 L1456.0,96.1 L1457.9,96.3 L1459.9,96.6 L1461.8,97.0 L1463.7,97.5 L1465.6,98.1 L1467.5,98.7 L1469.2,99.5 L1471.0,100.4 L1472.7,101.3 L1474.3,102.4 L1475.8,103.6 L1477.4,104.8 L1478.8,106.2 L1480.3,107.5 L1481.6,109.0 L1483.0,110.4 L1484.3,111.9 L1485.6,113.4 L1486.9,114.9 L1488.1,116.5 L1489.3,118.1 L1490.4,119.8 L1491.5,121.4 L1492.5,123.1 L1493.5,124.9 L1494.5,126.6 L1495.4,128.4 L1496.4,130.1 L1497.3,131.9 L1498.3,133.6 L1499.3,135.4 L1500.3,137.1 L1501.3,138.8 L1502.3,140.6 L1503.3,142.3 L1504.3,144.1 L1505.2,145.8 L1506.2,147.6 L1507.2,149.3 L1508.1,151.1 L1509.1,152.9 L1510.0,154.6 L1510.9,156.4 L1511.9,158.2 L1512.8,160.0 L1513.7,161.8 L1514.6,163.5 L1515.5,165.3 L1516.3,167.2 L1517.1,169.0 L1517.9,170.8 L1518.7,172.7 L1519.3,174.5 L1520.0,176.4 L1520.5,178.3 L1521.0,180.2 L1521.3,182.2 L1521.6,184.1 L1521.9,186.1 L1522.0,188.1 L1522.1,190.1 L1522.2,192.1 L1522.2,194.1 L1522.2,196.1 L1522.2,198.1 L1522.1,200.1 L1522.0,202.1 L1521.8,204.1 L1521.7,206.0 L1521.4,208.0 L1521.1,210.0 L1520.8,212.0 L1520.4,213.9 L1519.9,215.8 L1519.4,217.8 L1518.8,219.7 L1518.2,221.6 L1517.5,223.4 L1516.8,225.3 L1516.0,227.1 L1515.1,228.9 L1514.2,230.7 L1513.2,232.4 L1512.2,234.1 L1511.1,235.7 L1509.9,237.3 L1508.6,238.8 L1507.3,240.2 L1505.9,241.6 L1504.4,242.9 L1502.9,244.2 L1501.3,245.3 L1499.7,246.4 L1498.0,247.4 L1496.3,248.2 L1494.5,248.9 L1492.7,249.6 L1490.8,250.1 L1488.9,250.5 L1487.0,250.9 L1485.0,251.2 L1483.0,251.4 L1481.1,251.7 L1479.1,251.9 L1477.1,252.1 L1475.1,252.3 L1473.1,252.4 L1471.1,252.5 L1469.1,252.6 L1467.1,252.6 L1465.1,252.5 L1463.1,252.4 L1461.1,252.3 L1459.1,252.1 L1457.2,251.9 L1455.2,251.7 L1453.2,251.5 L1451.2,251.2 L1449.2,250.9 L1447.3,250.6 L1445.4,250.2 L1443.5,249.7 L1441.7,249.1 L1439.9,248.3 L1438.2,247.5 L1436.6,246.5 L1435.0,245.4 L1433.4,244.2 L1431.9,242.9 L1430.5,241.6 L1429.1,240.2 L1427.7,238.7 L1426.4,237.3 L1425.1,235.7 L1423.9,234.2 L1422.6,232.6 L1421.4,231.0 L1420.3,229.4 L1419.2,227.7 L1418.0,226.0 L1417.0,224.4 L1415.9,222.7 L1414.9,220.9 L1413.9,219.2 L1412.9,217.5 L1412.0,215.7 L1411.1,213.9 L1410.3,212.1 L1409.4,210.3 L1408.7,208.4 L1408.0,206.6 L1407.3,204.7 L1406.6,202.8 L1406.0,200.9 L1405.3,199.0 L1404.7,197.1 L1404.1,195.2 L1403.5,193.3 L1402.9,191.4 L1402.3,189.5 L1401.7,187.6 L1401.1,185.7 L1400.4,183.9 L1399.6,182.0 L1398.8,180.3 L1397.9,178.5 L1397.0,176.8 L1396.1,175.1 L1395.1,173.4 L1394.3,171.6 L1393.5,169.9 L1392.8,168.1 L1392.3,166.2 L1391.8,164.3 L1391.4,162.4 L1391.1,160.5 L1390.9,158.5 L1390.6,156.5 L1390.4,154.5 L1390.2,152.5 L1390.1,150.5 L1389.9,148.6 L1389.8,146.6 L1389.6,144.6 L1389.6,142.6 L1389.6,140.6 L1389.6,138.6 L1389.7,136.6 L1390.0,134.7 L1390.3,132.8 L1390.7,130.9 L1391.3,129.0 L1392.0,127.2 L1392.8,125.4 L1393.7,123.7 L1394.6,121.9 L1395.7,120.3 L1396.8,118.6 L1398.0,117.0 L1399.2,115.5 L1400.5,113.9 L1401.8,112.4 L1403.1,110.9 L1404.5,109.5 L1405.9,108.1 L1407.3,106.7 L1408.8,105.4 L1410.3,104.1 L1411.9,102.9 L1413.5,101.8 L1415.1,100.8 L1416.9,99.9 L1418.6,99.1 L1420.5,98.3 L1422.3,97.7 L1424.2,97.2 L1426.1,96.8 L1428.1,96.4 L1430.0,96.2 L1432.0,96.0 L1434.0,95.8 L1436.0,95.7 L1438.0,95.6 L1440.0,95.6Z" fill="#00e428"/>
<path d="M1442.5,98.0 L1444.5,97.9 L1446.5,98.0 L1448.5,98.0 L1450.5,98.1 L1452.5,98.2 L1454.4,98.4 L1456.4,98.7 L1458.4,99.0 L1460.3,99.4 L1462.2,99.9 L1464.0,100.5 L1465.8,101.2 L1467.6,102.1 L1469.3,103.0 L1470.9,104.1 L1472.5,105.2 L1474.1,106.4 L1475.6,107.7 L1477.0,109.0 L1478.5,110.4 L1479.8,111.9 L1481.2,113.3 L1482.5,114.8 L1483.7,116.4 L1484.9,118.0 L1486.0,119.6 L1487.1,121.3 L1488.1,123.0 L1489.1,124.7 L1490.1,126.5 L1491.0,128.2 L1492.0,130.0 L1492.9,131.7 L1493.9,133.5 L1494.9,135.2 L1495.8,137.0 L1496.8,138.7 L1497.7,140.5 L1498.6,142.3 L1499.6,144.1 L1500.5,145.8 L1501.3,147.6 L1502.2,149.4 L1503.1,151.2 L1503.9,153.0 L1504.8,154.9 L1505.6,156.7 L1506.4,158.5 L1507.2,160.3 L1507.9,162.2 L1508.7,164.0 L1509.3,165.9 L1510.0,167.8 L1510.6,169.7 L1511.1,171.6 L1511.5,173.6 L1511.9,175.5 L1512.3,177.5 L1512.6,179.4 L1512.8,181.4 L1513.0,183.4 L1513.1,185.4 L1513.2,187.4 L1513.2,189.3 L1513.1,191.3 L1513.0,193.3 L1512.8,195.3 L1512.6,197.3 L1512.3,199.3 L1512.0,201.2 L1511.6,203.2 L1511.2,205.1 L1510.7,207.0 L1510.1,208.9 L1509.5,210.8 L1508.8,212.7 L1508.1,214.5 L1507.2,216.3 L1506.4,218.1 L1505.4,219.8 L1504.4,221.5 L1503.3,223.2 L1502.2,224.7 L1500.9,226.2 L1499.6,227.7 L1498.1,229.0 L1496.7,230.3 L1495.1,231.4 L1493.4,232.4 L1491.7,233.4 L1490.0,234.2 L1488.1,234.9 L1486.3,235.5 L1484.4,236.0 L1482.5,236.4 L1480.5,236.8 L1478.5,237.1 L1476.6,237.4 L1474.6,237.6 L1472.6,237.8 L1470.6,237.9 L1468.6,238.0 L1466.6,238.0 L1464.7,238.0 L1462.7,237.9 L1460.7,237.8 L1458.7,237.7 L1456.7,237.5 L1454.7,237.2 L1452.8,236.9 L1450.8,236.6 L1448.9,236.2 L1447.0,235.7 L1445.1,235.1 L1443.2,234.5 L1441.4,233.7 L1439.7,232.9 L1437.9,231.9 L1436.2,230.9 L1434.6,229.8 L1433.0,228.6 L1431.5,227.4 L1430.0,226.1 L1428.5,224.8 L1427.1,223.4 L1425.7,222.0 L1424.4,220.5 L1423.1,218.9 L1421.9,217.4 L1420.7,215.8 L1419.5,214.2 L1418.4,212.5 L1417.3,210.9 L1416.2,209.2 L1415.1,207.5 L1414.1,205.8 L1413.1,204.1 L1412.1,202.3 L1411.3,200.6 L1410.4,198.8 L1409.6,196.9 L1408.8,195.1 L1408.1,193.2 L1407.3,191.4 L1406.6,189.5 L1406.0,187.6 L1405.3,185.8 L1404.6,183.9 L1403.9,182.0 L1403.3,180.1 L1402.6,178.2 L1401.9,176.4 L1401.2,174.5 L1400.5,172.6 L1399.8,170.8 L1399.1,168.9 L1398.4,167.1 L1397.7,165.2 L1397.1,163.3 L1396.6,161.4 L1396.1,159.5 L1395.7,157.6 L1395.3,155.6 L1395.0,153.7 L1394.8,151.7 L1394.6,149.7 L1394.5,147.7 L1394.3,145.7 L1394.3,143.7 L1394.3,141.7 L1394.3,139.8 L1394.4,137.8 L1394.6,135.8 L1394.9,133.9 L1395.3,132.0 L1395.8,130.1 L1396.4,128.2 L1397.1,126.4 L1397.9,124.6 L1398.8,122.8 L1399.8,121.1 L1400.8,119.4 L1401.9,117.8 L1403.1,116.2 L1404.3,114.6 L1405.6,113.1 L1406.9,111.6 L1408.3,110.2 L1409.7,108.8 L1411.2,107.5 L1412.7,106.2 L1414.3,105.1 L1415.9,104.0 L1417.6,103.0 L1419.3,102.1 L1421.1,101.3 L1422.9,100.6 L1424.8,100.0 L1426.7,99.5 L1428.6,99.1 L1430.6,98.8 L1432.6,98.5 L1434.5,98.3 L1436.5,98.2 L1438.5,98.1 L1440.5,98.0Z" fill="#00e400"/>
<path d="M1443.0,100.4 L1445.0,100.4 L1447.0,100.4 L1449.0,100.5 L1451.0,100.6 L1452.9,100.7 L1454.9,101.0 L1456.8,101.3 L1458.7,101.7 L1460.5,102.2 L1462.3,102.9 L1464.1,103.7 L1465.8,104.6 L1467.5,105.6 L1469.1,106.7 L1470.7,107.9 L1472.2,109.1 L1473.7,110.4 L1475.2,111.7 L1476.5,113.2 L1477.9,114.6 L1479.1,116.1 L1480.3,117.7 L1481.5,119.3 L1482.6,121.0 L1483.6,122.7 L1484.6,124.4 L1485.6,126.2 L1486.5,127.9 L1487.5,129.7 L1488.4,131.5 L1489.3,133.2 L1490.2,135.0 L1491.1,136.8 L1492.0,138.6 L1492.9,140.4 L1493.7,142.2 L1494.5,144.1 L1495.3,145.9 L1496.0,147.8 L1496.8,149.6 L1497.5,151.5 L1498.2,153.4 L1498.9,155.2 L1499.6,157.1 L1500.2,159.0 L1500.7,160.9 L1501.3,162.9 L1501.8,164.8 L1502.2,166.7 L1502.6,168.7 L1503.0,170.7 L1503.3,172.6 L1503.6,174.6 L1503.9,176.6 L1504.0,178.5 L1504.1,180.5 L1504.1,182.5 L1504.0,184.4 L1503.8,186.4 L1503.6,188.4 L1503.3,190.3 L1502.9,192.3 L1502.5,194.2 L1502.0,196.2 L1501.5,198.1 L1500.8,199.9 L1500.1,201.8 L1499.4,203.6 L1498.6,205.4 L1497.7,207.2 L1496.7,208.9 L1495.7,210.5 L1494.5,212.1 L1493.3,213.6 L1492.0,215.0 L1490.6,216.3 L1489.1,217.4 L1487.5,218.4 L1485.8,219.3 L1484.0,220.1 L1482.2,220.8 L1480.4,221.3 L1478.5,221.8 L1476.5,222.2 L1474.6,222.6 L1472.6,222.9 L1470.7,223.2 L1468.7,223.4 L1466.7,223.5 L1464.7,223.6 L1462.8,223.6 L1460.8,223.5 L1458.8,223.3 L1456.8,223.1 L1454.9,222.9 L1452.9,222.5 L1451.0,222.1 L1449.1,221.7 L1447.2,221.1 L1445.4,220.5 L1443.5,219.7 L1441.8,218.9 L1440.0,218.0 L1438.3,217.0 L1436.6,216.0 L1434.9,214.9 L1433.3,213.8 L1431.6,212.7 L1430.1,211.5 L1428.5,210.2 L1427.1,208.9 L1425.7,207.5 L1424.3,206.1 L1423.0,204.6 L1421.7,203.1 L1420.4,201.5 L1419.2,200.0 L1418.0,198.4 L1416.9,196.7 L1415.7,195.1 L1414.7,193.4 L1413.6,191.7 L1412.6,190.0 L1411.7,188.2 L1410.8,186.5 L1410.0,184.7 L1409.1,182.8 L1408.3,181.0 L1407.5,179.2 L1406.8,177.3 L1406.0,175.5 L1405.3,173.6 L1404.6,171.7 L1404.0,169.8 L1403.4,167.9 L1402.8,166.0 L1402.3,164.1 L1401.8,162.2 L1401.4,160.2 L1400.9,158.3 L1400.5,156.3 L1400.1,154.3 L1399.8,152.4 L1399.5,150.4 L1399.2,148.4 L1399.0,146.4 L1398.8,144.5 L1398.7,142.5 L1398.7,140.5 L1398.8,138.5 L1399.0,136.6 L1399.3,134.6 L1399.7,132.7 L1400.2,130.8 L1400.8,128.9 L1401.4,127.1 L1402.2,125.3 L1403.1,123.5 L1404.0,121.8 L1405.0,120.1 L1406.1,118.4 L1407.2,116.7 L1408.3,115.1 L1409.5,113.6 L1410.8,112.1 L1412.2,110.7 L1413.6,109.4 L1415.2,108.2 L1416.7,107.1 L1418.4,106.0 L1420.1,105.0 L1421.8,104.2 L1423.6,103.4 L1425.4,102.7 L1427.3,102.2 L1429.2,101.7 L1431.1,101.3 L1433.1,101.0 L1435.0,100.8 L1437.0,100.6 L1439.0,100.5 L1441.0,100.4Z" fill="#82e400"/>
<path d="M1443.0,102.3 L1445.0,102.3 L1447.0,102.3 L1449.0,102.4 L1450.9,102.6 L1452.9,102.9 L1454.8,103.2 L1456.7,103.7 L1458.6,104.3 L1460.4,105.0 L1462.1,105.8 L1463.9,106.7 L1465.5,107.7 L1467.1,108.8 L1468.7,110.0 L1470.2,111.3 L1471.6,112.6 L1473.0,114.1 L1474.2,115.6 L1475.5,117.1 L1476.6,118.7 L1477.7,120.4 L1478.7,122.1 L1479.6,123.9 L1480.5,125.6 L1481.4,127.4 L1482.1,129.3 L1482.9,131.1 L1483.5,133.0 L1484.2,134.9 L1484.8,136.8 L1485.4,138.7 L1486.0,140.6 L1486.6,142.5 L1487.2,144.4 L1487.9,146.3 L1488.6,148.2 L1489.3,150.0 L1490.0,151.9 L1490.6,153.8 L1491.3,155.7 L1491.9,157.6 L1492.4,159.5 L1492.8,161.4 L1493.2,163.3 L1493.5,165.3 L1493.7,167.3 L1493.9,169.2 L1494.0,171.2 L1494.1,173.2 L1494.2,175.2 L1494.1,177.2 L1494.1,179.2 L1493.9,181.2 L1493.7,183.1 L1493.4,185.1 L1493.0,187.0 L1492.6,188.9 L1492.0,190.7 L1491.3,192.5 L1490.4,194.2 L1489.4,195.8 L1488.3,197.3 L1487.1,198.8 L1485.7,200.1 L1484.3,201.4 L1482.8,202.6 L1481.2,203.7 L1479.5,204.6 L1477.8,205.5 L1476.0,206.2 L1474.1,206.9 L1472.3,207.5 L1470.4,208.0 L1468.4,208.4 L1466.5,208.7 L1464.5,209.0 L1462.6,209.1 L1460.6,209.2 L1458.7,209.2 L1456.7,209.0 L1454.7,208.8 L1452.8,208.6 L1450.8,208.2 L1448.9,207.8 L1447.0,207.3 L1445.1,206.7 L1443.2,206.0 L1441.4,205.3 L1439.6,204.5 L1437.9,203.6 L1436.2,202.6 L1434.5,201.6 L1432.8,200.4 L1431.3,199.3 L1429.7,198.0 L1428.3,196.7 L1426.9,195.3 L1425.5,193.9 L1424.3,192.4 L1423.0,190.8 L1421.8,189.3 L1420.6,187.6 L1419.5,186.0 L1418.4,184.4 L1417.3,182.7 L1416.2,181.0 L1415.2,179.3 L1414.3,177.5 L1413.3,175.8 L1412.4,174.0 L1411.6,172.2 L1410.7,170.3 L1409.9,168.5 L1409.2,166.7 L1408.4,164.8 L1407.8,162.9 L1407.1,161.1 L1406.6,159.2 L1406.1,157.2 L1405.6,155.3 L1405.2,153.3 L1404.9,151.4 L1404.6,149.4 L1404.3,147.4 L1404.1,145.5 L1403.9,143.5 L1403.7,141.5 L1403.7,139.5 L1403.7,137.5 L1403.8,135.6 L1404.0,133.6 L1404.3,131.7 L1404.7,129.8 L1405.3,128.0 L1405.9,126.1 L1406.7,124.4 L1407.6,122.6 L1408.6,120.9 L1409.6,119.2 L1410.7,117.6 L1411.9,116.0 L1413.1,114.5 L1414.4,113.0 L1415.8,111.6 L1417.2,110.4 L1418.8,109.2 L1420.4,108.1 L1422.1,107.1 L1423.8,106.3 L1425.6,105.5 L1427.4,104.8 L1429.3,104.2 L1431.2,103.7 L1433.1,103.3 L1435.1,102.9 L1437.1,102.7 L1439.0,102.5 L1441.0,102.3Z" fill="#e4e400"/>
<path d="M1443.0,104.8 L1445.0,104.8 L1447.0,104.9 L1449.0,105.1 L1450.9,105.4 L1452.9,105.7 L1454.8,106.1 L1456.7,106.7 L1458.5,107.3 L1460.3,108.1 L1462.0,109.0 L1463.6,110.0 L1465.2,111.2 L1466.6,112.5 L1468.0,113.9 L1469.2,115.3 L1470.4,116.9 L1471.5,118.6 L1472.5,120.3 L1473.5,122.0 L1474.4,123.8 L1475.3,125.6 L1476.1,127.4 L1477.0,129.2 L1477.8,131.0 L1478.6,132.9 L1479.3,134.7 L1480.1,136.6 L1480.8,138.5 L1481.4,140.4 L1481.9,142.3 L1482.4,144.2 L1482.9,146.2 L1483.3,148.1 L1483.7,150.1 L1484.0,152.1 L1484.3,154.0 L1484.5,156.0 L1484.7,158.0 L1484.8,160.0 L1484.8,162.0 L1484.8,164.0 L1484.7,166.0 L1484.5,168.0 L1484.3,169.9 L1484.0,171.9 L1483.6,173.9 L1483.2,175.8 L1482.7,177.7 L1482.1,179.6 L1481.5,181.5 L1480.8,183.3 L1479.9,185.0 L1479.0,186.6 L1477.9,188.1 L1476.6,189.4 L1475.2,190.6 L1473.7,191.7 L1472.1,192.6 L1470.3,193.4 L1468.5,194.0 L1466.6,194.5 L1464.7,194.8 L1462.8,195.1 L1460.8,195.2 L1458.9,195.2 L1456.9,195.1 L1454.9,194.9 L1453.0,194.6 L1451.0,194.3 L1449.1,193.9 L1447.1,193.4 L1445.2,192.8 L1443.3,192.2 L1441.5,191.5 L1439.7,190.7 L1437.9,189.8 L1436.2,188.8 L1434.6,187.7 L1433.0,186.5 L1431.5,185.3 L1430.0,184.0 L1428.5,182.6 L1427.1,181.2 L1425.8,179.7 L1424.4,178.2 L1423.1,176.7 L1421.9,175.2 L1420.7,173.6 L1419.5,171.9 L1418.4,170.3 L1417.4,168.6 L1416.4,166.9 L1415.4,165.1 L1414.5,163.4 L1413.7,161.5 L1413.0,159.7 L1412.4,157.8 L1411.9,155.9 L1411.4,154.0 L1411.1,152.0 L1410.7,150.1 L1410.4,148.1 L1410.2,146.1 L1410.0,144.1 L1409.9,142.1 L1409.8,140.1 L1409.8,138.2 L1409.9,136.2 L1410.1,134.2 L1410.3,132.3 L1410.7,130.3 L1411.2,128.4 L1411.8,126.6 L1412.5,124.7 L1413.3,122.9 L1414.2,121.2 L1415.2,119.4 L1416.2,117.8 L1417.3,116.1 L1418.5,114.6 L1419.8,113.1 L1421.2,111.8 L1422.6,110.6 L1424.2,109.5 L1425.9,108.5 L1427.6,107.7 L1429.4,107.0 L1431.3,106.4 L1433.2,105.9 L1435.1,105.5 L1437.1,105.2 L1439.0,105.0 L1441.0,104.8Z" fill="#e4b900"/>
<path d="M1444.0,107.3 L1446.0,107.4 L1448.0,107.5 L1450.0,107.7 L1451.9,108.0 L1453.8,108.5 L1455.6,109.1 L1457.4,109.9 L1459.0,110.9 L1460.5,112.1 L1461.9,113.4 L1463.1,114.9 L1464.3,116.5 L1465.4,118.2 L1466.4,119.9 L1467.4,121.6 L1468.4,123.4 L1469.4,125.1 L1470.3,126.9 L1471.2,128.7 L1472.0,130.6 L1472.7,132.4 L1473.4,134.3 L1474.1,136.2 L1474.7,138.1 L1475.3,140.1 L1475.8,142.0 L1476.2,144.0 L1476.5,145.9 L1476.8,147.9 L1477.0,149.9 L1477.1,151.9 L1477.1,153.9 L1477.1,155.9 L1477.0,157.9 L1476.8,159.9 L1476.5,161.8 L1476.1,163.8 L1475.5,165.6 L1474.8,167.4 L1473.9,169.1 L1472.9,170.7 L1471.7,172.2 L1470.3,173.6 L1468.8,174.9 L1467.3,176.0 L1465.6,177.0 L1463.8,177.8 L1462.0,178.5 L1460.1,179.0 L1458.2,179.3 L1456.3,179.4 L1454.3,179.4 L1452.4,179.3 L1450.4,179.0 L1448.4,178.6 L1446.5,178.1 L1444.6,177.5 L1442.8,176.8 L1440.9,176.1 L1439.1,175.2 L1437.3,174.3 L1435.6,173.3 L1433.9,172.2 L1432.3,171.1 L1430.7,169.9 L1429.1,168.6 L1427.7,167.2 L1426.3,165.8 L1424.9,164.4 L1423.7,162.8 L1422.6,161.2 L1421.5,159.6 L1420.7,157.8 L1420.0,156.0 L1419.3,154.1 L1418.8,152.2 L1418.3,150.3 L1417.9,148.3 L1417.6,146.3 L1417.3,144.3 L1417.1,142.3 L1416.9,140.3 L1416.8,138.3 L1416.7,136.3 L1416.7,134.3 L1416.8,132.4 L1417.0,130.4 L1417.4,128.5 L1417.9,126.6 L1418.5,124.7 L1419.2,122.8 L1420.0,121.0 L1421.0,119.3 L1422.0,117.6 L1423.1,115.9 L1424.3,114.4 L1425.7,113.1 L1427.1,111.9 L1428.7,110.8 L1430.5,109.9 L1432.3,109.2 L1434.2,108.6 L1436.1,108.2 L1438.0,107.8 L1440.0,107.6 L1442.0,107.4Z" fill="#e44800"/>
<path d="M1444.0,114.6 L1446.0,114.6 L1447.9,114.9 L1449.8,115.4 L1451.7,116.0 L1453.4,116.9 L1455.0,117.9 L1456.5,119.2 L1457.8,120.6 L1458.9,122.2 L1459.9,123.9 L1460.7,125.7 L1461.5,127.5 L1462.2,129.4 L1462.9,131.3 L1463.5,133.2 L1464.0,135.1 L1464.4,137.1 L1464.8,139.0 L1464.9,141.0 L1465.0,142.9 L1464.9,144.9 L1464.6,146.8 L1464.1,148.7 L1463.4,150.4 L1462.4,152.0 L1461.1,153.5 L1459.7,154.8 L1458.2,156.0 L1456.5,156.9 L1454.7,157.6 L1452.8,158.1 L1450.9,158.5 L1448.9,158.6 L1447.0,158.6 L1445.0,158.4 L1443.1,158.0 L1441.2,157.5 L1439.4,156.8 L1437.7,155.9 L1436.1,154.8 L1434.6,153.5 L1433.3,152.1 L1432.1,150.5 L1431.2,148.8 L1430.4,147.0 L1429.9,145.2 L1429.4,143.2 L1429.0,141.3 L1428.7,139.3 L1428.5,137.3 L1428.4,135.3 L1428.3,133.4 L1428.5,131.4 L1428.7,129.4 L1429.2,127.5 L1429.8,125.6 L1430.5,123.8 L1431.3,122.0 L1432.3,120.4 L1433.6,118.9 L1435.0,117.6 L1436.6,116.5 L1438.3,115.7 L1440.1,115.1 L1442.1,114.7Z" fill="#e40000"/>
<path d="M1490.5,46.5 L1490.0,48.0 L1490.1,49.9 L1490.8,51.5 L1492.3,52.6 L1494.1,53.4 L1496.0,54.1 L1497.9,54.7 L1499.9,55.3 L1501.8,55.8 L1503.8,56.4 L1505.7,56.9 L1507.6,57.4 L1509.6,58.0 L1511.5,58.6 L1513.4,59.2 L1515.3,59.8 L1517.2,60.5 L1519.1,61.1 L1521.0,61.8 L1523.0,62.4 L1524.9,63.0 L1526.8,63.7 L1528.7,64.3 L1530.6,64.9 L1532.5,65.6 L1534.4,66.2 L1536.3,66.8 L1538.3,67.4 L1540.2,68.0 L1542.1,68.5 L1544.1,68.9 L1546.1,69.3 L1548.1,69.6 L1550.0,70.0 L1552.0,70.3 L1554.0,70.6 L1556.0,70.9 L1558.0,71.2 L1560.0,71.5 L1562.0,71.8 L1564.0,72.0 L1566.0,72.3 L1568.0,72.5 L1570.0,72.6 L1572.0,72.4 L1574.0,72.2 L1575.9,71.9 L1577.9,71.5 L1579.9,71.1 L1581.5,70.2 L1583.0,68.9 L1584.4,67.5 L1585.8,66.0 L1586.8,64.4 L1587.4,62.5 L1587.9,60.5 L1588.2,58.6 L1587.9,56.7 L1587.4,54.8 L1587.0,52.8 L1587.1,50.8 L1587.4,48.9 L1587.3,47.1 L1586.4,46.2 L1584.6,46.0 L1582.6,46.0 L1580.6,46.0 L1578.6,46.0 L1576.6,46.0 L1574.6,46.0 L1572.6,46.0 L1570.5,46.0 L1568.5,46.0 L1566.5,46.0 L1564.5,46.0 L1562.5,46.0 L1560.5,46.0 L1558.5,46.0 L1556.4,46.0 L1554.4,46.0 L1552.4,46.0 L1550.4,46.0 L1548.4,46.0 L1546.4,46.0 L1544.4,46.0 L1542.3,46.0 L1540.3,46.0 L1538.3,46.0 L1536.3,46.0 L1534.3,46.0 L1532.3,46.0 L1530.3,46.0 L1528.3,46.0 L1526.2,46.0 L1524.2,46.0 L1522.2,46.0 L1520.2,46.0 L1518.2,46.0 L1516.2,46.0 L1514.2,46.0 L1512.1,46.0 L1510.1,46.0 L1508.1,46.0 L1506.1,46.0 L1504.1,46.0 L1502.1,46.0 L1500.1,46.0 L1498.1,46.0 L1496.0,46.0 L1494.0,46.0 L1492.0,46.0Z" fill="#0040e0"/>
<path d="M1490.9,46.5 L1490.3,48.0 L1490.3,49.9 L1491.0,51.4 L1492.6,52.4 L1494.4,53.2 L1496.3,53.9 L1498.2,54.5 L1500.1,55.0 L1502.1,55.6 L1504.0,56.1 L1505.9,56.7 L1507.9,57.2 L1509.8,57.8 L1511.7,58.3 L1513.6,59.0 L1515.5,59.6 L1517.5,60.2 L1519.4,60.9 L1521.3,61.5 L1523.2,62.2 L1525.1,62.8 L1527.0,63.5 L1528.9,64.1 L1530.8,64.7 L1532.7,65.3 L1534.6,65.9 L1536.5,66.6 L1538.5,67.2 L1540.4,67.7 L1542.3,68.2 L1544.3,68.6 L1546.3,69.0 L1548.3,69.4 L1550.2,69.8 L1552.2,70.2 L1554.2,70.6 L1556.1,70.9 L1558.1,71.0 L1560.1,71.0 L1562.2,70.9 L1564.2,70.8 L1566.2,70.7 L1568.2,70.6 L1570.1,70.3 L1572.0,69.7 L1573.9,68.9 L1575.7,68.2 L1577.6,67.3 L1579.1,66.3 L1580.3,64.7 L1581.3,63.0 L1582.2,61.2 L1582.5,59.3 L1582.6,57.3 L1582.6,55.3 L1582.7,53.3 L1582.9,51.3 L1583.1,49.3 L1583.2,47.5 L1582.5,46.3 L1580.9,46.0 L1578.9,46.0 L1576.9,46.0 L1574.8,46.0 L1572.8,46.0 L1570.8,46.0 L1568.8,46.0 L1566.8,46.0 L1564.8,46.0 L1562.8,46.0 L1560.8,46.0 L1558.8,46.0 L1556.8,46.0 L1554.7,46.0 L1552.7,46.0 L1550.7,46.0 L1548.7,46.0 L1546.7,46.0 L1544.7,46.0 L1542.7,46.0 L1540.7,46.0 L1538.7,46.0 L1536.6,46.0 L1534.6,46.0 L1532.6,46.0 L1530.6,46.0 L1528.6,46.0 L1526.6,46.0 L1524.6,46.0 L1522.6,46.0 L1520.6,46.0 L1518.5,46.0 L1516.5,46.0 L1514.5,46.0 L1512.5,46.0 L1510.5,46.0 L1508.5,46.0 L1506.5,46.0 L1504.5,46.0 L1502.5,46.0 L1500.5,46.0 L1498.4,46.0 L1496.4,46.0 L1494.4,46.0 L1492.4,46.0Z" fill="#00bee6"/>
<path d="M1491.2,46.5 L1490.5,48.0 L1490.4,49.8 L1491.2,51.2 L1492.8,52.2 L1494.6,53.0 L1496.5,53.7 L1498.5,54.3 L1500.4,54.8 L1502.3,55.4 L1504.3,55.9 L1506.2,56.4 L1508.1,57.0 L1510.1,57.5 L1512.0,58.1 L1513.9,58.8 L1515.8,59.4 L1517.7,60.0 L1519.6,60.7 L1521.6,61.3 L1523.5,62.0 L1525.4,62.6 L1527.3,63.3 L1529.2,63.9 L1531.1,64.5 L1533.0,65.1 L1534.9,65.7 L1536.9,66.4 L1538.8,67.0 L1540.7,67.5 L1542.7,67.9 L1544.7,68.2 L1546.7,68.5 L1548.7,68.7 L1550.7,68.8 L1552.7,68.9 L1554.7,69.0 L1556.7,69.1 L1558.7,69.3 L1560.7,69.3 L1562.7,69.0 L1564.7,68.6 L1566.6,68.1 L1568.6,67.7 L1570.5,67.2 L1572.4,66.5 L1574.0,65.3 L1575.5,64.1 L1577.0,62.7 L1578.1,61.2 L1578.5,59.3 L1578.7,57.3 L1578.9,55.3 L1579.1,53.3 L1579.4,51.3 L1579.6,49.3 L1579.7,47.5 L1579.0,46.3 L1577.4,46.0 L1575.4,46.0 L1573.4,46.0 L1571.4,46.0 L1569.3,46.0 L1567.3,46.0 L1565.3,46.0 L1563.3,46.0 L1561.3,46.0 L1559.3,46.0 L1557.3,46.0 L1555.2,46.0 L1553.2,46.0 L1551.2,46.0 L1549.2,46.0 L1547.2,46.0 L1545.2,46.0 L1543.2,46.0 L1541.1,46.0 L1539.1,46.0 L1537.1,46.0 L1535.1,46.0 L1533.1,46.0 L1531.1,46.0 L1529.1,46.0 L1527.0,46.0 L1525.0,46.0 L1523.0,46.0 L1521.0,46.0 L1519.0,46.0 L1517.0,46.0 L1515.0,46.0 L1513.0,46.0 L1510.9,46.0 L1508.9,46.0 L1506.9,46.0 L1504.9,46.0 L1502.9,46.0 L1500.9,46.0 L1498.9,46.0 L1496.8,46.0 L1494.8,46.0 L1492.8,46.0Z" fill="#00e4e4"/>
<path d="M1491.6,46.5 L1490.7,48.0 L1490.6,49.7 L1491.4,51.0 L1493.0,52.0 L1494.8,52.8 L1496.7,53.5 L1498.6,54.0 L1500.6,54.6 L1502.5,55.1 L1504.4,55.6 L1506.4,56.2 L1508.3,56.7 L1510.2,57.3 L1512.1,57.9 L1514.0,58.5 L1516.0,59.1 L1517.9,59.8 L1519.8,60.4 L1521.7,61.1 L1523.6,61.7 L1525.5,62.3 L1527.4,63.0 L1529.3,63.6 L1531.2,64.2 L1533.1,64.8 L1535.0,65.5 L1536.9,66.1 L1538.8,66.7 L1540.8,67.2 L1542.8,67.4 L1544.8,67.5 L1546.8,67.5 L1548.8,67.6 L1550.8,67.5 L1552.8,67.5 L1554.8,67.4 L1556.8,67.3 L1558.8,67.3 L1560.8,67.1 L1562.7,66.5 L1564.6,65.8 L1566.4,65.1 L1568.3,64.3 L1570.0,63.4 L1571.4,62.1 L1572.7,60.5 L1573.8,58.9 L1574.7,57.1 L1575.1,55.2 L1575.3,53.2 L1575.6,51.2 L1575.8,49.3 L1575.9,47.5 L1575.2,46.3 L1573.5,46.0 L1571.5,46.0 L1569.5,46.0 L1567.5,46.0 L1565.5,46.0 L1563.5,46.0 L1561.5,46.0 L1559.5,46.0 L1557.5,46.0 L1555.5,46.0 L1553.5,46.0 L1551.5,46.0 L1549.4,46.0 L1547.4,46.0 L1545.4,46.0 L1543.4,46.0 L1541.4,46.0 L1539.4,46.0 L1537.4,46.0 L1535.4,46.0 L1533.4,46.0 L1531.4,46.0 L1529.4,46.0 L1527.4,46.0 L1525.3,46.0 L1523.3,46.0 L1521.3,46.0 L1519.3,46.0 L1517.3,46.0 L1515.3,46.0 L1513.3,46.0 L1511.3,46.0 L1509.3,46.0 L1507.3,46.0 L1505.3,46.0 L1503.3,46.0 L1501.2,46.0 L1499.2,46.0 L1497.2,46.0 L1495.2,46.0 L1493.2,46.0Z" fill="#00e48c"/>
<path d="M1491.9,46.5 L1490.9,47.9 L1490.7,49.6 L1491.5,50.8 L1493.1,51.7 L1494.9,52.5 L1496.8,53.2 L1498.7,53.8 L1500.7,54.3 L1502.6,54.8 L1504.5,55.4 L1506.4,55.9 L1508.4,56.5 L1510.3,57.0 L1512.2,57.6 L1514.1,58.3 L1515.9,59.0 L1517.8,59.7 L1519.7,60.4 L1521.6,61.1 L1523.4,61.8 L1525.3,62.5 L1527.2,63.2 L1529.1,63.9 L1531.0,64.4 L1533.0,64.8 L1534.9,65.1 L1536.9,65.5 L1538.9,65.8 L1540.9,65.9 L1542.9,65.9 L1544.9,65.9 L1546.9,65.8 L1548.9,65.7 L1550.9,65.7 L1552.9,65.6 L1554.9,65.6 L1556.8,65.3 L1558.7,64.7 L1560.5,63.9 L1562.4,63.1 L1564.2,62.3 L1565.8,61.3 L1567.1,59.8 L1568.2,58.1 L1569.3,56.5 L1570.4,54.8 L1571.3,53.0 L1571.8,51.1 L1572.0,49.2 L1572.1,47.4 L1571.3,46.3 L1569.6,46.0 L1567.7,46.0 L1565.7,46.0 L1563.7,46.0 L1561.7,46.0 L1559.7,46.0 L1557.7,46.0 L1555.7,46.0 L1553.7,46.0 L1551.6,46.0 L1549.6,46.0 L1547.6,46.0 L1545.6,46.0 L1543.6,46.0 L1541.6,46.0 L1539.6,46.0 L1537.6,46.0 L1535.6,46.0 L1533.6,46.0 L1531.6,46.0 L1529.6,46.0 L1527.6,46.0 L1525.6,46.0 L1523.6,46.0 L1521.6,46.0 L1519.6,46.0 L1517.6,46.0 L1515.6,46.0 L1513.6,46.0 L1511.6,46.0 L1509.6,46.0 L1507.6,46.0 L1505.6,46.0 L1503.6,46.0 L1501.6,46.0 L1499.6,46.0 L1497.6,46.0 L1495.6,46.0 L1493.6,46.0Z" fill="#00e428"/>
<path d="M1492.3,46.4 L1491.1,47.8 L1490.7,49.4 L1491.6,50.6 L1493.3,51.5 L1495.1,52.3 L1497.0,53.0 L1499.0,53.5 L1500.9,54.1 L1502.9,54.6 L1504.8,55.2 L1506.8,55.7 L1508.7,56.2 L1510.6,56.8 L1512.5,57.5 L1514.4,58.2 L1516.3,59.0 L1518.2,59.7 L1520.0,60.5 L1521.9,61.2 L1523.8,62.0 L1525.7,62.7 L1527.6,63.3 L1529.6,63.6 L1531.6,63.8 L1533.6,64.0 L1535.6,64.2 L1537.6,64.4 L1539.6,64.5 L1541.6,64.5 L1543.7,64.5 L1545.7,64.4 L1547.7,64.3 L1549.7,64.2 L1551.7,64.1 L1553.7,64.0 L1555.7,63.5 L1557.5,62.7 L1559.3,61.8 L1561.1,60.9 L1562.8,60.0 L1564.3,58.7 L1565.5,57.1 L1566.6,55.4 L1567.5,53.6 L1568.1,51.7 L1568.5,49.8 L1568.7,47.9 L1568.3,46.4 L1566.7,46.0 L1564.7,46.0 L1562.7,46.0 L1560.7,46.0 L1558.7,46.0 L1556.6,46.0 L1554.6,46.0 L1552.6,46.0 L1550.6,46.0 L1548.6,46.0 L1546.5,46.0 L1544.5,46.0 L1542.5,46.0 L1540.5,46.0 L1538.5,46.0 L1536.4,46.0 L1534.4,46.0 L1532.4,46.0 L1530.4,46.0 L1528.4,46.0 L1526.3,46.0 L1524.3,46.0 L1522.3,46.0 L1520.3,46.0 L1518.3,46.0 L1516.2,46.0 L1514.2,46.0 L1512.2,46.0 L1510.2,46.0 L1508.2,46.0 L1506.1,46.0 L1504.1,46.0 L1502.1,46.0 L1500.1,46.0 L1498.1,46.0 L1496.0,46.0 L1494.0,46.0Z" fill="#00e400"/>
<path d="M1492.6,46.4 L1491.4,47.7 L1490.8,49.2 L1491.6,50.3 L1493.3,51.2 L1495.1,52.0 L1497.0,52.7 L1498.9,53.2 L1500.8,53.7 L1502.8,54.3 L1504.7,54.8 L1506.6,55.4 L1508.6,55.9 L1510.5,56.5 L1512.4,57.2 L1514.2,57.9 L1516.0,58.8 L1517.9,59.6 L1519.7,60.4 L1521.5,61.2 L1523.4,61.9 L1525.3,62.3 L1527.3,62.5 L1529.3,62.6 L1531.3,62.8 L1533.3,62.9 L1535.3,63.0 L1537.3,63.1 L1539.3,63.2 L1541.3,63.2 L1543.3,63.1 L1545.3,62.9 L1547.3,62.8 L1549.3,62.7 L1551.2,62.4 L1553.1,61.9 L1554.9,61.0 L1556.7,60.1 L1558.5,59.2 L1560.1,58.1 L1561.4,56.6 L1562.6,55.0 L1563.6,53.3 L1564.2,51.5 L1564.5,49.5 L1564.6,47.6 L1564.1,46.4 L1562.5,46.0 L1560.5,46.0 L1558.5,46.0 L1556.5,46.0 L1554.5,46.0 L1552.5,46.0 L1550.5,46.0 L1548.5,46.0 L1546.5,46.0 L1544.5,46.0 L1542.5,46.0 L1540.5,46.0 L1538.5,46.0 L1536.5,46.0 L1534.5,46.0 L1532.5,46.0 L1530.5,46.0 L1528.5,46.0 L1526.5,46.0 L1524.5,46.0 L1522.4,46.0 L1520.4,46.0 L1518.4,46.0 L1516.4,46.0 L1514.4,46.0 L1512.4,46.0 L1510.4,46.0 L1508.4,46.0 L1506.4,46.0 L1504.4,46.0 L1502.4,46.0 L1500.4,46.0 L1498.4,46.0 L1496.4,46.0 L1494.4,46.0Z" fill="#82e400"/>
<path d="M1493.0,46.4 L1491.6,47.6 L1490.9,49.0 L1491.7,50.1 L1493.3,51.0 L1495.2,51.8 L1497.1,52.4 L1499.0,52.9 L1501.0,53.5 L1502.9,54.0 L1504.9,54.6 L1506.8,55.1 L1508.8,55.7 L1510.7,56.3 L1512.5,57.1 L1514.3,58.0 L1516.1,58.9 L1517.9,59.9 L1519.7,60.7 L1521.7,61.2 L1523.7,61.5 L1525.7,61.7 L1527.7,62.0 L1529.7,62.2 L1531.7,62.3 L1533.7,62.4 L1535.7,62.4 L1537.8,62.5 L1539.8,62.4 L1541.8,62.3 L1543.8,62.1 L1545.8,61.9 L1547.8,61.7 L1549.8,61.3 L1551.6,60.6 L1553.4,59.6 L1555.1,58.6 L1556.7,57.4 L1558.0,55.9 L1559.1,54.3 L1559.9,52.5 L1560.4,50.5 L1560.6,48.5 L1560.5,46.9 L1559.3,46.1 L1557.5,46.0 L1555.5,46.0 L1553.4,46.0 L1551.4,46.0 L1549.4,46.0 L1547.4,46.0 L1545.3,46.0 L1543.3,46.0 L1541.3,46.0 L1539.3,46.0 L1537.3,46.0 L1535.2,46.0 L1533.2,46.0 L1531.2,46.0 L1529.2,46.0 L1527.2,46.0 L1525.1,46.0 L1523.1,46.0 L1521.1,46.0 L1519.1,46.0 L1517.1,46.0 L1515.0,46.0 L1513.0,46.0 L1511.0,46.0 L1509.0,46.0 L1506.9,46.0 L1504.9,46.0 L1502.9,46.0 L1500.9,46.0 L1498.9,46.0 L1496.8,46.0 L1494.8,46.0Z" fill="#e4e400"/>
<path d="M1493.3,46.3 L1491.8,47.4 L1491.0,48.7 L1491.6,49.7 L1493.2,50.6 L1495.0,51.5 L1496.9,52.3 L1498.7,53.0 L1500.6,53.8 L1502.4,54.6 L1504.3,55.4 L1506.1,56.2 L1508.0,56.9 L1509.8,57.7 L1511.7,58.5 L1513.5,59.2 L1515.5,59.6 L1517.4,59.9 L1519.4,60.2 L1521.4,60.5 L1523.4,60.7 L1525.4,60.8 L1527.4,60.9 L1529.4,61.0 L1531.4,61.1 L1533.4,61.1 L1535.4,61.0 L1537.4,60.9 L1539.4,60.7 L1541.4,60.5 L1543.4,60.1 L1545.3,59.6 L1547.1,58.8 L1548.9,57.9 L1550.6,57.0 L1552.0,55.6 L1553.2,54.0 L1554.0,52.2 L1554.4,50.3 L1554.6,48.4 L1554.5,46.8 L1553.2,46.1 L1551.3,46.0 L1549.3,46.0 L1547.3,46.0 L1545.3,46.0 L1543.3,46.0 L1541.3,46.0 L1539.3,46.0 L1537.3,46.0 L1535.3,46.0 L1533.3,46.0 L1531.3,46.0 L1529.3,46.0 L1527.3,46.0 L1525.3,46.0 L1523.3,46.0 L1521.3,46.0 L1519.3,46.0 L1517.3,46.0 L1515.3,46.0 L1513.2,46.0 L1511.2,46.0 L1509.2,46.0 L1507.2,46.0 L1505.2,46.0 L1503.2,46.0 L1501.2,46.0 L1499.2,46.0 L1497.2,46.0 L1495.2,46.0Z" fill="#e4b900"/>
<path d="M1493.7,46.3 L1492.1,47.2 L1491.1,48.4 L1491.6,49.4 L1493.2,50.3 L1495.0,51.1 L1496.8,52.0 L1498.6,52.8 L1500.5,53.6 L1502.3,54.4 L1504.2,55.2 L1506.0,56.0 L1507.9,56.8 L1509.8,57.4 L1511.7,57.8 L1513.7,58.2 L1515.7,58.6 L1517.7,58.9 L1519.7,59.1 L1521.7,59.2 L1523.7,59.3 L1525.7,59.4 L1527.7,59.5 L1529.7,59.5 L1531.7,59.4 L1533.7,59.2 L1535.7,59.0 L1537.7,58.8 L1539.7,58.5 L1541.6,57.9 L1543.4,57.2 L1545.3,56.4 L1547.0,55.4 L1548.5,54.2 L1549.7,52.7 L1550.3,50.9 L1550.6,48.9 L1550.5,47.2 L1549.6,46.2 L1547.9,46.0 L1545.9,46.0 L1543.9,46.0 L1541.9,46.0 L1539.8,46.0 L1537.8,46.0 L1535.8,46.0 L1533.8,46.0 L1531.8,46.0 L1529.8,46.0 L1527.8,46.0 L1525.8,46.0 L1523.8,46.0 L1521.7,46.0 L1519.7,46.0 L1517.7,46.0 L1515.7,46.0 L1513.7,46.0 L1511.7,46.0 L1509.7,46.0 L1507.7,46.0 L1505.7,46.0 L1503.7,46.0 L1501.6,46.0 L1499.6,46.0 L1497.6,46.0 L1495.6,46.0Z" fill="#e44800"/>
<path d="M1494.1,46.3 L1492.3,47.1 L1491.2,48.1 L1491.5,49.0 L1493.0,49.9 L1494.8,50.8 L1496.6,51.7 L1498.4,52.7 L1500.2,53.6 L1502.0,54.5 L1503.8,55.3 L1505.8,55.9 L1507.7,56.4 L1509.7,56.9 L1511.7,57.2 L1513.7,57.5 L1515.7,57.7 L1517.7,57.9 L1519.7,58.0 L1521.7,58.1 L1523.7,58.1 L1525.7,58.2 L1527.7,58.1 L1529.7,58.0 L1531.7,57.8 L1533.8,57.6 L1535.7,57.3 L1537.7,56.8 L1539.6,56.2 L1541.4,55.3 L1543.0,54.1 L1544.2,52.7 L1544.8,50.9 L1545.1,48.9 L1545.0,47.2 L1544.1,46.2 L1542.4,46.0 L1540.4,46.0 L1538.4,46.0 L1536.3,46.0 L1534.3,46.0 L1532.3,46.0 L1530.3,46.0 L1528.3,46.0 L1526.3,46.0 L1524.2,46.0 L1522.2,46.0 L1520.2,46.0 L1518.2,46.0 L1516.2,46.0 L1514.2,46.0 L1512.1,46.0 L1510.1,46.0 L1508.1,46.0 L1506.1,46.0 L1504.1,46.0 L1502.1,46.0 L1500.0,46.0 L1498.0,46.0 L1496.0,46.0Z" fill="#e40000"/>
<path d="M1364.0,46.5 L1363.6,48.0 L1363.7,50.0 L1363.7,52.0 L1363.9,54.0 L1364.2,56.0 L1364.8,57.8 L1365.9,59.4 L1367.4,60.5 L1369.2,61.0 L1371.2,61.1 L1373.2,61.0 L1375.2,60.7 L1377.1,60.3 L1379.1,59.9 L1381.1,59.5 L1383.0,59.0 L1385.0,58.5 L1386.9,58.1 L1388.9,57.6 L1390.8,57.1 L1392.7,56.6 L1394.7,56.1 L1396.6,55.7 L1398.6,55.1 L1400.5,54.6 L1402.4,54.0 L1403.9,53.1 L1404.7,51.5 L1405.2,49.5 L1405.5,47.7 L1405.1,46.4 L1403.6,46.0 L1401.6,46.0 L1399.6,46.0 L1397.6,46.0 L1395.6,46.0 L1393.6,46.0 L1391.6,46.0 L1389.6,46.0 L1387.6,46.0 L1385.6,46.0 L1383.6,46.0 L1381.5,46.0 L1379.5,46.0 L1377.5,46.0 L1375.5,46.0 L1373.5,46.0 L1371.5,46.0 L1369.5,46.0 L1367.5,46.0 L1365.5,46.0Z" fill="#0040e0"/>
<path d="M1366.0,46.5 L1365.6,48.1 L1365.6,50.1 L1365.7,52.1 L1365.9,54.1 L1366.4,56.0 L1367.4,57.7 L1368.9,58.9 L1370.7,59.7 L1372.7,59.9 L1374.7,59.9 L1376.7,59.8 L1378.7,59.6 L1380.7,59.2 L1382.7,58.8 L1384.7,58.4 L1386.7,57.9 L1388.7,57.5 L1390.7,57.0 L1392.6,56.5 L1394.6,55.9 L1396.6,55.4 L1398.5,54.8 L1400.0,53.8 L1400.7,52.1 L1401.2,50.1 L1401.5,48.2 L1401.4,46.6 L1400.0,46.1 L1398.1,46.0 L1396.0,46.0 L1394.0,46.0 L1392.0,46.0 L1389.9,46.0 L1387.9,46.0 L1385.9,46.0 L1383.8,46.0 L1381.8,46.0 L1379.7,46.0 L1377.7,46.0 L1375.7,46.0 L1373.6,46.0 L1371.6,46.0 L1369.6,46.0 L1367.6,46.0Z" fill="#00e4e4"/>
<path d="M1369.5,46.5 L1369.2,48.1 L1369.3,50.1 L1369.4,52.1 L1369.9,54.0 L1370.8,55.7 L1372.1,57.0 L1373.9,57.7 L1375.9,58.1 L1377.9,58.2 L1379.9,58.1 L1382.0,57.9 L1384.0,57.7 L1386.0,57.4 L1388.0,57.0 L1390.0,56.6 L1392.0,56.2 L1394.0,55.8 L1395.9,55.3 L1397.9,54.8 L1399.5,54.0 L1400.3,52.5 L1400.6,50.6 L1400.8,48.6 L1400.6,46.9 L1399.3,46.2 L1397.5,46.0 L1395.4,46.0 L1393.4,46.0 L1391.4,46.0 L1389.3,46.0 L1387.3,46.0 L1385.3,46.0 L1383.2,46.0 L1381.2,46.0 L1379.2,46.0 L1377.1,46.0 L1375.1,46.0 L1373.1,46.0 L1371.1,46.0Z" fill="#00e428"/>
<path d="M1374.5,46.5 L1374.1,48.1 L1374.1,50.1 L1374.3,52.1 L1374.8,53.9 L1376.2,55.2 L1378.0,55.9 L1380.0,56.2 L1382.1,56.2 L1384.1,56.2 L1386.2,56.0 L1388.2,55.7 L1390.2,55.4 L1392.2,55.0 L1393.9,54.2 L1394.8,52.6 L1395.2,50.7 L1395.5,48.7 L1395.5,47.0 L1394.4,46.2 L1392.5,46.0 L1390.5,46.0 L1388.4,46.0 L1386.3,46.0 L1384.3,46.0 L1382.2,46.0 L1380.2,46.0 L1378.1,46.0 L1376.1,46.0Z" fill="#e4e400"/>
<path d="M1379.5,46.5 L1379.1,48.1 L1379.1,50.1 L1379.3,52.0 L1380.2,53.5 L1381.8,54.5 L1383.7,54.9 L1385.7,55.0 L1387.7,55.0 L1389.8,54.8 L1391.7,54.5 L1393.4,53.7 L1394.4,52.3 L1394.7,50.4 L1394.8,48.4 L1394.5,46.7 L1393.2,46.1 L1391.2,46.0 L1389.2,46.0 L1387.2,46.0 L1385.1,46.0 L1383.1,46.0 L1381.1,46.0Z" fill="#e40000"/>
</g></g>
<path d="M1360,401.5 L1360,53 L1407,53 L1407,50.5 L1489,50.5 L1489,53 L1598,53 L1598,401.5" fill="none" stroke="#222" stroke-width="1"/>
<text x="1386.9" y="379.2" font-family="Liberation Serif, serif" font-size="38" fill="#fff" textLength="184" lengthAdjust="spacingAndGlyphs">1.940 N/mm</text><text x="1569" y="362.4" font-family="Liberation Serif, serif" font-size="23.5" fill="#fff">2</text>
<rect x="1761.5" y="15.5" width="134.5" height="22.5" fill="#fff" stroke="#ececec" stroke-width="1"/>
<path d="M1764.2,26.8 L1780.9,17.3 L1795.9,26.8 L1779.2,36.6Z" fill="#e6e6e6"/>
<path d="M1774.6,27.1 L1786.7,20.5 L1795.9,26.8 L1779.2,36.6Z" fill="#eeeeee"/>
<path d="M1777.5,26.6 L1786.1,22.2 L1789.0,23.7 L1780.3,28.1Z" fill="#e2e2e2"/>
<text x="1803.6" y="22.6" font-family="Liberation Sans, sans-serif" font-size="7" fill="#d6d6d6" textLength="26.7" lengthAdjust="spacingAndGlyphs">midas</text>
<text x="1803.6" y="35.1" font-family="Liberation Sans, sans-serif" font-size="15.4" fill="#d4d4d4" textLength="40.6" lengthAdjust="spacingAndGlyphs">GTS</text>
<text x="1849.2" y="35.1" font-family="Liberation Sans, sans-serif" font-weight="bold" font-size="23" fill="#cbcbcb" textLength="39" lengthAdjust="spacingAndGlyphs">NX</text>
<text x="1761" y="49.8" font-family="Liberation Sans, sans-serif" font-size="11" fill="#000" textLength="117" lengthAdjust="spacingAndGlyphs">PLANE STRAIN STRESS</text>
<text x="1761" y="61.6" font-family="Liberation Sans, sans-serif" font-size="11" fill="#000" textLength="76.5" lengthAdjust="spacingAndGlyphs">S-XX , N/mm^2</text>
<rect x="1760.5" y="73.60" width="16" height="24.55" fill="#ff0000"/>
<rect x="1760.5" y="98.15" width="16" height="24.55" fill="#ff5000"/>
<rect x="1760.5" y="122.70" width="16" height="24.55" fill="#ffc800"/>
<rect x="1760.5" y="147.25" width="16" height="24.55" fill="#ffff00"/>
<rect x="1760.5" y="171.80" width="16" height="24.55" fill="#96ff00"/>
<rect x="1760.5" y="196.35" width="16" height="24.55" fill="#00ff2a"/>
<rect x="1760.5" y="220.90" width="16" height="24.55" fill="#00ff00"/>
<rect x="1760.5" y="245.45" width="16" height="24.55" fill="#00ff9b"/>
<rect x="1760.5" y="270.00" width="16" height="24.55" fill="#00ffff"/>
<rect x="1760.5" y="294.55" width="16" height="24.55" fill="#00d2ff"/>
<rect x="1760.5" y="319.10" width="16" height="24.55" fill="#0048ff"/>
<rect x="1760.5" y="343.65" width="16" height="24.55" fill="#0000ff"/>
<line x1="1760.5" y1="73.60" x2="1776.5" y2="73.60" stroke="#000" stroke-width="1.2"/>
<line x1="1776.5" y1="73.60" x2="1807.5" y2="73.60" stroke="#aaa" stroke-width="1"/>
<text x="1808.0" y="77.60" font-family="Liberation Sans, sans-serif" font-size="11.3" fill="#000" textLength="83" lengthAdjust="spacingAndGlyphs">+1.94000e+000</text>
<line x1="1760.5" y1="98.15" x2="1776.5" y2="98.15" stroke="#000" stroke-width="1.2"/>
<line x1="1776.5" y1="98.15" x2="1807.5" y2="98.15" stroke="#aaa" stroke-width="1"/>
<text x="1808.0" y="102.15" font-family="Liberation Sans, sans-serif" font-size="11.3" fill="#000" textLength="83" lengthAdjust="spacingAndGlyphs">+1.07559e+000</text>
<line x1="1760.5" y1="122.70" x2="1776.5" y2="122.70" stroke="#000" stroke-width="1.2"/>
<line x1="1776.5" y1="122.70" x2="1807.5" y2="122.70" stroke="#aaa" stroke-width="1"/>
<text x="1808.0" y="126.70" font-family="Liberation Sans, sans-serif" font-size="11.3" fill="#000" textLength="78" lengthAdjust="spacingAndGlyphs">+8.83053e-001</text>
<line x1="1760.5" y1="147.25" x2="1776.5" y2="147.25" stroke="#000" stroke-width="1.2"/>
<line x1="1776.5" y1="147.25" x2="1807.5" y2="147.25" stroke="#aaa" stroke-width="1"/>
<text x="1808.0" y="151.25" font-family="Liberation Sans, sans-serif" font-size="11.3" fill="#000" textLength="78" lengthAdjust="spacingAndGlyphs">+7.36148e-001</text>
<line x1="1760.5" y1="171.80" x2="1776.5" y2="171.80" stroke="#000" stroke-width="1.2"/>
<line x1="1776.5" y1="171.80" x2="1807.5" y2="171.80" stroke="#aaa" stroke-width="1"/>
<text x="1808.0" y="175.80" font-family="Liberation Sans, sans-serif" font-size="11.3" fill="#000" textLength="78" lengthAdjust="spacingAndGlyphs">+6.11657e-001</text>
<line x1="1760.5" y1="196.35" x2="1776.5" y2="196.35" stroke="#000" stroke-width="1.2"/>
<line x1="1776.5" y1="196.35" x2="1807.5" y2="196.35" stroke="#aaa" stroke-width="1"/>
<text x="1808.0" y="200.35" font-family="Liberation Sans, sans-serif" font-size="11.3" fill="#000" textLength="78" lengthAdjust="spacingAndGlyphs">+5.03211e-001</text>
<line x1="1760.5" y1="220.90" x2="1776.5" y2="220.90" stroke="#000" stroke-width="1.2"/>
<line x1="1776.5" y1="220.90" x2="1807.5" y2="220.90" stroke="#aaa" stroke-width="1"/>
<text x="1808.0" y="224.90" font-family="Liberation Sans, sans-serif" font-size="11.3" fill="#000" textLength="78" lengthAdjust="spacingAndGlyphs">+4.06812e-001</text>
<line x1="1760.5" y1="245.45" x2="1776.5" y2="245.45" stroke="#000" stroke-width="1.2"/>
<line x1="1776.5" y1="245.45" x2="1807.5" y2="245.45" stroke="#aaa" stroke-width="1"/>
<text x="1808.0" y="249.45" font-family="Liberation Sans, sans-serif" font-size="11.3" fill="#000" textLength="78" lengthAdjust="spacingAndGlyphs">+3.20064e-001</text>
<line x1="1760.5" y1="270.00" x2="1776.5" y2="270.00" stroke="#000" stroke-width="1.2"/>
<line x1="1776.5" y1="270.00" x2="1807.5" y2="270.00" stroke="#aaa" stroke-width="1"/>
<text x="1808.0" y="274.00" font-family="Liberation Sans, sans-serif" font-size="11.3" fill="#000" textLength="78" lengthAdjust="spacingAndGlyphs">+2.41037e-001</text>
<line x1="1760.5" y1="294.55" x2="1776.5" y2="294.55" stroke="#000" stroke-width="1.2"/>
<line x1="1776.5" y1="294.55" x2="1807.5" y2="294.55" stroke="#aaa" stroke-width="1"/>
<text x="1808.0" y="298.55" font-family="Liberation Sans, sans-serif" font-size="11.3" fill="#000" textLength="78" lengthAdjust="spacingAndGlyphs">+1.69270e-001</text>
<line x1="1760.5" y1="319.10" x2="1776.5" y2="319.10" stroke="#000" stroke-width="1.2"/>
<line x1="1776.5" y1="319.10" x2="1807.5" y2="319.10" stroke="#aaa" stroke-width="1"/>
<text x="1808.0" y="323.10" font-family="Liberation Sans, sans-serif" font-size="11.3" fill="#000" textLength="78" lengthAdjust="spacingAndGlyphs">+1.04250e-001</text>
<line x1="1760.5" y1="343.65" x2="1776.5" y2="343.65" stroke="#000" stroke-width="1.2"/>
<line x1="1776.5" y1="343.65" x2="1807.5" y2="343.65" stroke="#aaa" stroke-width="1"/>
<text x="1808.0" y="347.65" font-family="Liberation Sans, sans-serif" font-size="11.3" fill="#000" textLength="78" lengthAdjust="spacingAndGlyphs">+4.64637e-002</text>
<line x1="1760.5" y1="368.20" x2="1776.5" y2="368.20" stroke="#000" stroke-width="1.2"/>
<line x1="1776.5" y1="368.20" x2="1807.5" y2="368.20" stroke="#aaa" stroke-width="1"/>
<text x="1808.0" y="372.20" font-family="Liberation Sans, sans-serif" font-size="11.3" fill="#000" textLength="83" lengthAdjust="spacingAndGlyphs">+0.00000e+000</text>
<line x1="1760.5" y1="73.6" x2="1760.5" y2="368.20" stroke="#000" stroke-width="1.2"/>
<line x1="1776.5" y1="73.6" x2="1776.5" y2="368.20" stroke="#000" stroke-width="1.2"/>
<text x="1781.0" y="89.08" font-family="Liberation Sans, sans-serif" font-size="11.3" fill="#ff0000" textLength="28" lengthAdjust="spacingAndGlyphs">0.8%</text>
<text x="1781.0" y="113.62" font-family="Liberation Sans, sans-serif" font-size="11.3" fill="#ff0000" textLength="28" lengthAdjust="spacingAndGlyphs">1.8%</text>
<text x="1781.0" y="138.17" font-family="Liberation Sans, sans-serif" font-size="11.3" fill="#ff0000" textLength="28" lengthAdjust="spacingAndGlyphs">2.7%</text>
<text x="1781.0" y="162.72" font-family="Liberation Sans, sans-serif" font-size="11.3" fill="#ff0000" textLength="28" lengthAdjust="spacingAndGlyphs">3.6%</text>
<text x="1781.0" y="187.28" font-family="Liberation Sans, sans-serif" font-size="11.3" fill="#ff0000" textLength="28" lengthAdjust="spacingAndGlyphs">4.5%</text>
<text x="1781.0" y="211.82" font-family="Liberation Sans, sans-serif" font-size="11.3" fill="#ff0000" textLength="28" lengthAdjust="spacingAndGlyphs">5.6%</text>
<text x="1781.0" y="236.38" font-family="Liberation Sans, sans-serif" font-size="11.3" fill="#ff0000" textLength="28" lengthAdjust="spacingAndGlyphs">6.6%</text>
<text x="1781.0" y="260.92" font-family="Liberation Sans, sans-serif" font-size="11.3" fill="#ff0000" textLength="28" lengthAdjust="spacingAndGlyphs">7.8%</text>
<text x="1781.0" y="285.47" font-family="Liberation Sans, sans-serif" font-size="11.3" fill="#ff0000" textLength="28" lengthAdjust="spacingAndGlyphs">9.1%</text>
<text x="1781.0" y="310.02" font-family="Liberation Sans, sans-serif" font-size="11.3" fill="#ff0000" textLength="34" lengthAdjust="spacingAndGlyphs">10.7%</text>
<text x="1781.0" y="334.57" font-family="Liberation Sans, sans-serif" font-size="11.3" fill="#ff0000" textLength="34" lengthAdjust="spacingAndGlyphs">13.3%</text>
<text x="1781.0" y="359.12" font-family="Liberation Sans, sans-serif" font-size="11.3" fill="#ff0000" textLength="34" lengthAdjust="spacingAndGlyphs">33.5%</text>
<text x="169.2" y="461.2" font-family="Liberation Sans, sans-serif" font-size="43.5" fill="#000" stroke="#fff" stroke-width="0.75" textLength="431.5" lengthAdjust="spacingAndGlyphs">(a) Intrados of radial joint</text>
<text x="784.2" y="461.2" font-family="Liberation Sans, sans-serif" font-size="43.5" fill="#000" stroke="#fff" stroke-width="0.75" textLength="442" lengthAdjust="spacingAndGlyphs">(b) Extrados of radial joint</text>
<text x="1425.6" y="461.2" font-family="Liberation Sans, sans-serif" font-size="43.5" fill="#000" stroke="#fff" stroke-width="0.75" textLength="401.5" lengthAdjust="spacingAndGlyphs">(c) Circumferential joint</text>
</svg>
</body></html>
